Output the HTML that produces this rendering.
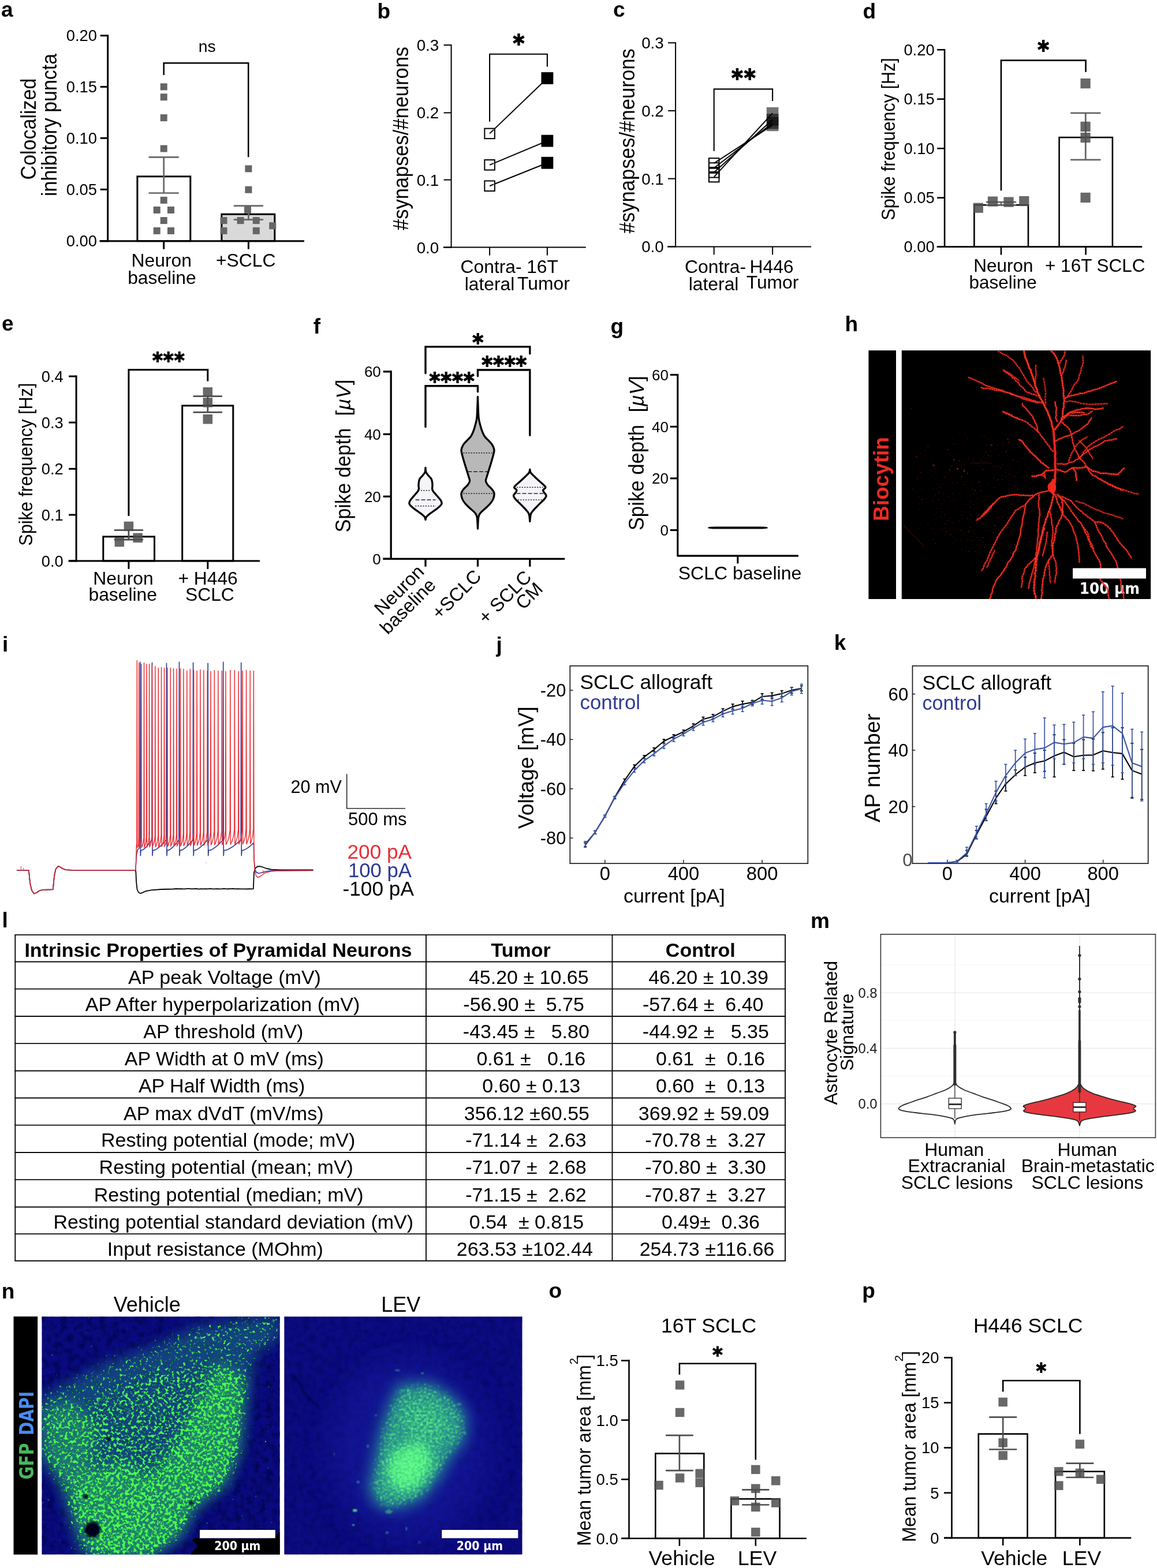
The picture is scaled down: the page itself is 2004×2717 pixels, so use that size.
<!DOCTYPE html>
<html lang="en">
<head>
<meta charset="utf-8">
<title>Extended Data Figure</title>
<style>
html,body{margin:0;padding:0;background:#fff;}
body{width:2004px;height:2717px;overflow:hidden;}
svg{display:block;}
text{font-family:"Liberation Sans",sans-serif;}
text.dj{font-family:"DejaVu Sans",sans-serif;}
</style>
</head>
<body>
<svg width="2004" height="2717" viewBox="0 0 2004 2717">
<defs>
<clipPath id="c1"><rect x="0" y="0" width="412.5" height="412.5"/></clipPath>
<clipPath id="ch"><rect x="0" y="0" width="431.4" height="430.8"/></clipPath>
<filter id="fg1" x="0" y="0" width="412.5" height="412.5" filterUnits="userSpaceOnUse" color-interpolation-filters="sRGB">
 <feGaussianBlur in="SourceGraphic" stdDeviation="7" result="m0"/>
 <feColorMatrix in="m0" type="matrix" values="0 0 0 1 0  0 0 0 1 0  0 0 0 1 0  0 0 0 0 1" result="m"/>
 <feTurbulence type="fractalNoise" baseFrequency="0.2" numOctaves="2" seed="7" result="t"/>
 <feColorMatrix in="t" type="matrix" values="1 0 0 0 0  1 0 0 0 0  1 0 0 0 0  0 0 0 0 1" result="n"/>
 <feComposite in="n" in2="m" operator="arithmetic" k1="0" k2="6" k3="2.1" k4="-4.62" result="a"/>
 <feColorMatrix in="a" type="matrix" values="0.22 0 0 0 0.08  0.25 0 0 0 0.75  0.2 0 0 0 0.12  1 0 0 0 0"/>
</filter>
<filter id="fg2" x="0" y="0" width="412.5" height="412.5" filterUnits="userSpaceOnUse" color-interpolation-filters="sRGB">
 <feGaussianBlur in="SourceGraphic" stdDeviation="9" result="m0"/>
 <feColorMatrix in="m0" type="matrix" values="0 0 0 1 0  0 0 0 1 0  0 0 0 1 0  0 0 0 0 1" result="m"/>
 <feTurbulence type="fractalNoise" baseFrequency="0.3" numOctaves="2" seed="11" result="t"/>
 <feColorMatrix in="t" type="matrix" values="1 0 0 0 0  1 0 0 0 0  1 0 0 0 0  0 0 0 0 1" result="n"/>
 <feComposite in="n" in2="m" operator="arithmetic" k1="0" k2="3.2" k3="3.0" k4="-2.9" result="a"/>
 <feColorMatrix in="a" type="matrix" values="0.3 0 0 0 0.1  0.2 0 0 0 0.8  0.3 0 0 0 0.25  1 0 0 0 0" result="g"/>
 <feGaussianBlur in="g" stdDeviation="0.9"/>
</filter>
<filter id="fbn" x="0" y="0" width="412.5" height="412.5" filterUnits="userSpaceOnUse" color-interpolation-filters="sRGB">
 <feTurbulence type="fractalNoise" baseFrequency="0.09" numOctaves="3" seed="4" result="t"/>
 <feColorMatrix in="t" type="matrix" values="0 0 0 0 0  0 0 0 0 0  0 0 0 0 0.25  1.6 0 0 0 -0.62"/>
</filter>
<filter id="fhn" x="0" y="0" width="431.4" height="430.8" filterUnits="userSpaceOnUse" color-interpolation-filters="sRGB">
 <feGaussianBlur in="SourceGraphic" stdDeviation="14" result="m0"/>
 <feColorMatrix in="m0" type="matrix" values="0 0 0 1 0  0 0 0 1 0  0 0 0 1 0  0 0 0 0 1" result="m"/>
 <feTurbulence type="fractalNoise" baseFrequency="0.38" numOctaves="1" seed="5" result="t"/>
 <feColorMatrix in="t" type="matrix" values="1 0 0 0 0  1 0 0 0 0  1 0 0 0 0  0 0 0 0 1" result="n"/>
 <feComposite in="n" in2="m" operator="arithmetic" k1="0" k2="9" k3="1.5" k4="-7.4" result="a"/>
 <feColorMatrix in="a" type="matrix" values="0 0 0 0 0.8  0 0 0 0 0.1  0 0 0 0 0.08  0.75 0 0 0 0"/>
</filter>
<filter id="blur2"><feGaussianBlur stdDeviation="2"/></filter>
<filter id="blur1" x="-5%" y="-5%" width="110%" height="110%"><feGaussianBlur stdDeviation="1.1"/></filter>
<filter id="blur5"><feGaussianBlur stdDeviation="5"/></filter>
<filter id="blur12" x="-50%" y="-50%" width="200%" height="200%"><feGaussianBlur stdDeviation="12"/></filter>
<filter id="blur25" x="-50%" y="-50%" width="200%" height="200%"><feGaussianBlur stdDeviation="25"/></filter>
<filter id="nblur" x="-5%" y="-5%" width="110%" height="110%"><feGaussianBlur stdDeviation="0.45"/></filter>
<clipPath id="chabs"><rect x="1561.8" y="607.2" width="431.4" height="430.8"/></clipPath></defs>
<rect width="2004" height="2717" fill="#fff"/>
<text x="2" y="29" font-size="37" font-weight="bold">a</text>
<rect x="237.9" y="305.8" width="91.9" height="111.9" fill="#fff" stroke="#000" stroke-width="3"/>
<rect x="383.9" y="371.2" width="91.9" height="46.5" fill="#d9d9d9" stroke="#000" stroke-width="3"/>
<line x1="186.7" y1="60.2" x2="186.7" y2="419.2" stroke="#000" stroke-width="3"/>
<line x1="172.5" y1="417.7" x2="527" y2="417.7" stroke="#000" stroke-width="3"/>
<line x1="173.7" y1="61.7" x2="186.7" y2="61.7" stroke="#000" stroke-width="3"/>
<line x1="173.7" y1="150.4" x2="186.7" y2="150.4" stroke="#000" stroke-width="3"/>
<line x1="173.7" y1="239.3" x2="186.7" y2="239.3" stroke="#000" stroke-width="3"/>
<line x1="173.7" y1="328.3" x2="186.7" y2="328.3" stroke="#000" stroke-width="3"/>
<line x1="173.7" y1="417.7" x2="186.7" y2="417.7" stroke="#000" stroke-width="3"/>
<line x1="283.7" y1="417.7" x2="283.7" y2="431.7" stroke="#000" stroke-width="3"/>
<line x1="430.4" y1="417.7" x2="430.4" y2="431.7" stroke="#000" stroke-width="3"/>
<text x="168" y="71.3" font-size="27.4" text-anchor="end">0.20</text>
<text x="168" y="160" font-size="27.4" text-anchor="end">0.15</text>
<text x="168" y="248.9" font-size="27.4" text-anchor="end">0.10</text>
<text x="168" y="337.9" font-size="27.4" text-anchor="end">0.05</text>
<text x="168" y="427.3" font-size="27.4" text-anchor="end">0.00</text>
<line x1="283.7" y1="272.3" x2="283.7" y2="334.5" stroke="#666666" stroke-width="2.7"/>
<line x1="258.7" y1="272.3" x2="308.7" y2="272.3" stroke="#666666" stroke-width="2.7" stroke-linecap="round"/>
<line x1="258.7" y1="334.5" x2="308.7" y2="334.5" stroke="#666666" stroke-width="2.7" stroke-linecap="round"/>
<line x1="430.4" y1="356.7" x2="430.4" y2="380.6" stroke="#666666" stroke-width="2.7"/>
<line x1="405.9" y1="356.7" x2="454.9" y2="356.7" stroke="#666666" stroke-width="2.7" stroke-linecap="round"/>
<line x1="405.9" y1="380.6" x2="454.9" y2="380.6" stroke="#666666" stroke-width="2.7" stroke-linecap="round"/>
<rect x="277.7" y="144.4" width="12" height="12" fill="#666666"/>
<rect x="277.7" y="162.2" width="12" height="12" fill="#666666"/>
<rect x="277.7" y="198.1" width="12" height="12" fill="#666666"/>
<rect x="277.7" y="251.5" width="12" height="12" fill="#666666"/>
<rect x="277.7" y="340.9" width="12" height="12" fill="#666666"/>
<rect x="265.7" y="357.9" width="12" height="12" fill="#666666"/>
<rect x="290" y="357.9" width="12" height="12" fill="#666666"/>
<rect x="277.7" y="376.1" width="12" height="12" fill="#666666"/>
<rect x="265.7" y="393.9" width="12" height="12" fill="#666666"/>
<rect x="290" y="393.9" width="12" height="12" fill="#666666"/>
<rect x="424.4" y="286.4" width="12" height="12" fill="#666666"/>
<rect x="424.4" y="322.7" width="12" height="12" fill="#666666"/>
<rect x="423" y="357.9" width="12" height="12" fill="#666666"/>
<rect x="381.5" y="376.1" width="12" height="12" fill="#666666"/>
<rect x="410.6" y="376.1" width="12" height="12" fill="#666666"/>
<rect x="437.8" y="376.1" width="12" height="12" fill="#666666"/>
<rect x="466.2" y="385.2" width="12" height="12" fill="#666666"/>
<rect x="381.5" y="393.9" width="12" height="12" fill="#666666"/>
<rect x="437.8" y="393.9" width="12" height="12" fill="#666666"/>
<path d="M283.7 130 L283.7 109.2 L430.2 109.2 L430.2 272.2" fill="none" stroke="#000" stroke-width="2.5" stroke-linejoin="miter"/>
<text x="358.8" y="90" font-size="28.3" text-anchor="middle">ns</text>
<text x="279.7" y="462.3" font-size="31.8" text-anchor="middle">Neuron</text>
<text x="280.4" y="492" font-size="31.8" text-anchor="middle">baseline</text>
<text x="425.7" y="462.3" font-size="31.8" text-anchor="middle">+SCLC</text>
<text x="62.1" y="311.4" font-size="37.5" transform="rotate(-90 62.1 311.4)" textLength="175.7" lengthAdjust="spacingAndGlyphs">Colocalized</text>
<text x="97.9" y="340" font-size="37.5" transform="rotate(-90 97.9 340)" textLength="247.09" lengthAdjust="spacingAndGlyphs">inhibitory puncta</text>
<text x="653.5" y="32" font-size="37" font-weight="bold">b</text>
<line x1="781.6" y1="77.1" x2="781.6" y2="429.6" stroke="#000" stroke-width="2"/>
<line x1="767.8" y1="428.6" x2="1014.8" y2="428.6" stroke="#000" stroke-width="2"/>
<line x1="768.6" y1="78.1" x2="781.6" y2="78.1" stroke="#000" stroke-width="2"/>
<line x1="768.6" y1="195.4" x2="781.6" y2="195.4" stroke="#000" stroke-width="2"/>
<line x1="768.6" y1="311.6" x2="781.6" y2="311.6" stroke="#000" stroke-width="2"/>
<line x1="768.6" y1="428.6" x2="781.6" y2="428.6" stroke="#000" stroke-width="2"/>
<line x1="848.1" y1="428.6" x2="848.1" y2="442.6" stroke="#000" stroke-width="2"/>
<line x1="947.9" y1="428.6" x2="947.9" y2="442.6" stroke="#000" stroke-width="2"/>
<text x="760.3" y="88" font-size="27.8" text-anchor="end">0.3</text>
<text x="760.3" y="205.3" font-size="27.8" text-anchor="end">0.2</text>
<text x="760.3" y="321.5" font-size="27.8" text-anchor="end">0.1</text>
<text x="760.3" y="438.5" font-size="27.8" text-anchor="end">0.0</text>
<text x="707.4" y="399" font-size="37" transform="rotate(-90 707.4 399)" textLength="318.1" lengthAdjust="spacingAndGlyphs">#synapses/#neurons</text>
<line x1="848.1" y1="231.4" x2="947.9" y2="135.5" stroke="#000" stroke-width="2"/>
<line x1="848.1" y1="285.8" x2="947.9" y2="244.1" stroke="#000" stroke-width="2"/>
<line x1="848.1" y1="322.2" x2="947.9" y2="282.2" stroke="#000" stroke-width="2"/>
<rect x="839.35" y="222.65" width="17.5" height="17.5" fill="#fff" stroke="#000" stroke-width="2"/>
<rect x="937.5" y="125.1" width="20.8" height="20.8" fill="#000"/>
<line x1="848.1" y1="231.4" x2="855.1" y2="224.67" stroke="#000" stroke-width="2"/>
<rect x="839.35" y="277.05" width="17.5" height="17.5" fill="#fff" stroke="#000" stroke-width="2"/>
<rect x="937.5" y="233.7" width="20.8" height="20.8" fill="#000"/>
<line x1="848.1" y1="285.8" x2="855.1" y2="282.88" stroke="#000" stroke-width="2"/>
<rect x="839.35" y="313.45" width="17.5" height="17.5" fill="#fff" stroke="#000" stroke-width="2"/>
<rect x="937.5" y="271.8" width="20.8" height="20.8" fill="#000"/>
<line x1="848.1" y1="322.2" x2="855.1" y2="319.39" stroke="#000" stroke-width="2"/>
<path d="M848.1 210.7 L848.1 93.8 L947.9 93.8 L947.9 115.5" fill="none" stroke="#000" stroke-width="2.1" stroke-linejoin="miter"/>
<text x="886.23" y="78.7" font-size="28.8" class="dj">✱</text>
<text x="850.6" y="473.2" font-size="31.8" text-anchor="middle">Contra-</text>
<text x="848" y="503" font-size="31.8" text-anchor="middle">lateral</text>
<text x="939.6" y="473.2" font-size="31.8" text-anchor="middle">16T</text>
<text x="941.4" y="501.5" font-size="31.8" text-anchor="middle">Tumor</text>
<text x="1062" y="28.8" font-size="37" font-weight="bold">c</text>
<line x1="1170.1" y1="73.2" x2="1170.1" y2="428.4" stroke="#000" stroke-width="2"/>
<line x1="1155.9" y1="427.4" x2="1405" y2="427.4" stroke="#000" stroke-width="2"/>
<line x1="1157.1" y1="74.2" x2="1170.1" y2="74.2" stroke="#000" stroke-width="2"/>
<line x1="1157.1" y1="191.9" x2="1170.1" y2="191.9" stroke="#000" stroke-width="2"/>
<line x1="1157.1" y1="309.6" x2="1170.1" y2="309.6" stroke="#000" stroke-width="2"/>
<line x1="1157.1" y1="427.4" x2="1170.1" y2="427.4" stroke="#000" stroke-width="2"/>
<line x1="1236.7" y1="427.4" x2="1236.7" y2="441.4" stroke="#000" stroke-width="2"/>
<line x1="1338.1" y1="427.4" x2="1338.1" y2="441.4" stroke="#000" stroke-width="2"/>
<text x="1149.8" y="84.1" font-size="27.8" text-anchor="end">0.3</text>
<text x="1149.8" y="201.8" font-size="27.8" text-anchor="end">0.2</text>
<text x="1149.8" y="319.5" font-size="27.8" text-anchor="end">0.1</text>
<text x="1149.8" y="437.3" font-size="27.8" text-anchor="end">0.0</text>
<text x="1098.6" y="404.6" font-size="37" transform="rotate(-90 1098.6 404.6)" textLength="320.5" lengthAdjust="spacingAndGlyphs">#synapses/#neurons</text>
<rect x="1327.8" y="206.6" width="20.6" height="20.6" fill="#000" fill-opacity="0.55"/>
<rect x="1327.8" y="202.9" width="20.6" height="20.6" fill="#000" fill-opacity="0.55"/>
<rect x="1327.8" y="197.2" width="20.6" height="20.6" fill="#000" fill-opacity="0.55"/>
<rect x="1327.8" y="185.8" width="20.6" height="20.6" fill="#000" fill-opacity="0.55"/>
<rect x="1227.95" y="274.15" width="17.5" height="17.5" fill="none" stroke="#000" stroke-width="2"/>
<rect x="1227.95" y="282.25" width="17.5" height="17.5" fill="none" stroke="#000" stroke-width="2"/>
<rect x="1227.95" y="290.05" width="17.5" height="17.5" fill="none" stroke="#000" stroke-width="2"/>
<rect x="1227.95" y="297.85" width="17.5" height="17.5" fill="none" stroke="#000" stroke-width="2"/>
<line x1="1236.7" y1="282.9" x2="1338.1" y2="216.9" stroke="#000" stroke-width="2"/>
<line x1="1236.7" y1="291" x2="1338.1" y2="213.2" stroke="#000" stroke-width="2"/>
<line x1="1236.7" y1="298.8" x2="1338.1" y2="207.5" stroke="#000" stroke-width="2"/>
<line x1="1236.7" y1="306.6" x2="1338.1" y2="196.1" stroke="#000" stroke-width="2"/>
<path d="M1236.7 261.8 L1236.7 154.4 L1338.1 154.4 L1338.1 174.9" fill="none" stroke="#000" stroke-width="2.1" stroke-linejoin="miter"/>
<text x="1264.73" y="139.4" font-size="28.8" class="dj" letter-spacing="-2.33">✱✱</text>
<text x="1239.1" y="473.2" font-size="31.8" text-anchor="middle">Contra-</text>
<text x="1236.1" y="503.4" font-size="31.8" text-anchor="middle">lateral</text>
<text x="1336.5" y="473.2" font-size="31.8" text-anchor="middle">H446</text>
<text x="1338" y="500.4" font-size="31.8" text-anchor="middle">Tumor</text>
<text x="1494.6" y="31.9" font-size="37" font-weight="bold">d</text>
<rect x="1687.4" y="355.2" width="93.6" height="72.4" fill="#fff" stroke="#000" stroke-width="2.6"/>
<rect x="1834.6" y="238.1" width="92.3" height="189.5" fill="#fff" stroke="#000" stroke-width="2.6"/>
<line x1="1636.1" y1="84.9" x2="1636.1" y2="428.9" stroke="#000" stroke-width="2.6"/>
<line x1="1622.7" y1="427.6" x2="1978.2" y2="427.6" stroke="#000" stroke-width="2.6"/>
<line x1="1623.1" y1="86.2" x2="1636.1" y2="86.2" stroke="#000" stroke-width="2.6"/>
<line x1="1623.1" y1="171.7" x2="1636.1" y2="171.7" stroke="#000" stroke-width="2.6"/>
<line x1="1623.1" y1="257.2" x2="1636.1" y2="257.2" stroke="#000" stroke-width="2.6"/>
<line x1="1623.1" y1="342.7" x2="1636.1" y2="342.7" stroke="#000" stroke-width="2.6"/>
<line x1="1623.1" y1="427.6" x2="1636.1" y2="427.6" stroke="#000" stroke-width="2.6"/>
<line x1="1734" y1="427.6" x2="1734" y2="441.6" stroke="#000" stroke-width="2.6"/>
<line x1="1880.6" y1="427.6" x2="1880.6" y2="441.6" stroke="#000" stroke-width="2.6"/>
<text x="1618.7" y="95.8" font-size="27.4" text-anchor="end">0.20</text>
<text x="1618.7" y="181.3" font-size="27.4" text-anchor="end">0.15</text>
<text x="1618.7" y="266.8" font-size="27.4" text-anchor="end">0.10</text>
<text x="1618.7" y="352.3" font-size="27.4" text-anchor="end">0.05</text>
<text x="1618.7" y="437.2" font-size="27.4" text-anchor="end">0.00</text>
<line x1="1734" y1="350.2" x2="1734" y2="355.5" stroke="#666666" stroke-width="2.8"/>
<line x1="1709" y1="350.2" x2="1759" y2="350.2" stroke="#666666" stroke-width="2.8" stroke-linecap="round"/>
<line x1="1709" y1="355.5" x2="1759" y2="355.5" stroke="#666666" stroke-width="2.8" stroke-linecap="round"/>
<line x1="1880.3" y1="195.8" x2="1880.3" y2="276.9" stroke="#666666" stroke-width="2.8"/>
<line x1="1855.3" y1="195.8" x2="1905.3" y2="195.8" stroke="#666666" stroke-width="2.8" stroke-linecap="round"/>
<line x1="1855.3" y1="276.9" x2="1905.3" y2="276.9" stroke="#666666" stroke-width="2.8" stroke-linecap="round"/>
<rect x="1685.7" y="351.6" width="17.2" height="17.2" fill="#4d4d4d" fill-opacity="0.85"/>
<rect x="1710.9" y="340.5" width="17.2" height="17.2" fill="#4d4d4d" fill-opacity="0.85"/>
<rect x="1738.4" y="341.5" width="17.2" height="17.2" fill="#4d4d4d" fill-opacity="0.85"/>
<rect x="1765.2" y="339.9" width="17.2" height="17.2" fill="#4d4d4d" fill-opacity="0.85"/>
<rect x="1871.5" y="136" width="17.2" height="17.2" fill="#4d4d4d" fill-opacity="0.85"/>
<rect x="1871.5" y="210.8" width="17.2" height="17.2" fill="#4d4d4d" fill-opacity="0.85"/>
<rect x="1871.5" y="229.9" width="17.2" height="17.2" fill="#4d4d4d" fill-opacity="0.85"/>
<rect x="1871.5" y="333.8" width="17.2" height="17.2" fill="#4d4d4d" fill-opacity="0.85"/>
<path d="M1734 330.3 L1734 104.6 L1880.6 104.6 L1880.6 124.7" fill="none" stroke="#000" stroke-width="2.6" stroke-linejoin="miter"/>
<text x="1794.93" y="90.3" font-size="28.8" class="dj">✱</text>
<text x="1738" y="470.5" font-size="31.5" text-anchor="middle">Neuron</text>
<text x="1737.2" y="499.7" font-size="31.5" text-anchor="middle">baseline</text>
<text x="1896.8" y="470.5" font-size="31.5" text-anchor="middle">+ 16T SCLC</text>
<text x="1549.8" y="381.7" font-size="33" transform="rotate(-90 1549.8 381.7)" textLength="281.5" lengthAdjust="spacingAndGlyphs">Spike frequency [Hz]</text>
<text x="3.1" y="573" font-size="37" font-weight="bold">e</text>
<rect x="178.8" y="929.9" width="88.7" height="42" fill="#fff" stroke="#000" stroke-width="3"/>
<rect x="315.7" y="702.9" width="88.1" height="269" fill="#fff" stroke="#000" stroke-width="3"/>
<line x1="132.1" y1="650.6" x2="132.1" y2="973.4" stroke="#000" stroke-width="3"/>
<line x1="118.6" y1="971.9" x2="450.1" y2="971.9" stroke="#000" stroke-width="3"/>
<line x1="119.1" y1="652.1" x2="132.1" y2="652.1" stroke="#000" stroke-width="3"/>
<line x1="119.1" y1="732.1" x2="132.1" y2="732.1" stroke="#000" stroke-width="3"/>
<line x1="119.1" y1="812.4" x2="132.1" y2="812.4" stroke="#000" stroke-width="3"/>
<line x1="119.1" y1="892.1" x2="132.1" y2="892.1" stroke="#000" stroke-width="3"/>
<line x1="119.1" y1="971.9" x2="132.1" y2="971.9" stroke="#000" stroke-width="3"/>
<line x1="222.9" y1="971.9" x2="222.9" y2="985.9" stroke="#000" stroke-width="3"/>
<line x1="359.8" y1="971.9" x2="359.8" y2="985.9" stroke="#000" stroke-width="3"/>
<text x="109.8" y="661.8" font-size="27.3" text-anchor="end">0.4</text>
<text x="109.8" y="741.8" font-size="27.3" text-anchor="end">0.3</text>
<text x="109.8" y="822.1" font-size="27.3" text-anchor="end">0.2</text>
<text x="109.8" y="901.8" font-size="27.3" text-anchor="end">0.1</text>
<text x="109.8" y="981.6" font-size="27.3" text-anchor="end">0.0</text>
<line x1="222.9" y1="918.7" x2="222.9" y2="935" stroke="#4d4d4d" stroke-width="2.8"/>
<line x1="198.9" y1="918.7" x2="246.9" y2="918.7" stroke="#4d4d4d" stroke-width="2.8" stroke-linecap="round"/>
<line x1="198.9" y1="935" x2="246.9" y2="935" stroke="#4d4d4d" stroke-width="2.8" stroke-linecap="round"/>
<line x1="359.8" y1="686.7" x2="359.8" y2="714.4" stroke="#4d4d4d" stroke-width="2.8"/>
<line x1="335.8" y1="686.7" x2="383.8" y2="686.7" stroke="#4d4d4d" stroke-width="2.8" stroke-linecap="round"/>
<line x1="335.8" y1="714.4" x2="383.8" y2="714.4" stroke="#4d4d4d" stroke-width="2.8" stroke-linecap="round"/>
<rect x="214.65" y="903.75" width="16.5" height="16.5" fill="#4d4d4d" fill-opacity="0.85"/>
<rect x="198.55" y="930.85" width="16.5" height="16.5" fill="#4d4d4d" fill-opacity="0.85"/>
<rect x="230.35" y="923.65" width="16.5" height="16.5" fill="#4d4d4d" fill-opacity="0.85"/>
<rect x="351.55" y="671.15" width="16.5" height="16.5" fill="#4d4d4d" fill-opacity="0.85"/>
<rect x="351.55" y="689.15" width="16.5" height="16.5" fill="#4d4d4d" fill-opacity="0.85"/>
<rect x="351.55" y="718.05" width="16.5" height="16.5" fill="#4d4d4d" fill-opacity="0.85"/>
<path d="M222.9 894.1 L222.9 640.7 L359.8 640.7 L359.8 660.6" fill="none" stroke="#000" stroke-width="3" stroke-linejoin="miter"/>
<text x="261.92" y="628.15" font-size="26.2" class="dj" letter-spacing="-3.06">✱✱✱</text>
<text x="213.5" y="1013.1" font-size="31.8" text-anchor="middle">Neuron</text>
<text x="212.7" y="1040.5" font-size="31.8" text-anchor="middle">baseline</text>
<text x="360.1" y="1013.1" font-size="31.8" text-anchor="middle">+ H446</text>
<text x="363.4" y="1040.5" font-size="31.8" text-anchor="middle">SCLC</text>
<text x="55.7" y="945.7" font-size="33" transform="rotate(-90 55.7 945.7)" textLength="282.1" lengthAdjust="spacingAndGlyphs">Spike frequency [Hz]</text>
<text x="542.7" y="577.8" font-size="37" font-weight="bold">f</text>
<line x1="677.2" y1="642.25" x2="677.2" y2="969.95" stroke="#000" stroke-width="3.3"/>
<line x1="663.5" y1="968.3" x2="978.2" y2="968.3" stroke="#000" stroke-width="3.3"/>
<line x1="663.7" y1="643.9" x2="677.2" y2="643.9" stroke="#000" stroke-width="3.3"/>
<line x1="663.7" y1="752.4" x2="677.2" y2="752.4" stroke="#000" stroke-width="3.3"/>
<line x1="663.7" y1="860.3" x2="677.2" y2="860.3" stroke="#000" stroke-width="3.3"/>
<line x1="663.7" y1="968.3" x2="677.2" y2="968.3" stroke="#000" stroke-width="3.3"/>
<line x1="737" y1="968.3" x2="737" y2="981.8" stroke="#000" stroke-width="3.3"/>
<line x1="827.5" y1="968.3" x2="827.5" y2="981.8" stroke="#000" stroke-width="3.3"/>
<line x1="917.8" y1="968.3" x2="917.8" y2="981.8" stroke="#000" stroke-width="3.3"/>
<text x="659.8" y="653.4" font-size="26" text-anchor="end">60</text>
<text x="659.8" y="761.9" font-size="26" text-anchor="end">40</text>
<text x="659.8" y="869.8" font-size="26" text-anchor="end">20</text>
<text x="659.8" y="977.8" font-size="26" text-anchor="end">0</text>
<text x="607.1" y="922.6" font-size="36.7" transform="rotate(-90 607.1 922.6)" textLength="180.79" lengthAdjust="spacingAndGlyphs">Spike depth</text>
<text x="607.1" y="720.8" font-size="35.5" transform="rotate(-90 607.1 720.8)" textLength="63.3" lengthAdjust="spacingAndGlyphs">[<tspan font-style="italic">µV</tspan>]</text>
<path d="M737 810.51 C737.16 811.8 737.06 815.93 737.97 818.26 C738.87 820.58 740.91 822.52 742.42 824.46 C743.94 826.39 746.04 828.01 747.07 829.88 C748.11 831.75 748.3 833.75 748.62 835.69 C748.95 837.63 749.01 839.56 749.01 841.5 C749.01 843.44 748.43 845.7 748.62 847.31 C748.82 848.93 749.36 849.9 750.17 851.19 C750.98 852.48 752.24 853.61 753.46 855.06 C754.69 856.51 756.14 858.29 757.53 859.9 C758.92 861.52 760.66 863.29 761.79 864.75 C762.92 866.2 763.76 867.49 764.31 868.62 C764.86 869.75 765.09 870.56 765.09 871.53 C765.09 872.49 765.05 873.3 764.31 874.43 C763.57 875.56 762.02 877.01 760.63 878.31 C759.24 879.6 757.92 880.73 755.98 882.18 C754.05 883.63 751.27 885.41 749.01 887.02 C746.75 888.64 744.17 890.41 742.42 891.86 C740.68 893.32 739.45 894.29 738.55 895.74 C737.65 897.19 737.26 899.77 737 900.58 L737 900.58 C736.74 899.77 736.35 897.19 735.45 895.74 C734.55 894.29 733.32 893.32 731.58 891.86 C729.83 890.41 727.25 888.64 724.99 887.02 C722.73 885.41 719.95 883.63 718.02 882.18 C716.08 880.73 714.76 879.6 713.37 878.31 C711.98 877.01 710.43 875.56 709.69 874.43 C708.95 873.3 708.91 872.49 708.91 871.53 C708.91 870.56 709.14 869.75 709.69 868.62 C710.24 867.49 711.08 866.2 712.21 864.75 C713.34 863.29 715.08 861.52 716.47 859.9 C717.86 858.29 719.31 856.51 720.54 855.06 C721.76 853.61 723.02 852.48 723.83 851.19 C724.64 849.9 725.18 848.93 725.38 847.31 C725.57 845.7 724.99 843.44 724.99 841.5 C724.99 839.56 725.05 837.63 725.38 835.69 C725.7 833.75 725.89 831.75 726.93 829.88 C727.96 828.01 730.06 826.39 731.58 824.46 C733.09 822.52 735.13 820.58 736.03 818.26 C736.94 815.93 736.84 811.8 737 810.51 Z" fill="#f4f4f9" stroke="#000" stroke-width="3.3" stroke-linejoin="round"/>
<path d="M827.5 687.51 C827.6 690.25 827.82 698 828.08 703.97 C828.34 709.94 828.5 718.18 829.05 723.34 C829.6 728.51 830.41 731.09 831.37 734.96 C832.34 738.84 833.5 743.03 834.86 746.59 C836.22 750.14 837.51 753.37 839.51 756.27 C841.51 759.18 844.68 761.6 846.87 764.02 C849.07 766.44 851.16 768.22 852.68 770.8 C854.2 773.38 855.72 776.45 855.97 779.52 C856.23 782.58 855.17 785.33 854.23 789.2 C853.29 793.08 851.75 798.08 850.36 802.76 C848.97 807.44 847.19 813.09 845.9 817.29 C844.61 821.49 843.35 825.2 842.61 827.94 C841.87 830.69 841.06 831.65 841.45 833.75 C841.83 835.85 843.22 838.27 844.93 840.53 C846.64 842.79 849.87 844.89 851.71 847.31 C853.55 849.73 855.55 852.15 855.97 855.06 C856.39 857.97 855.36 861.84 854.23 864.75 C853.1 867.65 851.33 869.91 849.19 872.49 C847.06 875.08 844.16 877.66 841.45 880.24 C838.73 882.82 835.02 885.41 832.92 887.99 C830.83 890.57 829.76 891.06 828.86 895.74 C827.95 900.42 827.73 912.69 827.5 916.08 L827.5 916.08 C827.27 912.69 827.05 900.42 826.14 895.74 C825.24 891.06 824.17 890.57 822.08 887.99 C819.98 885.41 816.27 882.82 813.55 880.24 C810.84 877.66 807.94 875.08 805.81 872.49 C803.67 869.91 801.9 867.65 800.77 864.75 C799.64 861.84 798.61 857.97 799.03 855.06 C799.45 852.15 801.45 849.73 803.29 847.31 C805.13 844.89 808.36 842.79 810.07 840.53 C811.78 838.27 813.17 835.85 813.55 833.75 C813.94 831.65 813.13 830.69 812.39 827.94 C811.65 825.2 810.39 821.49 809.1 817.29 C807.81 813.09 806.03 807.44 804.64 802.76 C803.25 798.08 801.71 793.08 800.77 789.2 C799.83 785.33 798.77 782.58 799.03 779.52 C799.28 776.45 800.8 773.38 802.32 770.8 C803.84 768.22 805.93 766.44 808.13 764.02 C810.32 761.6 813.49 759.18 815.49 756.27 C817.49 753.37 818.78 750.14 820.14 746.59 C821.5 743.03 822.66 738.84 823.63 734.96 C824.59 731.09 825.4 728.51 825.95 723.34 C826.5 718.18 826.66 709.94 826.92 703.97 C827.18 698 827.4 690.25 827.5 687.51 Z" fill="#b8b8b8" stroke="#000" stroke-width="3.3" stroke-linejoin="round"/>
<path d="M917.8 813.41 C918.06 814.38 917.99 817.13 919.35 819.23 C920.71 821.32 923.45 823.58 925.94 826 C928.42 828.43 931.59 831.33 934.26 833.75 C936.94 836.17 940.24 838.66 942.01 840.53 C943.79 842.41 945.14 843.54 944.92 844.99 C944.69 846.44 941.04 847.83 940.66 849.25 C940.27 850.67 941.69 851.9 942.59 853.51 C943.5 855.13 946.02 857.06 946.08 858.93 C946.15 860.81 944.47 862.81 942.98 864.75 C941.5 866.68 939.27 868.46 937.17 870.56 C935.07 872.66 932.59 875.08 930.39 877.34 C928.2 879.6 925.84 881.86 924 884.12 C922.16 886.38 920.38 887.67 919.35 890.9 C918.32 894.12 918.06 901.39 917.8 903.49 L917.8 903.49 C917.54 901.39 917.28 894.12 916.25 890.9 C915.22 887.67 913.44 886.38 911.6 884.12 C909.76 881.86 907.4 879.6 905.21 877.34 C903.01 875.08 900.53 872.66 898.43 870.56 C896.33 868.46 894.1 866.68 892.62 864.75 C891.13 862.81 889.45 860.81 889.52 858.93 C889.58 857.06 892.1 855.13 893.01 853.51 C893.91 851.9 895.33 850.67 894.94 849.25 C894.56 847.83 890.91 846.44 890.68 844.99 C890.46 843.54 891.81 842.41 893.59 840.53 C895.36 838.66 898.66 836.17 901.34 833.75 C904.01 831.33 907.18 828.43 909.66 826 C912.15 823.58 914.89 821.32 916.25 819.23 C917.61 817.13 917.54 814.38 917.8 813.41 Z" fill="#f4f4f9" stroke="#000" stroke-width="3.3" stroke-linejoin="round"/>
<line x1="728.86" y1="849.83" x2="745.14" y2="849.83" stroke="#000" stroke-width="1.3" stroke-dasharray="2.2 2.2"/>
<line x1="719.57" y1="866.1" x2="754.43" y2="866.1" stroke="#000" stroke-width="1.3" stroke-dasharray="7 3"/>
<line x1="719.18" y1="876.95" x2="754.82" y2="876.95" stroke="#000" stroke-width="1.3" stroke-dasharray="2.2 2.2"/>
<line x1="802.32" y1="784.94" x2="852.68" y2="784.94" stroke="#000" stroke-width="1.3" stroke-dasharray="2.2 2.2"/>
<line x1="810.07" y1="817.29" x2="844.93" y2="817.29" stroke="#000" stroke-width="1.3" stroke-dasharray="7 3"/>
<line x1="802.32" y1="855.06" x2="852.68" y2="855.06" stroke="#000" stroke-width="1.3" stroke-dasharray="2.2 2.2"/>
<line x1="894.94" y1="844.41" x2="940.66" y2="844.41" stroke="#000" stroke-width="1.3" stroke-dasharray="2.2 2.2"/>
<line x1="894.56" y1="855.06" x2="941.04" y2="855.06" stroke="#000" stroke-width="1.3" stroke-dasharray="7 3"/>
<line x1="896.88" y1="866.1" x2="938.72" y2="866.1" stroke="#000" stroke-width="1.3" stroke-dasharray="2.2 2.2"/>
<path d="M737 646.8 L737 600.9 L917.8 600.9 L917.8 612.9" fill="none" stroke="#000" stroke-width="3.4" stroke-linecap="round" stroke-linejoin="miter"/>
<path d="M737 739.8 L737 668.7 L827.5 668.7 L827.5 678.8" fill="none" stroke="#000" stroke-width="3.4" stroke-linecap="round" stroke-linejoin="miter"/>
<path d="M827.5 651.7 L827.5 641 L917.8 641 L917.8 754.3" fill="none" stroke="#000" stroke-width="3.4" stroke-linecap="round" stroke-linejoin="miter"/>
<text x="815.98" y="596.82" font-size="27.5" class="dj">✱</text>
<text x="741.33" y="663.72" font-size="27.5" class="dj" letter-spacing="-3.34">✱✱✱✱</text>
<text x="832.03" y="635.62" font-size="27.5" class="dj" letter-spacing="-3.34">✱✱✱✱</text>
<text x="736.4" y="992.5" font-size="32.3" text-anchor="end" transform="rotate(-45 736.4 992.5)">Neuron</text>
<text x="756.7" y="1015.7" font-size="32.3" text-anchor="end" transform="rotate(-45 756.7 1015.7)">baseline</text>
<text x="835.6" y="1000.6" font-size="32.3" text-anchor="end" transform="rotate(-45 835.6 1000.6)">+SCLC</text>
<text x="922.4" y="1002.1" font-size="32.3" text-anchor="end" transform="rotate(-45 922.4 1002.1)">+ SCLC</text>
<text x="942" y="1022.6" font-size="32.3" text-anchor="end" transform="rotate(-45 942 1022.6)">CM</text>
<text x="1057.5" y="577.8" font-size="37" font-weight="bold">g</text>
<line x1="1173.8" y1="647.9" x2="1173.8" y2="964.6" stroke="#000" stroke-width="3.1"/>
<line x1="1173.8" y1="963.1" x2="1382.9" y2="963.1" stroke="#000" stroke-width="3.1"/>
<line x1="1160.7" y1="649.4" x2="1173.8" y2="649.4" stroke="#000" stroke-width="3.1"/>
<line x1="1160.7" y1="739.3" x2="1173.8" y2="739.3" stroke="#000" stroke-width="3.1"/>
<line x1="1160.7" y1="828.9" x2="1173.8" y2="828.9" stroke="#000" stroke-width="3.1"/>
<line x1="1160.7" y1="918.6" x2="1173.8" y2="918.6" stroke="#000" stroke-width="3.1"/>
<line x1="1277.8" y1="963.1" x2="1277.8" y2="976.5" stroke="#000" stroke-width="3.1"/>
<text x="1158" y="658.9" font-size="26" text-anchor="end">60</text>
<text x="1158" y="748.8" font-size="26" text-anchor="end">40</text>
<text x="1158" y="838.4" font-size="26" text-anchor="end">20</text>
<text x="1158" y="928.1" font-size="26" text-anchor="end">0</text>
<text x="1115" y="919.3" font-size="36.7" transform="rotate(-90 1115 919.3)" textLength="183.39" lengthAdjust="spacingAndGlyphs">Spike depth</text>
<text x="1115" y="714.4" font-size="35.5" transform="rotate(-90 1115 714.4)" textLength="63.3" lengthAdjust="spacingAndGlyphs">[<tspan font-style="italic">µV</tspan>]</text>
<path d="M1227 914.4 Q1228 913.2 1240 913.2 L1316 913.2 Q1328 913.2 1329 914.4 Q1328 915.6 1316 915.6 L1240 915.6 Q1228 915.6 1227 914.4 Z" fill="#000" stroke="#000" stroke-width="1.6"/>
<text x="1281.5" y="1004.1" font-size="32" text-anchor="middle">SCLC baseline</text>
<text x="1463.5" y="573.5" font-size="37" font-weight="bold">h</text>
<rect x="1504.4" y="607.2" width="47.6" height="430.8" fill="#000"/>
<rect x="1561.8" y="607.2" width="431.4" height="430.8" fill="#000"/>
<text x="1539" y="830" font-size="37" text-anchor="middle" font-weight="bold" fill="#ee2a24" transform="rotate(-90 1539 830)">Biocytin</text>
<text x="1869.8" y="1029.1" font-size="27.2" font-weight="bold" fill="#fff" class="dj" textLength="104.3" lengthAdjust="spacingAndGlyphs">100 µm</text>
<g clip-path="url(#chabs)">
<g transform="translate(1561.8 607.2)"><g filter="url(#fhn)"><ellipse cx="150" cy="250" rx="140" ry="130" fill="#fff" fill-opacity="0.75"/><ellipse cx="150" cy="300" rx="60" ry="25" fill="#fff" fill-opacity="0.5"/><rect width="431.4" height="430.8" fill="#fff" fill-opacity="0.12"/></g></g>
<circle cx="1658.23" cy="812.18" r="1.79" fill="#f0281e" fill-opacity="0.55"/>
<circle cx="1670.02" cy="816.11" r="1.53" fill="#f0281e" fill-opacity="0.6"/>
<circle cx="1652.34" cy="796.46" r="1.28" fill="#f0281e" fill-opacity="0.5"/>
<circle cx="1616.97" cy="806.29" r="2.3" fill="#f0281e" fill-opacity="0.3"/>
<circle cx="1717.17" cy="770.92" r="2.04" fill="#f0281e" fill-opacity="0.3"/>
<circle cx="1745.66" cy="761.1" r="1.02" fill="#f0281e" fill-opacity="0.6"/>
<circle cx="1742.71" cy="782.71" r="1.02" fill="#f0281e" fill-opacity="0.5"/>
<circle cx="1695.56" cy="834.77" r="1.02" fill="#f0281e" fill-opacity="0.6"/>
<circle cx="1587.5" cy="791.55" r="1.02" fill="#f0281e" fill-opacity="0.5"/>
<circle cx="1607.15" cy="772.89" r="0.77" fill="#f0281e" fill-opacity="0.4"/>
<circle cx="1578.66" cy="707.66" r="0.77" fill="#f0281e" fill-opacity="0.5"/>
<circle cx="1662.16" cy="798.43" r="1.02" fill="#f0281e" fill-opacity="0.5"/>
<circle cx="1644.48" cy="814.15" r="1.02" fill="#f0281e" fill-opacity="0.45"/>
<circle cx="1675.91" cy="820.04" r="1.02" fill="#f0281e" fill-opacity="0.5"/>
<line x1="1565.89" y1="910.41" x2="1601.26" y2="947.74" stroke="#f0281e" stroke-width="1.1" stroke-dasharray="1.2 2.6" stroke-opacity="0.7"/>
<line x1="1681.81" y1="802.36" x2="1717.17" y2="802.36" stroke="#f0281e" stroke-width="1.1" stroke-dasharray="1.2 2.2" stroke-opacity="0.5"/>
<g fill="none" stroke="#d81a12" stroke-linecap="round" stroke-linejoin="round" filter="url(#blur1)" opacity="0.55">
<path d="M1827.12 836.08 L1827.25 832.57 L1827.55 828.53 L1827.18 825.08 L1827.54 821.8 L1828.03 818 L1828.05 814.37 L1827.69 810.97 L1827.65 808.07 L1827.51 804.73 L1827.47 801.36 L1827.62 797.86 L1827.97 794.29 L1827.29 791.74 L1827.6 787.81 L1827.93 785.22 L1827.29 781.56 L1826.93 778.07 L1827.06 774.58 L1826.86 771.12 L1826.18 768.36 L1826.1 764.67 L1826 761.34 L1825.61 757.75 L1825.42 754.13 L1825.2 749.65 L1824.32 745.21" stroke-width="4.6"/>
<path d="M1824.39 745.28 L1823.77 741.91 L1822 737.62 L1821.46 734.4 L1821.23 730.75 L1819.62 727.28 L1818.39 723.51 L1816.71 719.74 L1815.6 716.63 L1814.21 712.62 L1812.47 709.98 L1810.81 706.44 L1809.81 704.08 L1807.92 700.91 L1807 697.95 L1805.29 695.48 L1803.48 692.21 L1801.2 688.89 L1799.67 684.52 L1798.19 681.92 L1796.23 678.1 L1796.29 674.94 L1794.41 671.18 L1793.01 668.82 L1792.86 665.62 L1791.53 661.03 L1790.17 658.54 L1789.84 654.69 L1787.85 650.89 L1787.16 647.28 L1785.6 644.86 L1785.34 640.66 L1783.22 638.7 L1781.99 635.77 L1781.14 632.38 L1780.01 628.91 L1778.45 625.51 L1777.91 622.99 L1775.95 620.1 L1775.32 616.21 L1774.36 612.52 L1773.58 607.33" stroke-width="3.6"/>
<path d="M1825.3 745.28 L1828.05 743.4 L1829.93 740.01 L1831.79 738.16 L1834.21 735.11 L1835.67 732.22 L1838.13 729.87 L1837.97 726.75 L1839.98 723.48 L1840.65 720.24 L1840.76 716.37 L1841.01 711.99 L1841.43 708.68 L1842.75 705.61 L1842.62 701.88 L1842.44 698.11 L1843.56 694.38 L1842.78 690.66 L1842.59 687.44 L1842.02 682.92 L1841.97 680.2 L1842.34 676.51 L1841.86 672.57 L1840.4 668.99 L1840.47 664.89 L1840.26 661.5 L1839.07 657.85 L1839.14 654.23 L1837.99 650.52 L1837.02 647.11 L1836.32 644.21 L1836.02 640.25 L1835.12 636.3 L1834.31 633.2 L1832.64 628.99 L1832.42 625.92 L1830.61 621.81 L1829.33 618.61 L1827.38 615.98 L1825.54 612.74 L1822.85 609.94 L1819.97 607.54" stroke-width="3.4"/>
<path d="M1835.29 629.06 L1837.33 625.67 L1839.09 622.15 L1841.01 619.59 L1843.34 616.12 L1844.37 611.66 L1844.59 607.68" stroke-width="2.8"/>
<path d="M1839.83 649.03 L1840.75 646.32 L1842.6 642.23 L1842.54 639.44 L1844.7 636.12 L1845.42 632.64 L1846.36 627.79 L1847.05 623.55" stroke-width="2.7"/>
<path d="M1843.46 690.8 L1846.92 688.83 L1850.88 687 L1853.46 685.89 L1857.79 685.38 L1859.59 684.95 L1863.62 683.7 L1866.86 683.16 L1870.41 681.54 L1874.88 681.85 L1877.53 681.2 L1881.36 679.81 L1884.5 678.32 L1888.36 678.05 L1892.19 676.17 L1895.65 675.26 L1899.94 674.51 L1902.19 673.52 L1905.86 671.96 L1908.88 671.05 L1912.31 669.62 L1915.09 668.35 L1917.98 667.14 L1920.88 665.94 L1924.41 664.32 L1927.82 663.36 L1930.8 662.39 L1933.58 660.93" stroke-width="3"/>
<path d="M1849.82 685.35 L1851.75 682.03 L1854.06 679.38 L1856.45 675.26 L1857.77 672.44 L1859.18 669.07 L1860.88 666.45 L1862.86 664.2 L1865.43 661.72 L1867.3 658.23 L1868.83 654.13 L1868.84 652.21 L1870.3 647.86 L1871.81 644.92 L1872.54 641.68 L1872.86 637.52 L1874.13 635.18 L1875.43 631.27 L1876.07 627.03 L1876.05 623.82 L1875.85 620.23 L1875 616.21" stroke-width="2.7"/>
<path d="M1843.46 696.25 L1847.07 695.99 L1851.21 695.42 L1854.28 694.37 L1858.53 696.07 L1861.6 695.79 L1865.44 697.21 L1868.68 697.66 L1872.46 699.03 L1875.59 699.39 L1880.46 700.06 L1883.04 699.94 L1886.45 700.78 L1890.74 700.62 L1894.15 700.77 L1897.6 700.29 L1900.61 700.09 L1905.04 699.9 L1907.71 699.93 L1910.62 699.68 L1914.07 699.41 L1917.85 699.44" stroke-width="2.6"/>
<path d="M1840.74 723.49 L1844.72 720.76 L1847.14 718.88 L1850.67 716.23 L1854.12 714.22 L1857.34 712.9 L1859.88 712.6 L1863.68 710.86 L1866.58 709.96 L1870.38 709.83 L1873.93 708.14 L1878.17 708.07 L1881.64 707.13 L1885.92 707.44 L1889.52 707.71 L1892.44 708.02 L1896.45 708.97 L1899.63 708.97 L1903.73 708.36 L1907.26 707.92 L1910.76 707.07" stroke-width="3"/>
<path d="M1850.73 716.22 L1853.61 715.06 L1857.67 715.75 L1860.09 715.56 L1863.64 714.23 L1867.57 714.51 L1870.42 714.5 L1874.2 714.41 L1877.74 715.12" stroke-width="2.9"/>
<path d="M1838.01 729.84 L1840.45 726.61 L1842.89 724.89 L1846.01 721.66 L1848.96 719.16 L1852.01 718.86 L1856.71 720.2 L1860.45 719.94 L1863.37 720.06 L1867.69 720.18 L1870.78 719.78 L1873.97 718.96 L1878.57 717.89 L1881.66 717.88 L1885.74 716.73 L1889.08 714.31 L1892.25 712.59" stroke-width="2.9"/>
<path d="M1838.92 730.75 L1841.07 732.78 L1843.01 735.74 L1846.04 737.38 L1848.88 740.06 L1850.75 741.67 L1852.61 744.63 L1854.05 747.29 L1855.26 751.22 L1856.23 754.6 L1856.21 757.4 L1857.53 761.08 L1857.57 764.31 L1858.08 767.25 L1859.58 770.5 L1860.39 773.71 L1861.51 777.28 L1863.68 781.42 L1865.41 784.68 L1867.77 788.91 L1868.72 792.66 L1871.7 795.48 L1873.01 796.89 L1875.94 798.98 L1878 801.67 L1880.16 805.69 L1881.72 808.73" stroke-width="2.9"/>
<path d="M1828.03 764.35 L1831.81 762.66 L1834.34 760.45 L1838.42 759.37 L1841.44 757.98 L1845.15 756.37 L1849.01 755.32 L1852.59 754.63 L1856.38 752.44 L1860 750.45 L1863.37 748.25 L1865.71 747.74 L1869.49 745.59 L1872.37 743.27 L1875.75 740.63 L1877.11 739 L1880.62 737.19 L1883.43 735.16 L1885.2 732.77 L1886.77 728.87 L1889.55 727.08 L1890.76 723.48" stroke-width="2.8"/>
<path d="M1807.14 698.97 L1803.07 697.64 L1799.23 696.55 L1796.24 696.44 L1793.63 695.18 L1789.97 694.02 L1786.85 693.29 L1783.9 692.41 L1779.99 690.84 L1776.08 689.85 L1773.17 688.46 L1769.47 687.94 L1766.1 687.35 L1763 686.99 L1760.02 685.36 L1756.46 684.15 L1752.73 683.97 L1750.43 682.46 L1746.66 680.67 L1743.13 679.66 L1739.43 679.26 L1736.15 677.95 L1733.03 677.34 L1729.64 676.12 L1724.81 676.57 L1721.95 675.47 L1718.19 674.28 L1715.24 673.9 L1711.51 672.83 L1706.93 672.89 L1703.25 672.82 L1699.88 671.52" stroke-width="2.8"/>
<path d="M1801.69 687.17 L1797.56 685.61 L1795.1 685.31 L1790.88 683.5 L1786.48 682.67 L1782.97 680.36 L1779.81 679.99 L1776.11 677.87 L1774.46 674.63 L1771.78 672.1 L1768.71 669.48 L1766.49 667.82 L1764.67 664.52 L1761.54 661.58 L1758.89 659.64 L1757.28 655.95 L1753.87 654.81 L1751.05 650.94 L1748.91 649.23 L1745.95 647.55 L1743.01 645.64 L1740.36 643.73 L1738.26 641.96" stroke-width="2.8"/>
<path d="M1823.49 781.6 L1821.21 779.42 L1818.99 776.46 L1817.57 773.63 L1814.18 769.63 L1812.69 767.26 L1810.05 764.57 L1808.2 760.51 L1805.43 757.61 L1803.47 756.1 L1801.78 752.72 L1799.59 749.66 L1796.54 747.33 L1793.81 743.76 L1790.99 741.47 L1787.81 739.75 L1785.35 737.78 L1781.8 734.81 L1779.52 732.25 L1776.46 730.66 L1773.08 729.26 L1770.54 727.84 L1766.64 726.47 L1763.61 726.09 L1761.87 723.96 L1758.09 723.41 L1754.19 721.44 L1750.26 719.74 L1747.1 717.82 L1743.04 716.86 L1740.28 715.13 L1736.48 712.71" stroke-width="2.8"/>
<path d="M1798.06 748.91 L1796.74 744.69 L1796.97 741.92 L1795.67 737.48 L1794.58 734.4 L1792.36 731.04 L1792.23 728.75 L1789.46 725.04 L1788.99 722.54 L1787.16 719.67 L1784.41 717.13 L1782.52 713.94 L1779.83 711.6 L1777.89 708.74 L1774.87 705.56 L1771.85 703.64 L1770.93 699.2" stroke-width="2.8"/>
<path d="M1794.43 679.9 L1791.89 677.29 L1790.22 674.27 L1788.84 671.72 L1786.98 670.18 L1784.94 666.76 L1782.76 665.62 L1780.55 662.54 L1778.16 659.92 L1777.06 657.19 L1775.04 654.08 L1773.61 651.5 L1772.52 648.92 L1770.05 645.99 L1768.35 642.78 L1767.2 640.06 L1764.43 636.7 L1762.48 634.68 L1760.34 631.87 L1759.29 628.95 L1756.18 626.48 L1754.43 623.58 L1750.82 621.61 L1747.89 619.8 L1744.94 617.07 L1741.98 614.77 L1737.87 613.81 L1734.82 612.48 L1732.67 610.08 L1729.16 609.11" stroke-width="2.6"/>
<path d="M1792.61 665.37 L1792.85 662.24 L1793.15 658.95 L1793.82 654.65 L1794.03 652.37 L1794.68 648.78 L1794.45 645.22 L1793.97 641.76 L1793.77 637.53 L1794.24 632.63" stroke-width="2.6"/>
<path d="M1810.77 701.69 L1811.01 697.62 L1810.8 695.4 L1810.76 691.09 L1810.32 688.88 L1810.44 685.09 L1811.29 681.13 L1811.17 678.18 L1810.13 674.33 L1810.63 670.9 L1809.41 667.9 L1809.27 665.13 L1808.68 661.41 L1807.77 657.24 L1807.18 654.45" stroke-width="2.5"/>
<path d="M1827.12 696.25 L1828.18 699.24 L1827.91 702.43 L1829.66 705.78 L1829.93 708.74 L1829.11 712.24 L1829.18 715.65 L1829.56 719.6 L1828.32 723.36 L1829.84 727.47 L1831.27 730.91" stroke-width="2.9"/>
<path d="M1816.22 810.65 L1813.3 808.46 L1808.97 805.28 L1805.94 802.41 L1802.78 801.36 L1801.37 798.31 L1798.11 796.11 L1795.62 792.8 L1793 790.19 L1790.03 788.14 L1787.34 785.29 L1784.5 783.16 L1782.62 780.24 L1781.08 778.32 L1777.86 774.99 L1776.18 772.69 L1773.7 770.11 L1771.87 766.34 L1769.14 763.53 L1764.28 761.52" stroke-width="3.1"/>
<path d="M1828.93 812.47 L1831.66 814.06 L1835.31 814.35 L1839.07 816.47 L1841.47 817.11 L1845.14 818.06 L1848.82 816.5 L1851.76 813.72 L1855.34 811.88 L1858.03 810.88 L1861.88 810.62 L1866.73 810.87 L1870.61 810.61 L1874.93 810.37 L1877.48 809.71 L1881.77 808.89 L1884.91 810.3 L1886.73 813.02 L1889.4 813.72 L1892.32 816.29 L1896.15 816.56 L1899.21 817.46 L1902.21 818.09 L1905.24 819.86 L1908.48 820.11 L1911.17 820.03 L1915.44 820.09 L1918.65 820.61 L1921.7 820.76 L1924.89 821.57 L1929.29 821.44 L1932.77 821.87 L1936.11 822.37 L1938.44 819.44 L1941.51 817.18 L1943.4 814.3 L1946.95 811.4" stroke-width="3.1"/>
<path d="M1881.6 808.84 L1884.09 811.93 L1885.9 815.21 L1887.85 818.59 L1890.82 821.48 L1893.35 824.07 L1897.21 824.91 L1899.6 827.11 L1903.25 829.01 L1906.62 830.29 L1909.06 831.82 L1911.69 834.35 L1915.58 835.97 L1918.15 837.77 L1920.23 839.85 L1923.54 840.47 L1926.55 842.42 L1929.12 843.11 L1932.49 845.23 L1935.71 845.87 L1939.34 847.5 L1942.04 849.41 L1944.97 850.06" stroke-width="2.8"/>
<path d="M1857.99 810.65 L1860.6 814.49 L1863.3 817.79 L1863.25 821.64 L1863.59 825.82 L1864.67 829.15 L1864.3 832.61" stroke-width="2.8"/>
<path d="M1830.75 803.39 L1834.49 804.04 L1838.7 803.27 L1842.04 804.68 L1845.23 804.22 L1848.21 803.76 L1852.1 801.29 L1855.56 800.91 L1859.9 799.96 L1862.96 796.98 L1866.26 795.96 L1868.98 793.82 L1871.93 791.32 L1874.47 788.62 L1877.97 785.94 L1880.03 784.61 L1883.07 782.08 L1885.97 779.87 L1888.94 777.73 L1892.26 776.38 L1896.06 773.61 L1899.74 772.73 L1902.7 771.05 L1905.39 769.61 L1908.51 767.54 L1911.57 765.72 L1914.23 763.65 L1918.35 763.58 L1921.55 762.33 L1924.03 762.66 L1928.09 761.76 L1931.02 760.44 L1934.29 760.49" stroke-width="2.8"/>
<path d="M1850.73 799.76 L1852.13 795.71 L1853.61 791.98 L1854.55 789.27 L1856.21 785.05 L1858.72 781.33 L1859.67 779.19 L1861.74 775.92 L1863.64 772.32 L1865.72 769.87 L1868.13 767.92 L1870.44 766.16 L1872.52 763.4 L1875.33 761.12 L1878.58 759.64 L1880.69 758.5 L1883.58 756.42" stroke-width="2.6"/>
<path d="M1870.7 792.49 L1873.13 789.51 L1874.83 786.86 L1877.24 782.68 L1879.27 780.64 L1881.08 777.85 L1883.53 774.53 L1885.83 772.76 L1888.95 770.46 L1891.28 768.27 L1894.81 766.73 L1896.8 764.88 L1899.78 763.43 L1903.21 761.35 L1905.33 761.03 L1908.91 758.42 L1911.3 758.37 L1914.52 756.08 L1917.56 754.1 L1919.44 753.14 L1922.44 751.46 L1925.83 749.44 L1928.8 747.29 L1932.81 745.39 L1935.36 744.18 L1939.76 743.27 L1941.79 741.01 L1944.93 738.83" stroke-width="2.7"/>
<path d="M1868.89 763.44 L1871.8 765.75 L1874.77 768.53 L1876.85 771.47 L1879.96 774.11 L1882.06 776.63 L1884.12 780.23 L1885.6 783.07 L1887.3 786.24 L1888.68 788.71 L1891.29 791.16 L1892.36 794.08" stroke-width="2.6"/>
<path d="M1825.3 814.28 L1821.38 815.02 L1816.13 815.43 L1812.4 815.19 L1810.19 816.94 L1807.48 819.42 L1805.47 821.43 L1801.29 823.47 L1797.71 823.37 L1794.65 825.39 L1790.37 825.22 L1787.35 825.09" stroke-width="3.2"/>
<path d="M1808.96 817.92 L1809.32 820.8 L1809.61 825.34 L1810.77 828.99" stroke-width="2.8"/>
<path d="M1803.51 823.36 L1807.06 824.38 L1810.72 825.91" stroke-width="2.8"/>
<path d="M1798.7 698.23 L1795.45 697.68 L1791.77 696.67 L1789.77 696 L1785.52 695.08 L1781.98 693.44 L1779.8 693.49 L1776.17 692.37 L1772.52 691.44 L1769.4 690.02 L1766.36 687.88 L1763.11 686.5 L1759.44 685.84 L1756.58 684.1 L1752.38 682.35 L1749.66 681.1 L1745.27 680.39 L1742.31 679.51 L1738.58 678.04 L1736.38 676.41 L1732.16 675.62 L1728.77 674.48 L1725.41 673.75 L1721.87 672.89 L1718.95 671.41 L1716.39 671.09 L1712.5 669.38 L1709.32 668.84 L1706.56 667.43 L1702.28 665.11 L1700.63 664.12 L1696.76 661.9 L1693.74 661.07 L1690.17 659.19 L1686.67 657.86 L1684.18 656.7 L1680.28 654.8 L1677.75 654.19" stroke-width="2.7"/>
<path d="M1764.32 658.94 L1762.4 657.52 L1759.07 654.8 L1757.06 653.43 L1754.06 651.38 L1751.88 649.16 L1748.48 647.27 L1746.3 645.27 L1742.54 644.6 L1740.22 642.06 L1736.97 641.13" stroke-width="2.6"/>
<path d="M1766.29 727.7 L1762.78 725.39 L1760.34 724.36 L1756.98 723.11 L1754.03 721.8 L1752.3 719.26 L1748.37 717.66 L1744.73 716.02 L1741.16 714.47 L1736.7 712.8" stroke-width="2.7"/>
<path d="M1822.03 849.06 L1824.41 853.08 L1825.39 856.18 L1824.31 860.34 L1823.71 863.25 L1822.35 867.68 L1821.45 870.92 L1821.07 874.05 L1819.93 877.84 L1818.68 880.76 L1818.15 883.68 L1816.03 887.48 L1815.13 890.27 L1814.56 894.1 L1812.57 897.99 L1810.92 901.04 L1810.58 904.83 L1809.69 907.37 L1807.89 911.66 L1807.15 914.55 L1806.36 917.94 L1804.99 922.21 L1805.57 925.65 L1803.81 929.15 L1803.6 932.48 L1802.6 936.81 L1801.7 940.02 L1800.65 942.77 L1799.92 946.83 L1800.09 950.79 L1798.95 953.85 L1798.15 957.46 L1796.5 961.4 L1796.13 965.42 L1795.89 969.12 L1795.01 972.38 L1794.31 975.85 L1794.68 979.89 L1793.88 983.63 L1794.44 987.54 L1793.56 990.19 L1792.55 993.69 L1793.4 998.39 L1792.71 1001.71 L1791.71 1005.35 L1791.15 1008.16 L1791.7 1011.75 L1791.03 1015.9 L1790.98 1019.68 L1791.08 1023.59 L1791.73 1027.59 L1793.61 1031.17 L1793.88 1033.52 L1794.28 1037.66" stroke-width="3.5"/>
<path d="M1816.22 849.96 L1812.5 851.18 L1808.52 851.88 L1805.86 852.37 L1801.86 853.42 L1798.31 854.72 L1794.05 856.59 L1790.65 859.06 L1788.24 861.93 L1785.37 863.51 L1781.94 866.27 L1780.15 869.36 L1777.74 871.43 L1776.24 874.4 L1775.89 878.66 L1775.06 881.07 L1774.54 885.78 L1774.09 888.54 L1772.86 892.59 L1772.18 895.82 L1771.18 899.79 L1771.1 903.17 L1770.54 907.06 L1769.77 910.87 L1768.89 913.73 L1768.01 917.94 L1767.82 921.05 L1767.47 924.69 L1766.8 928.25 L1765.28 932.51 L1764.55 935.61 L1762.76 940.34 L1762.73 942.82 L1760.41 946.88 L1759.86 950.84 L1759.14 953.86 L1756.77 956.14 L1754.91 958.82 L1754.66 962.92 L1752.6 965.14 L1751.39 967.78 L1748.89 971.67 L1746.5 973.77 L1744.95 976.82 L1743.8 980.03 L1742.15 983.23 L1739.77 985.97 L1738.48 989.13 L1736.12 991.95 L1734.35 994.38 L1732.91 997.42 L1730.35 999.3 L1727.5 1002.6 L1725.58 1005.1 L1724.12 1009.23 L1722.98 1012.13 L1720.74 1015.91 L1719.82 1019.79 L1718.93 1022.64 L1718.45 1027.5 L1716.25 1030.09 L1716.3 1033.29 L1714.36 1037.49" stroke-width="2.9"/>
<path d="M1790.8 859.04 L1787.68 858.2 L1783.58 859.07 L1780.09 858.41 L1776.5 858.63 L1772.63 858.02 L1769.51 858.44 L1765.38 858.05 L1762.53 857.17 L1759.06 856.88 L1756.48 857.47 L1752.63 857.41 L1749.83 857.83 L1745.3 858.87 L1742.27 859.66 L1738.75 860.7 L1736.54 860.53 L1732.85 861.56 L1729.61 864.04 L1727.21 865.97 L1724.87 868.7 L1722.93 871.06 L1719.84 872.54 L1718.29 875.06 L1715.04 877.75 L1713.05 880.49 L1711.12 882.32 L1709.21 885.57 L1706.29 887.21 L1704.54 889.41 L1702.96 892.09 L1699.79 894.3" stroke-width="2.9"/>
<path d="M1721.1 873.08 L1718.22 875.66 L1716.35 879.55 L1713.58 882 L1711.51 884.87 L1708.64 887.89 L1706.63 889.66 L1704.38 891.86 L1701.25 894.56 L1697.93 897.52 L1694.54 898.64 L1691.44 901.72" stroke-width="2.9"/>
<path d="M1776.27 874.48 L1773 876.97 L1769.48 877.58 L1765.99 880.31 L1763.2 882.26 L1760.15 883.55 L1757.04 887.26 L1755.96 890.03 L1753.16 893.52 L1750.78 896.03 L1749.72 899.13 L1746.97 902.66 L1746.01 904.9 L1743.95 908.64 L1741.78 910.8 L1740.25 913.15 L1737.71 916.17 L1734.97 919.94 L1732.42 923.05 L1730.98 925.54 L1729.88 928.5 L1727.7 930.77 L1726.95 934.82 L1724.55 937.12 L1724 940.2 L1721.63 943.35 L1720.65 946.86 L1718.54 949.57 L1717.58 952.45 L1715.47 955.53 L1714.33 957.82 L1713.23 961.89 L1711.91 965.08 L1710.7 968.07 L1709.35 971.8 L1707.43 974.18 L1705.49 977.19 L1704.43 980.12 L1703.49 983.29 L1702.09 986.71 L1699.77 988.78" stroke-width="2.8"/>
<path d="M1723.06 953.63 L1722.22 956.18 L1719.74 959.43 L1718.6 963 L1717.33 966.91 L1715.4 969.26 L1713.94 973.53 L1712.14 976.13 L1711.52 979.77 L1709.07 983.13" stroke-width="2.6"/>
<path d="M1799.88 856.32 L1799.14 859.26 L1800.08 863.97 L1799.19 867.87 L1798.73 870.17 L1798.75 874.47 L1798.97 878.36 L1800.4 881.71 L1800.56 884.8 L1800.76 888.57 L1800.96 892.66 L1800.21 896.11 L1799.65 900.24 L1799.68 903 L1799 906.99 L1798.86 910.63 L1798.86 914.75 L1797.86 918.34 L1797.97 921.69 L1798.71 925.02 L1798.23 928.75 L1797.41 931.84 L1796.82 936.51 L1797.61 940.26 L1796.19 943.64 L1796.31 947.01 L1795.23 951.29 L1796.17 954.14 L1794.56 958.46 L1794.33 960.97 L1794.68 965.13 L1793.31 969.14 L1793.31 972.76 L1791.75 976.77 L1791.33 979.36 L1790.94 983.3 L1789.59 986.71 L1788.58 991.09 L1786.97 995.08 L1786.44 998.49 L1785.33 1001.53 L1784.72 1004.59 L1783.45 1008.29 L1782.69 1012.14 L1781.95 1016.75 L1781.49 1019.64" stroke-width="2.8"/>
<path d="M1818.04 883.56 L1818.11 887.33 L1820.07 890.9 L1820.05 894.88 L1821.09 898.41 L1821.78 901.6 L1821.39 905.05 L1821.96 909.35 L1823.28 911.96 L1823.24 916.3 L1823.46 919.75 L1823.86 923.96 L1823.16 927.63 L1823.03 931.36 L1822.46 934.66 L1821.43 937.95 L1821.72 942.09 L1821.57 945.64 L1822.46 948.34 L1822.69 952.22 L1823.44 955.84 L1823.36 959.99 L1824.69 963.87 L1825.66 966.91 L1827.08 970.35 L1828.94 974.54 L1829.12 978.55 L1829.05 980.97 L1829.98 984.94 L1829.35 989.16 L1830.09 992.53 L1829.32 995.75 L1828.1 999.57 L1827.78 1003.48 L1827.11 1006.68 L1827.01 1010.44" stroke-width="2.8"/>
<path d="M1827.12 856.32 L1828.77 859.74 L1829.85 863.93 L1830.86 867.23 L1831.66 870.56 L1833.23 873.22 L1835.33 877.32 L1836.37 880.13 L1837.87 884.06 L1839.41 887.79 L1840.59 890.66 L1838.61 893.69 L1838.44 896.98 L1836.09 899.97 L1834.11 903.69 L1832.91 907.49 L1830.79 910.75 L1829.54 913.81 L1828.7 917.85 L1829.09 922.25 L1827.39 925.67 L1827.05 928.9 L1826.99 932.72 L1825.75 936.85 L1824.62 939.55 L1823.63 943.17 L1823.59 946.9 L1823.49 950.23 L1823.5 953.71 L1823.72 957.97 L1823.67 961.51 L1820.54 964.79 L1818.36 968.37 L1816.3 970.9 L1815.02 974.2 L1813.12 977.11 L1811.7 980.51 L1810.75 983.65 L1810.19 987.41 L1808.73 991.43 L1809 993.96 L1808.15 998.25 L1807.06 1001.49 L1806.15 1004.67 L1806.18 1008.52 L1805.61 1013.06 L1805.25 1015.96 L1805.13 1019.71 L1804.31 1022.86 L1805.14 1027.01 L1804.43 1030.48 L1804.02 1033.48 L1803.28 1037.58" stroke-width="3.1"/>
<path d="M1830.75 856.32 L1832.61 858.32 L1835.82 861.94 L1837.95 864.18 L1839.68 867.35 L1839.49 870.27 L1840.76 874.21 L1840.65 877.82 L1839.76 880.12 L1840.11 884.69 L1841.2 886.86 L1840.75 890.6" stroke-width="3"/>
<path d="M1840.74 890.82 L1843.19 894.03 L1845.65 895.91 L1847.76 899.41 L1850.73 901.48 L1852.11 904.28 L1854.29 907.54 L1856.02 910.72 L1858.24 914.55 L1858.66 918.38 L1860.12 922.12 L1862.18 925.71 L1863.41 929.07 L1863.98 932.83 L1864.55 935.68 L1865.9 940.51 L1866.51 943.08 L1866.92 946.97 L1867.54 950.58 L1867.88 954.53 L1868.62 957.57 L1868.63 961.84 L1869.62 965.34 L1869.21 969.66 L1869.7 974.54" stroke-width="2.8"/>
<path d="M1834.38 858.14 L1836.04 861.26 L1838.47 862.79 L1840.91 866.34 L1843.21 867.82 L1845.5 870.7 L1848 874.4 L1850.49 877.89 L1852.31 880.64 L1854.52 883.75 L1856.36 887.21 L1859 890.09 L1860.97 893.25 L1863.4 896.14 L1865.78 898.78 L1867.72 902.61 L1870.29 904.38 L1872.84 907.28 L1874.2 910.57 L1876.32 913.41 L1876.6 916.37 L1878.9 919.25 L1879.43 922.21 L1881.67 925.46 L1883.45 929.01 L1884.07 931 L1884.98 934.99 L1886.64 937.53 L1888.09 940.29 L1888.81 943.52 L1889.86 946.97 L1892.28 949.23 L1893.65 952.34 L1894.41 954.88 L1896.16 958.38 L1898.11 961.68 L1900.41 965.17 L1901.25 967.9 L1903.95 970.79 L1905.04 974.21 L1905.95 978.25 L1906.68 981.26 L1906.22 984.54 L1906.95 986.99 L1906.4 990.96 L1906.04 994.06 L1905.55 997.24 L1906.21 1000.1 L1905.3 1003.58 L1906.92 1006.34 L1909.14 1008.21 L1910.93 1011.66 L1913.1 1014.2 L1916.02 1016.85 L1918.05 1019.61 L1919.05 1023.61 L1918.93 1026.8 L1919.36 1030.66 L1920.37 1034.68 L1921.32 1037.61" stroke-width="2.9"/>
<path d="M1838.01 859.95 L1841.15 861.27 L1845.02 862.75 L1848.11 864.85 L1851.63 866.14 L1854.6 867.42 L1856.55 869.38 L1858.33 872.14 L1861.42 875.43 L1863.43 877.94 L1866.01 880.04 L1868.22 882.63 L1871.16 884.67 L1874.3 887.14 L1876.63 889.83 L1880.46 891.9 L1883.14 894.59 L1884.99 896.38 L1888.68 897.97 L1891.02 900.46 L1894.11 902.41 L1896.31 904.42 L1899.7 904.78 L1904.43 904.4 L1908.74 905.2 L1912.47 907.75 L1914.95 909.59 L1917.87 910.88 L1920.46 914.23 L1922.75 915.92 L1924.77 919.42 L1927.14 921.57 L1929.49 924.65 L1931.1 928.18 L1932.94 929.91 L1934.19 932.72 L1935.93 936.02 L1937.96 938.34 L1940.95 942.36 L1943.22 944.92 L1945.22 947.11 L1947.34 949.14 L1950.07 952.02 L1952.55 954.93 L1954.22 958.08 L1955.98 960.95 L1958.61 964.53 L1959.51 967.17" stroke-width="2.9"/>
<path d="M1863.44 868.12 L1867.43 868.95 L1870.12 870.46 L1874.16 871.43 L1878.04 872.46 L1881 874.63 L1884.22 875.89 L1886.19 876.74 L1889.33 879.2 L1892.67 879.96 L1895.36 881.68 L1899.67 883.53 L1902.91 883.91 L1906.29 886.04 L1908.99 887.02 L1913.12 888.88 L1916.37 889.64 L1919.83 890.22 L1923.83 891.89 L1927.1 892.68 L1930.49 893.61 L1933.46 895.07 L1936.7 895.69 L1939.78 896.45 L1942.16 897.94 L1945.38 899.08" stroke-width="2.5"/>
<path d="M1896.12 904.44 L1897.31 907.39 L1899.01 911.16 L1900.23 914.62 L1902.12 918.52 L1903.19 921.5 L1905.56 924.89 L1907.5 927.74 L1909.39 931.84 L1910.84 935.42 L1912.3 938.08 L1915.02 940.77 L1915.73 944.93 L1917.55 948.21 L1918.98 950.53 L1921.61 954.28 L1923.74 957.53 L1925.27 959.51 L1926.86 962.51 L1928.72 965.71 L1930.48 968.8 L1932.66 972.17 L1933.85 975.59 L1934.93 979.68 L1936.03 983.27 L1937.09 986.75 L1937.38 990.45 L1938.28 993.9 L1938.5 998.43 L1939.77 1001.74 L1940.78 1004.91 L1941.84 1008.94 L1941.14 1012.67 L1943 1015.44 L1943.43 1019.7 L1943.59 1023.31 L1945.15 1027.35 L1946.17 1030.37 L1945.67 1034.31 L1946.92 1037.62" stroke-width="2.8"/>
<path d="M1794.43 965.28 L1792.25 967.51 L1790.09 970.13 L1788.28 972.19 L1785.29 974.4 L1783.8 976.39 L1780.08 978.25 L1779.02 981.86 L1776.25 983.25 L1774.57 987.05 L1773.93 990.86 L1772.69 995.06 L1770.73 997.89 L1769.87 1002 L1770.86 1004.46 L1770.58 1008.4 L1770.01 1011.65 L1769.6 1014.69 L1768.88 1017.9" stroke-width="2.8"/>
<path d="M1816.22 970.73 L1816.26 974.54 L1816.45 978.53 L1816.94 981.04 L1817.39 985.98 L1817.94 988.64 L1817.82 992.3 L1817.82 996.7 L1818.91 999.96 L1818.42 1003.28 L1819.12 1007.47 L1819.8 1010.55" stroke-width="2.6"/>
<path d="M1808.96 914.43 L1808.65 916.85 L1806.28 920.93 L1806.43 923.51 L1804.52 926.39 L1803.71 930.22 L1802.64 932.37 L1801.6 936.29 L1800.79 940.14 L1801.18 943.39 L1800.61 946.4 L1798.93 950.1 L1799.13 954.17 L1797.96 957.87 L1797.06 960.91 L1795.64 964.65 L1794.62 969.09 L1792.6 972.31" stroke-width="2.9"/>
<path d="M1814.41 921.69 L1813.07 925.19 L1813.54 929.22 L1812.66 932.23 L1812.38 936.41 L1811.8 940.4 L1810.97 943.33 L1810.15 947.26 L1809.17 950.11 L1808.11 952.84 L1807.42 957.26 L1806.79 959.91 L1805.53 963.42" stroke-width="2.7"/>
<path d="M1874.33 910.8 L1877.09 914 L1878.76 916.47 L1881.24 919.52 L1883.17 921.52 L1885.07 925.84 L1885.98 929.2 L1886.88 932.96 L1886.88 936.33 L1889.14 939.8 L1890.13 942.65 L1891.93 944.24 L1892.42 948.51 L1894.55 950.67" stroke-width="2.6"/>
<path d="M1888.86 820 L1891.05 822.23 L1894.49 824.36 L1897.93 824.86 L1900.33 827.27 L1902.39 829.7 L1905.87 830.75 L1908.78 832.84 L1912.47 833.62 L1915.25 835.53 L1917.73 836.11 L1920.25 838.73 L1924.09 839.53 L1926.88 840.47 L1929.94 842.65 L1932.65 843.6 L1935.04 845.1 L1939.2 846.29 L1942.09 847.55 L1945.08 847.7 L1947.27 849.35 L1951.63 850.31 L1954.26 851.71 L1958.01 852.48 L1961.21 853.65 L1964.79 855.16 L1969.42 855.22 L1972.26 856.45" stroke-width="2.6"/>
<path d="M1863.44 820 L1863.77 823.65 L1863.63 826.78 L1864.98 830.09 L1865.03 832.51" stroke-width="2.7"/>
</g>
<g fill="none" stroke="#f0281e" stroke-linecap="round" stroke-linejoin="round" filter="url(#nblur)">
<path d="M1827.12 836.08 L1827.25 832.57 L1827.55 828.53 L1827.18 825.08 L1827.54 821.8 L1828.03 818 L1828.05 814.37 L1827.69 810.97 L1827.65 808.07 L1827.51 804.73 L1827.47 801.36 L1827.62 797.86 L1827.97 794.29 L1827.29 791.74 L1827.6 787.81 L1827.93 785.22 L1827.29 781.56 L1826.93 778.07 L1827.06 774.58 L1826.86 771.12 L1826.18 768.36 L1826.1 764.67 L1826 761.34 L1825.61 757.75 L1825.42 754.13 L1825.2 749.65 L1824.32 745.21" stroke-width="3.36"/>
<path d="M1824.39 745.28 L1823.77 741.91 L1822 737.62 L1821.46 734.4 L1821.23 730.75 L1819.62 727.28 L1818.39 723.51 L1816.71 719.74 L1815.6 716.63 L1814.21 712.62 L1812.47 709.98 L1810.81 706.44 L1809.81 704.08 L1807.92 700.91 L1807 697.95 L1805.29 695.48 L1803.48 692.21 L1801.2 688.89 L1799.67 684.52 L1798.19 681.92 L1796.23 678.1 L1796.29 674.94 L1794.41 671.18 L1793.01 668.82 L1792.86 665.62 L1791.53 661.03 L1790.17 658.54 L1789.84 654.69 L1787.85 650.89 L1787.16 647.28 L1785.6 644.86 L1785.34 640.66 L1783.22 638.7 L1781.99 635.77 L1781.14 632.38 L1780.01 628.91 L1778.45 625.51 L1777.91 622.99 L1775.95 620.1 L1775.32 616.21 L1774.36 612.52 L1773.58 607.33" stroke-width="2.24"/>
<path d="M1825.3 745.28 L1828.05 743.4 L1829.93 740.01 L1831.79 738.16 L1834.21 735.11 L1835.67 732.22 L1838.13 729.87 L1837.97 726.75 L1839.98 723.48 L1840.65 720.24 L1840.76 716.37 L1841.01 711.99 L1841.43 708.68 L1842.75 705.61 L1842.62 701.88 L1842.44 698.11 L1843.56 694.38 L1842.78 690.66 L1842.59 687.44 L1842.02 682.92 L1841.97 680.2 L1842.34 676.51 L1841.86 672.57 L1840.4 668.99 L1840.47 664.89 L1840.26 661.5 L1839.07 657.85 L1839.14 654.23 L1837.99 650.52 L1837.02 647.11 L1836.32 644.21 L1836.02 640.25 L1835.12 636.3 L1834.31 633.2 L1832.64 628.99 L1832.42 625.92 L1830.61 621.81 L1829.33 618.61 L1827.38 615.98 L1825.54 612.74 L1822.85 609.94 L1819.97 607.54" stroke-width="2.02"/>
<path d="M1835.29 629.06 L1837.33 625.67 L1839.09 622.15 L1841.01 619.59 L1843.34 616.12 L1844.37 611.66 L1844.59 607.68" stroke-width="1.34" stroke-opacity="0.95"/>
<path d="M1839.83 649.03 L1840.75 646.32 L1842.6 642.23 L1842.54 639.44 L1844.7 636.12 L1845.42 632.64 L1846.36 627.79 L1847.05 623.55" stroke-width="1.23" stroke-opacity="0.95"/>
<path d="M1843.46 690.8 L1846.92 688.83 L1850.88 687 L1853.46 685.89 L1857.79 685.38 L1859.59 684.95 L1863.62 683.7 L1866.86 683.16 L1870.41 681.54 L1874.88 681.85 L1877.53 681.2 L1881.36 679.81 L1884.5 678.32 L1888.36 678.05 L1892.19 676.17 L1895.65 675.26 L1899.94 674.51 L1902.19 673.52 L1905.86 671.96 L1908.88 671.05 L1912.31 669.62 L1915.09 668.35 L1917.98 667.14 L1920.88 665.94 L1924.41 664.32 L1927.82 663.36 L1930.8 662.39 L1933.58 660.93" stroke-width="1.57" stroke-opacity="0.95"/>
<path d="M1849.82 685.35 L1851.75 682.03 L1854.06 679.38 L1856.45 675.26 L1857.77 672.44 L1859.18 669.07 L1860.88 666.45 L1862.86 664.2 L1865.43 661.72 L1867.3 658.23 L1868.83 654.13 L1868.84 652.21 L1870.3 647.86 L1871.81 644.92 L1872.54 641.68 L1872.86 637.52 L1874.13 635.18 L1875.43 631.27 L1876.07 627.03 L1876.05 623.82 L1875.85 620.23 L1875 616.21" stroke-width="1.23" stroke-opacity="0.8"/>
<path d="M1843.46 696.25 L1847.07 695.99 L1851.21 695.42 L1854.28 694.37 L1858.53 696.07 L1861.6 695.79 L1865.44 697.21 L1868.68 697.66 L1872.46 699.03 L1875.59 699.39 L1880.46 700.06 L1883.04 699.94 L1886.45 700.78 L1890.74 700.62 L1894.15 700.77 L1897.6 700.29 L1900.61 700.09 L1905.04 699.9 L1907.71 699.93 L1910.62 699.68 L1914.07 699.41 L1917.85 699.44" stroke-width="1.12" stroke-opacity="0.7"/>
<path d="M1840.74 723.49 L1844.72 720.76 L1847.14 718.88 L1850.67 716.23 L1854.12 714.22 L1857.34 712.9 L1859.88 712.6 L1863.68 710.86 L1866.58 709.96 L1870.38 709.83 L1873.93 708.14 L1878.17 708.07 L1881.64 707.13 L1885.92 707.44 L1889.52 707.71 L1892.44 708.02 L1896.45 708.97 L1899.63 708.97 L1903.73 708.36 L1907.26 707.92 L1910.76 707.07" stroke-width="1.57" stroke-opacity="0.95"/>
<path d="M1850.73 716.22 L1853.61 715.06 L1857.67 715.75 L1860.09 715.56 L1863.64 714.23 L1867.57 714.51 L1870.42 714.5 L1874.2 714.41 L1877.74 715.12" stroke-width="1.46" stroke-opacity="0.95"/>
<path d="M1838.01 729.84 L1840.45 726.61 L1842.89 724.89 L1846.01 721.66 L1848.96 719.16 L1852.01 718.86 L1856.71 720.2 L1860.45 719.94 L1863.37 720.06 L1867.69 720.18 L1870.78 719.78 L1873.97 718.96 L1878.57 717.89 L1881.66 717.88 L1885.74 716.73 L1889.08 714.31 L1892.25 712.59" stroke-width="1.46" stroke-opacity="0.95"/>
<path d="M1838.92 730.75 L1841.07 732.78 L1843.01 735.74 L1846.04 737.38 L1848.88 740.06 L1850.75 741.67 L1852.61 744.63 L1854.05 747.29 L1855.26 751.22 L1856.23 754.6 L1856.21 757.4 L1857.53 761.08 L1857.57 764.31 L1858.08 767.25 L1859.58 770.5 L1860.39 773.71 L1861.51 777.28 L1863.68 781.42 L1865.41 784.68 L1867.77 788.91 L1868.72 792.66 L1871.7 795.48 L1873.01 796.89 L1875.94 798.98 L1878 801.67 L1880.16 805.69 L1881.72 808.73" stroke-width="1.46" stroke-opacity="0.95"/>
<path d="M1828.03 764.35 L1831.81 762.66 L1834.34 760.45 L1838.42 759.37 L1841.44 757.98 L1845.15 756.37 L1849.01 755.32 L1852.59 754.63 L1856.38 752.44 L1860 750.45 L1863.37 748.25 L1865.71 747.74 L1869.49 745.59 L1872.37 743.27 L1875.75 740.63 L1877.11 739 L1880.62 737.19 L1883.43 735.16 L1885.2 732.77 L1886.77 728.87 L1889.55 727.08 L1890.76 723.48" stroke-width="1.34" stroke-opacity="0.95"/>
<path d="M1807.14 698.97 L1803.07 697.64 L1799.23 696.55 L1796.24 696.44 L1793.63 695.18 L1789.97 694.02 L1786.85 693.29 L1783.9 692.41 L1779.99 690.84 L1776.08 689.85 L1773.17 688.46 L1769.47 687.94 L1766.1 687.35 L1763 686.99 L1760.02 685.36 L1756.46 684.15 L1752.73 683.97 L1750.43 682.46 L1746.66 680.67 L1743.13 679.66 L1739.43 679.26 L1736.15 677.95 L1733.03 677.34 L1729.64 676.12 L1724.81 676.57 L1721.95 675.47 L1718.19 674.28 L1715.24 673.9 L1711.51 672.83 L1706.93 672.89 L1703.25 672.82 L1699.88 671.52" stroke-width="1.34" stroke-opacity="0.85"/>
<path d="M1801.69 687.17 L1797.56 685.61 L1795.1 685.31 L1790.88 683.5 L1786.48 682.67 L1782.97 680.36 L1779.81 679.99 L1776.11 677.87 L1774.46 674.63 L1771.78 672.1 L1768.71 669.48 L1766.49 667.82 L1764.67 664.52 L1761.54 661.58 L1758.89 659.64 L1757.28 655.95 L1753.87 654.81 L1751.05 650.94 L1748.91 649.23 L1745.95 647.55 L1743.01 645.64 L1740.36 643.73 L1738.26 641.96" stroke-width="1.34" stroke-opacity="0.85"/>
<path d="M1823.49 781.6 L1821.21 779.42 L1818.99 776.46 L1817.57 773.63 L1814.18 769.63 L1812.69 767.26 L1810.05 764.57 L1808.2 760.51 L1805.43 757.61 L1803.47 756.1 L1801.78 752.72 L1799.59 749.66 L1796.54 747.33 L1793.81 743.76 L1790.99 741.47 L1787.81 739.75 L1785.35 737.78 L1781.8 734.81 L1779.52 732.25 L1776.46 730.66 L1773.08 729.26 L1770.54 727.84 L1766.64 726.47 L1763.61 726.09 L1761.87 723.96 L1758.09 723.41 L1754.19 721.44 L1750.26 719.74 L1747.1 717.82 L1743.04 716.86 L1740.28 715.13 L1736.48 712.71" stroke-width="1.34" stroke-opacity="0.95"/>
<path d="M1798.06 748.91 L1796.74 744.69 L1796.97 741.92 L1795.67 737.48 L1794.58 734.4 L1792.36 731.04 L1792.23 728.75 L1789.46 725.04 L1788.99 722.54 L1787.16 719.67 L1784.41 717.13 L1782.52 713.94 L1779.83 711.6 L1777.89 708.74 L1774.87 705.56 L1771.85 703.64 L1770.93 699.2" stroke-width="1.34" stroke-opacity="0.95"/>
<path d="M1794.43 679.9 L1791.89 677.29 L1790.22 674.27 L1788.84 671.72 L1786.98 670.18 L1784.94 666.76 L1782.76 665.62 L1780.55 662.54 L1778.16 659.92 L1777.06 657.19 L1775.04 654.08 L1773.61 651.5 L1772.52 648.92 L1770.05 645.99 L1768.35 642.78 L1767.2 640.06 L1764.43 636.7 L1762.48 634.68 L1760.34 631.87 L1759.29 628.95 L1756.18 626.48 L1754.43 623.58 L1750.82 621.61 L1747.89 619.8 L1744.94 617.07 L1741.98 614.77 L1737.87 613.81 L1734.82 612.48 L1732.67 610.08 L1729.16 609.11" stroke-width="1.12" stroke-opacity="0.75"/>
<path d="M1792.61 665.37 L1792.85 662.24 L1793.15 658.95 L1793.82 654.65 L1794.03 652.37 L1794.68 648.78 L1794.45 645.22 L1793.97 641.76 L1793.77 637.53 L1794.24 632.63" stroke-width="1.12" stroke-opacity="0.8"/>
<path d="M1810.77 701.69 L1811.01 697.62 L1810.8 695.4 L1810.76 691.09 L1810.32 688.88 L1810.44 685.09 L1811.29 681.13 L1811.17 678.18 L1810.13 674.33 L1810.63 670.9 L1809.41 667.9 L1809.27 665.13 L1808.68 661.41 L1807.77 657.24 L1807.18 654.45" stroke-width="1.01" stroke-opacity="0.6"/>
<path d="M1827.12 696.25 L1828.18 699.24 L1827.91 702.43 L1829.66 705.78 L1829.93 708.74 L1829.11 712.24 L1829.18 715.65 L1829.56 719.6 L1828.32 723.36 L1829.84 727.47 L1831.27 730.91" stroke-width="1.46" stroke-opacity="0.95"/>
<path d="M1816.22 810.65 L1813.3 808.46 L1808.97 805.28 L1805.94 802.41 L1802.78 801.36 L1801.37 798.31 L1798.11 796.11 L1795.62 792.8 L1793 790.19 L1790.03 788.14 L1787.34 785.29 L1784.5 783.16 L1782.62 780.24 L1781.08 778.32 L1777.86 774.99 L1776.18 772.69 L1773.7 770.11 L1771.87 766.34 L1769.14 763.53 L1764.28 761.52" stroke-width="1.68" stroke-opacity="0.95"/>
<path d="M1828.93 812.47 L1831.66 814.06 L1835.31 814.35 L1839.07 816.47 L1841.47 817.11 L1845.14 818.06 L1848.82 816.5 L1851.76 813.72 L1855.34 811.88 L1858.03 810.88 L1861.88 810.62 L1866.73 810.87 L1870.61 810.61 L1874.93 810.37 L1877.48 809.71 L1881.77 808.89 L1884.91 810.3 L1886.73 813.02 L1889.4 813.72 L1892.32 816.29 L1896.15 816.56 L1899.21 817.46 L1902.21 818.09 L1905.24 819.86 L1908.48 820.11 L1911.17 820.03 L1915.44 820.09 L1918.65 820.61 L1921.7 820.76 L1924.89 821.57 L1929.29 821.44 L1932.77 821.87 L1936.11 822.37 L1938.44 819.44 L1941.51 817.18 L1943.4 814.3 L1946.95 811.4" stroke-width="1.68" stroke-opacity="0.95"/>
<path d="M1881.6 808.84 L1884.09 811.93 L1885.9 815.21 L1887.85 818.59 L1890.82 821.48 L1893.35 824.07 L1897.21 824.91 L1899.6 827.11 L1903.25 829.01 L1906.62 830.29 L1909.06 831.82 L1911.69 834.35 L1915.58 835.97 L1918.15 837.77 L1920.23 839.85 L1923.54 840.47 L1926.55 842.42 L1929.12 843.11 L1932.49 845.23 L1935.71 845.87 L1939.34 847.5 L1942.04 849.41 L1944.97 850.06" stroke-width="1.34" stroke-opacity="0.95"/>
<path d="M1857.99 810.65 L1860.6 814.49 L1863.3 817.79 L1863.25 821.64 L1863.59 825.82 L1864.67 829.15 L1864.3 832.61" stroke-width="1.34" stroke-opacity="0.95"/>
<path d="M1830.75 803.39 L1834.49 804.04 L1838.7 803.27 L1842.04 804.68 L1845.23 804.22 L1848.21 803.76 L1852.1 801.29 L1855.56 800.91 L1859.9 799.96 L1862.96 796.98 L1866.26 795.96 L1868.98 793.82 L1871.93 791.32 L1874.47 788.62 L1877.97 785.94 L1880.03 784.61 L1883.07 782.08 L1885.97 779.87 L1888.94 777.73 L1892.26 776.38 L1896.06 773.61 L1899.74 772.73 L1902.7 771.05 L1905.39 769.61 L1908.51 767.54 L1911.57 765.72 L1914.23 763.65 L1918.35 763.58 L1921.55 762.33 L1924.03 762.66 L1928.09 761.76 L1931.02 760.44 L1934.29 760.49" stroke-width="1.34" stroke-opacity="0.95"/>
<path d="M1850.73 799.76 L1852.13 795.71 L1853.61 791.98 L1854.55 789.27 L1856.21 785.05 L1858.72 781.33 L1859.67 779.19 L1861.74 775.92 L1863.64 772.32 L1865.72 769.87 L1868.13 767.92 L1870.44 766.16 L1872.52 763.4 L1875.33 761.12 L1878.58 759.64 L1880.69 758.5 L1883.58 756.42" stroke-width="1.12" stroke-opacity="0.8"/>
<path d="M1870.7 792.49 L1873.13 789.51 L1874.83 786.86 L1877.24 782.68 L1879.27 780.64 L1881.08 777.85 L1883.53 774.53 L1885.83 772.76 L1888.95 770.46 L1891.28 768.27 L1894.81 766.73 L1896.8 764.88 L1899.78 763.43 L1903.21 761.35 L1905.33 761.03 L1908.91 758.42 L1911.3 758.37 L1914.52 756.08 L1917.56 754.1 L1919.44 753.14 L1922.44 751.46 L1925.83 749.44 L1928.8 747.29 L1932.81 745.39 L1935.36 744.18 L1939.76 743.27 L1941.79 741.01 L1944.93 738.83" stroke-width="1.23" stroke-opacity="0.85"/>
<path d="M1868.89 763.44 L1871.8 765.75 L1874.77 768.53 L1876.85 771.47 L1879.96 774.11 L1882.06 776.63 L1884.12 780.23 L1885.6 783.07 L1887.3 786.24 L1888.68 788.71 L1891.29 791.16 L1892.36 794.08" stroke-width="1.12" stroke-opacity="0.8"/>
<path d="M1825.3 814.28 L1821.38 815.02 L1816.13 815.43 L1812.4 815.19 L1810.19 816.94 L1807.48 819.42 L1805.47 821.43 L1801.29 823.47 L1797.71 823.37 L1794.65 825.39 L1790.37 825.22 L1787.35 825.09" stroke-width="1.79" stroke-opacity="0.95"/>
<path d="M1808.96 817.92 L1809.32 820.8 L1809.61 825.34 L1810.77 828.99" stroke-width="1.34" stroke-opacity="0.95"/>
<path d="M1803.51 823.36 L1807.06 824.38 L1810.72 825.91" stroke-width="1.34" stroke-opacity="0.95"/>
<path d="M1798.7 698.23 L1795.45 697.68 L1791.77 696.67 L1789.77 696 L1785.52 695.08 L1781.98 693.44 L1779.8 693.49 L1776.17 692.37 L1772.52 691.44 L1769.4 690.02 L1766.36 687.88 L1763.11 686.5 L1759.44 685.84 L1756.58 684.1 L1752.38 682.35 L1749.66 681.1 L1745.27 680.39 L1742.31 679.51 L1738.58 678.04 L1736.38 676.41 L1732.16 675.62 L1728.77 674.48 L1725.41 673.75 L1721.87 672.89 L1718.95 671.41 L1716.39 671.09 L1712.5 669.38 L1709.32 668.84 L1706.56 667.43 L1702.28 665.11 L1700.63 664.12 L1696.76 661.9 L1693.74 661.07 L1690.17 659.19 L1686.67 657.86 L1684.18 656.7 L1680.28 654.8 L1677.75 654.19" stroke-width="1.23" stroke-opacity="0.8"/>
<path d="M1764.32 658.94 L1762.4 657.52 L1759.07 654.8 L1757.06 653.43 L1754.06 651.38 L1751.88 649.16 L1748.48 647.27 L1746.3 645.27 L1742.54 644.6 L1740.22 642.06 L1736.97 641.13" stroke-width="1.12" stroke-opacity="0.8"/>
<path d="M1766.29 727.7 L1762.78 725.39 L1760.34 724.36 L1756.98 723.11 L1754.03 721.8 L1752.3 719.26 L1748.37 717.66 L1744.73 716.02 L1741.16 714.47 L1736.7 712.8" stroke-width="1.23" stroke-opacity="0.85"/>
<path d="M1822.03 849.06 L1824.41 853.08 L1825.39 856.18 L1824.31 860.34 L1823.71 863.25 L1822.35 867.68 L1821.45 870.92 L1821.07 874.05 L1819.93 877.84 L1818.68 880.76 L1818.15 883.68 L1816.03 887.48 L1815.13 890.27 L1814.56 894.1 L1812.57 897.99 L1810.92 901.04 L1810.58 904.83 L1809.69 907.37 L1807.89 911.66 L1807.15 914.55 L1806.36 917.94 L1804.99 922.21 L1805.57 925.65 L1803.81 929.15 L1803.6 932.48 L1802.6 936.81 L1801.7 940.02 L1800.65 942.77 L1799.92 946.83 L1800.09 950.79 L1798.95 953.85 L1798.15 957.46 L1796.5 961.4 L1796.13 965.42 L1795.89 969.12 L1795.01 972.38 L1794.31 975.85 L1794.68 979.89 L1793.88 983.63 L1794.44 987.54 L1793.56 990.19 L1792.55 993.69 L1793.4 998.39 L1792.71 1001.71 L1791.71 1005.35 L1791.15 1008.16 L1791.7 1011.75 L1791.03 1015.9 L1790.98 1019.68 L1791.08 1023.59 L1791.73 1027.59 L1793.61 1031.17 L1793.88 1033.52 L1794.28 1037.66" stroke-width="2.13"/>
<path d="M1816.22 849.96 L1812.5 851.18 L1808.52 851.88 L1805.86 852.37 L1801.86 853.42 L1798.31 854.72 L1794.05 856.59 L1790.65 859.06 L1788.24 861.93 L1785.37 863.51 L1781.94 866.27 L1780.15 869.36 L1777.74 871.43 L1776.24 874.4 L1775.89 878.66 L1775.06 881.07 L1774.54 885.78 L1774.09 888.54 L1772.86 892.59 L1772.18 895.82 L1771.18 899.79 L1771.1 903.17 L1770.54 907.06 L1769.77 910.87 L1768.89 913.73 L1768.01 917.94 L1767.82 921.05 L1767.47 924.69 L1766.8 928.25 L1765.28 932.51 L1764.55 935.61 L1762.76 940.34 L1762.73 942.82 L1760.41 946.88 L1759.86 950.84 L1759.14 953.86 L1756.77 956.14 L1754.91 958.82 L1754.66 962.92 L1752.6 965.14 L1751.39 967.78 L1748.89 971.67 L1746.5 973.77 L1744.95 976.82 L1743.8 980.03 L1742.15 983.23 L1739.77 985.97 L1738.48 989.13 L1736.12 991.95 L1734.35 994.38 L1732.91 997.42 L1730.35 999.3 L1727.5 1002.6 L1725.58 1005.1 L1724.12 1009.23 L1722.98 1012.13 L1720.74 1015.91 L1719.82 1019.79 L1718.93 1022.64 L1718.45 1027.5 L1716.25 1030.09 L1716.3 1033.29 L1714.36 1037.49" stroke-width="1.46" stroke-opacity="0.95"/>
<path d="M1790.8 859.04 L1787.68 858.2 L1783.58 859.07 L1780.09 858.41 L1776.5 858.63 L1772.63 858.02 L1769.51 858.44 L1765.38 858.05 L1762.53 857.17 L1759.06 856.88 L1756.48 857.47 L1752.63 857.41 L1749.83 857.83 L1745.3 858.87 L1742.27 859.66 L1738.75 860.7 L1736.54 860.53 L1732.85 861.56 L1729.61 864.04 L1727.21 865.97 L1724.87 868.7 L1722.93 871.06 L1719.84 872.54 L1718.29 875.06 L1715.04 877.75 L1713.05 880.49 L1711.12 882.32 L1709.21 885.57 L1706.29 887.21 L1704.54 889.41 L1702.96 892.09 L1699.79 894.3" stroke-width="1.46" stroke-opacity="0.95"/>
<path d="M1721.1 873.08 L1718.22 875.66 L1716.35 879.55 L1713.58 882 L1711.51 884.87 L1708.64 887.89 L1706.63 889.66 L1704.38 891.86 L1701.25 894.56 L1697.93 897.52 L1694.54 898.64 L1691.44 901.72" stroke-width="1.46" stroke-opacity="0.9"/>
<path d="M1776.27 874.48 L1773 876.97 L1769.48 877.58 L1765.99 880.31 L1763.2 882.26 L1760.15 883.55 L1757.04 887.26 L1755.96 890.03 L1753.16 893.52 L1750.78 896.03 L1749.72 899.13 L1746.97 902.66 L1746.01 904.9 L1743.95 908.64 L1741.78 910.8 L1740.25 913.15 L1737.71 916.17 L1734.97 919.94 L1732.42 923.05 L1730.98 925.54 L1729.88 928.5 L1727.7 930.77 L1726.95 934.82 L1724.55 937.12 L1724 940.2 L1721.63 943.35 L1720.65 946.86 L1718.54 949.57 L1717.58 952.45 L1715.47 955.53 L1714.33 957.82 L1713.23 961.89 L1711.91 965.08 L1710.7 968.07 L1709.35 971.8 L1707.43 974.18 L1705.49 977.19 L1704.43 980.12 L1703.49 983.29 L1702.09 986.71 L1699.77 988.78" stroke-width="1.34" stroke-opacity="0.95"/>
<path d="M1723.06 953.63 L1722.22 956.18 L1719.74 959.43 L1718.6 963 L1717.33 966.91 L1715.4 969.26 L1713.94 973.53 L1712.14 976.13 L1711.52 979.77 L1709.07 983.13" stroke-width="1.12" stroke-opacity="0.7"/>
<path d="M1799.88 856.32 L1799.14 859.26 L1800.08 863.97 L1799.19 867.87 L1798.73 870.17 L1798.75 874.47 L1798.97 878.36 L1800.4 881.71 L1800.56 884.8 L1800.76 888.57 L1800.96 892.66 L1800.21 896.11 L1799.65 900.24 L1799.68 903 L1799 906.99 L1798.86 910.63 L1798.86 914.75 L1797.86 918.34 L1797.97 921.69 L1798.71 925.02 L1798.23 928.75 L1797.41 931.84 L1796.82 936.51 L1797.61 940.26 L1796.19 943.64 L1796.31 947.01 L1795.23 951.29 L1796.17 954.14 L1794.56 958.46 L1794.33 960.97 L1794.68 965.13 L1793.31 969.14 L1793.31 972.76 L1791.75 976.77 L1791.33 979.36 L1790.94 983.3 L1789.59 986.71 L1788.58 991.09 L1786.97 995.08 L1786.44 998.49 L1785.33 1001.53 L1784.72 1004.59 L1783.45 1008.29 L1782.69 1012.14 L1781.95 1016.75 L1781.49 1019.64" stroke-width="1.34" stroke-opacity="0.95"/>
<path d="M1818.04 883.56 L1818.11 887.33 L1820.07 890.9 L1820.05 894.88 L1821.09 898.41 L1821.78 901.6 L1821.39 905.05 L1821.96 909.35 L1823.28 911.96 L1823.24 916.3 L1823.46 919.75 L1823.86 923.96 L1823.16 927.63 L1823.03 931.36 L1822.46 934.66 L1821.43 937.95 L1821.72 942.09 L1821.57 945.64 L1822.46 948.34 L1822.69 952.22 L1823.44 955.84 L1823.36 959.99 L1824.69 963.87 L1825.66 966.91 L1827.08 970.35 L1828.94 974.54 L1829.12 978.55 L1829.05 980.97 L1829.98 984.94 L1829.35 989.16 L1830.09 992.53 L1829.32 995.75 L1828.1 999.57 L1827.78 1003.48 L1827.11 1006.68 L1827.01 1010.44" stroke-width="1.34" stroke-opacity="0.95"/>
<path d="M1827.12 856.32 L1828.77 859.74 L1829.85 863.93 L1830.86 867.23 L1831.66 870.56 L1833.23 873.22 L1835.33 877.32 L1836.37 880.13 L1837.87 884.06 L1839.41 887.79 L1840.59 890.66 L1838.61 893.69 L1838.44 896.98 L1836.09 899.97 L1834.11 903.69 L1832.91 907.49 L1830.79 910.75 L1829.54 913.81 L1828.7 917.85 L1829.09 922.25 L1827.39 925.67 L1827.05 928.9 L1826.99 932.72 L1825.75 936.85 L1824.62 939.55 L1823.63 943.17 L1823.59 946.9 L1823.49 950.23 L1823.5 953.71 L1823.72 957.97 L1823.67 961.51 L1820.54 964.79 L1818.36 968.37 L1816.3 970.9 L1815.02 974.2 L1813.12 977.11 L1811.7 980.51 L1810.75 983.65 L1810.19 987.41 L1808.73 991.43 L1809 993.96 L1808.15 998.25 L1807.06 1001.49 L1806.15 1004.67 L1806.18 1008.52 L1805.61 1013.06 L1805.25 1015.96 L1805.13 1019.71 L1804.31 1022.86 L1805.14 1027.01 L1804.43 1030.48 L1804.02 1033.48 L1803.28 1037.58" stroke-width="1.68" stroke-opacity="0.95"/>
<path d="M1830.75 856.32 L1832.61 858.32 L1835.82 861.94 L1837.95 864.18 L1839.68 867.35 L1839.49 870.27 L1840.76 874.21 L1840.65 877.82 L1839.76 880.12 L1840.11 884.69 L1841.2 886.86 L1840.75 890.6" stroke-width="1.57" stroke-opacity="0.95"/>
<path d="M1840.74 890.82 L1843.19 894.03 L1845.65 895.91 L1847.76 899.41 L1850.73 901.48 L1852.11 904.28 L1854.29 907.54 L1856.02 910.72 L1858.24 914.55 L1858.66 918.38 L1860.12 922.12 L1862.18 925.71 L1863.41 929.07 L1863.98 932.83 L1864.55 935.68 L1865.9 940.51 L1866.51 943.08 L1866.92 946.97 L1867.54 950.58 L1867.88 954.53 L1868.62 957.57 L1868.63 961.84 L1869.62 965.34 L1869.21 969.66 L1869.7 974.54" stroke-width="1.34" stroke-opacity="0.95"/>
<path d="M1834.38 858.14 L1836.04 861.26 L1838.47 862.79 L1840.91 866.34 L1843.21 867.82 L1845.5 870.7 L1848 874.4 L1850.49 877.89 L1852.31 880.64 L1854.52 883.75 L1856.36 887.21 L1859 890.09 L1860.97 893.25 L1863.4 896.14 L1865.78 898.78 L1867.72 902.61 L1870.29 904.38 L1872.84 907.28 L1874.2 910.57 L1876.32 913.41 L1876.6 916.37 L1878.9 919.25 L1879.43 922.21 L1881.67 925.46 L1883.45 929.01 L1884.07 931 L1884.98 934.99 L1886.64 937.53 L1888.09 940.29 L1888.81 943.52 L1889.86 946.97 L1892.28 949.23 L1893.65 952.34 L1894.41 954.88 L1896.16 958.38 L1898.11 961.68 L1900.41 965.17 L1901.25 967.9 L1903.95 970.79 L1905.04 974.21 L1905.95 978.25 L1906.68 981.26 L1906.22 984.54 L1906.95 986.99 L1906.4 990.96 L1906.04 994.06 L1905.55 997.24 L1906.21 1000.1 L1905.3 1003.58 L1906.92 1006.34 L1909.14 1008.21 L1910.93 1011.66 L1913.1 1014.2 L1916.02 1016.85 L1918.05 1019.61 L1919.05 1023.61 L1918.93 1026.8 L1919.36 1030.66 L1920.37 1034.68 L1921.32 1037.61" stroke-width="1.46" stroke-opacity="0.95"/>
<path d="M1838.01 859.95 L1841.15 861.27 L1845.02 862.75 L1848.11 864.85 L1851.63 866.14 L1854.6 867.42 L1856.55 869.38 L1858.33 872.14 L1861.42 875.43 L1863.43 877.94 L1866.01 880.04 L1868.22 882.63 L1871.16 884.67 L1874.3 887.14 L1876.63 889.83 L1880.46 891.9 L1883.14 894.59 L1884.99 896.38 L1888.68 897.97 L1891.02 900.46 L1894.11 902.41 L1896.31 904.42 L1899.7 904.78 L1904.43 904.4 L1908.74 905.2 L1912.47 907.75 L1914.95 909.59 L1917.87 910.88 L1920.46 914.23 L1922.75 915.92 L1924.77 919.42 L1927.14 921.57 L1929.49 924.65 L1931.1 928.18 L1932.94 929.91 L1934.19 932.72 L1935.93 936.02 L1937.96 938.34 L1940.95 942.36 L1943.22 944.92 L1945.22 947.11 L1947.34 949.14 L1950.07 952.02 L1952.55 954.93 L1954.22 958.08 L1955.98 960.95 L1958.61 964.53 L1959.51 967.17" stroke-width="1.46" stroke-opacity="0.95"/>
<path d="M1863.44 868.12 L1867.43 868.95 L1870.12 870.46 L1874.16 871.43 L1878.04 872.46 L1881 874.63 L1884.22 875.89 L1886.19 876.74 L1889.33 879.2 L1892.67 879.96 L1895.36 881.68 L1899.67 883.53 L1902.91 883.91 L1906.29 886.04 L1908.99 887.02 L1913.12 888.88 L1916.37 889.64 L1919.83 890.22 L1923.83 891.89 L1927.1 892.68 L1930.49 893.61 L1933.46 895.07 L1936.7 895.69 L1939.78 896.45 L1942.16 897.94 L1945.38 899.08" stroke-width="1.01" stroke-opacity="0.55"/>
<path d="M1896.12 904.44 L1897.31 907.39 L1899.01 911.16 L1900.23 914.62 L1902.12 918.52 L1903.19 921.5 L1905.56 924.89 L1907.5 927.74 L1909.39 931.84 L1910.84 935.42 L1912.3 938.08 L1915.02 940.77 L1915.73 944.93 L1917.55 948.21 L1918.98 950.53 L1921.61 954.28 L1923.74 957.53 L1925.27 959.51 L1926.86 962.51 L1928.72 965.71 L1930.48 968.8 L1932.66 972.17 L1933.85 975.59 L1934.93 979.68 L1936.03 983.27 L1937.09 986.75 L1937.38 990.45 L1938.28 993.9 L1938.5 998.43 L1939.77 1001.74 L1940.78 1004.91 L1941.84 1008.94 L1941.14 1012.67 L1943 1015.44 L1943.43 1019.7 L1943.59 1023.31 L1945.15 1027.35 L1946.17 1030.37 L1945.67 1034.31 L1946.92 1037.62" stroke-width="1.34" stroke-opacity="0.95"/>
<path d="M1794.43 965.28 L1792.25 967.51 L1790.09 970.13 L1788.28 972.19 L1785.29 974.4 L1783.8 976.39 L1780.08 978.25 L1779.02 981.86 L1776.25 983.25 L1774.57 987.05 L1773.93 990.86 L1772.69 995.06 L1770.73 997.89 L1769.87 1002 L1770.86 1004.46 L1770.58 1008.4 L1770.01 1011.65 L1769.6 1014.69 L1768.88 1017.9" stroke-width="1.34" stroke-opacity="0.95"/>
<path d="M1816.22 970.73 L1816.26 974.54 L1816.45 978.53 L1816.94 981.04 L1817.39 985.98 L1817.94 988.64 L1817.82 992.3 L1817.82 996.7 L1818.91 999.96 L1818.42 1003.28 L1819.12 1007.47 L1819.8 1010.55" stroke-width="1.12" stroke-opacity="0.85"/>
<path d="M1808.96 914.43 L1808.65 916.85 L1806.28 920.93 L1806.43 923.51 L1804.52 926.39 L1803.71 930.22 L1802.64 932.37 L1801.6 936.29 L1800.79 940.14 L1801.18 943.39 L1800.61 946.4 L1798.93 950.1 L1799.13 954.17 L1797.96 957.87 L1797.06 960.91 L1795.64 964.65 L1794.62 969.09 L1792.6 972.31" stroke-width="1.46" stroke-opacity="0.95"/>
<path d="M1814.41 921.69 L1813.07 925.19 L1813.54 929.22 L1812.66 932.23 L1812.38 936.41 L1811.8 940.4 L1810.97 943.33 L1810.15 947.26 L1809.17 950.11 L1808.11 952.84 L1807.42 957.26 L1806.79 959.91 L1805.53 963.42" stroke-width="1.23" stroke-opacity="0.95"/>
<path d="M1874.33 910.8 L1877.09 914 L1878.76 916.47 L1881.24 919.52 L1883.17 921.52 L1885.07 925.84 L1885.98 929.2 L1886.88 932.96 L1886.88 936.33 L1889.14 939.8 L1890.13 942.65 L1891.93 944.24 L1892.42 948.51 L1894.55 950.67" stroke-width="1.12" stroke-opacity="0.8"/>
<path d="M1888.86 820 L1891.05 822.23 L1894.49 824.36 L1897.93 824.86 L1900.33 827.27 L1902.39 829.7 L1905.87 830.75 L1908.78 832.84 L1912.47 833.62 L1915.25 835.53 L1917.73 836.11 L1920.25 838.73 L1924.09 839.53 L1926.88 840.47 L1929.94 842.65 L1932.65 843.6 L1935.04 845.1 L1939.2 846.29 L1942.09 847.55 L1945.08 847.7 L1947.27 849.35 L1951.63 850.31 L1954.26 851.71 L1958.01 852.48 L1961.21 853.65 L1964.79 855.16 L1969.42 855.22 L1972.26 856.45" stroke-width="1.12" stroke-opacity="0.8"/>
<path d="M1863.44 820 L1863.77 823.65 L1863.63 826.78 L1864.98 830.09 L1865.03 832.51" stroke-width="1.23" stroke-opacity="0.95"/>
</g>
<g fill="none" stroke="#ff3a2a" stroke-linecap="round" stroke-linejoin="round">
<path d="M1824.39 745.28 L1823.77 741.91 L1822 737.62 L1821.46 734.4 L1821.23 730.75 L1819.62 727.28 L1818.39 723.51 L1816.71 719.74 L1815.6 716.63 L1814.21 712.62 L1812.47 709.98 L1810.81 706.44 L1809.81 704.08 L1807.92 700.91 L1807 697.95 L1805.29 695.48 L1803.48 692.21 L1801.2 688.89 L1799.67 684.52 L1798.19 681.92 L1796.23 678.1 L1796.29 674.94 L1794.41 671.18 L1793.01 668.82 L1792.86 665.62 L1791.53 661.03 L1790.17 658.54 L1789.84 654.69 L1787.85 650.89 L1787.16 647.28 L1785.6 644.86 L1785.34 640.66 L1783.22 638.7 L1781.99 635.77 L1781.14 632.38 L1780.01 628.91 L1778.45 625.51 L1777.91 622.99 L1775.95 620.1 L1775.32 616.21 L1774.36 612.52 L1773.58 607.33" stroke-width="3.14" stroke-dasharray="0.1 3.8" stroke-dashoffset="1" stroke-opacity="0.9"/>
<path d="M1825.3 745.28 L1828.05 743.4 L1829.93 740.01 L1831.79 738.16 L1834.21 735.11 L1835.67 732.22 L1838.13 729.87 L1837.97 726.75 L1839.98 723.48 L1840.65 720.24 L1840.76 716.37 L1841.01 711.99 L1841.43 708.68 L1842.75 705.61 L1842.62 701.88 L1842.44 698.11 L1843.56 694.38 L1842.78 690.66 L1842.59 687.44 L1842.02 682.92 L1841.97 680.2 L1842.34 676.51 L1841.86 672.57 L1840.4 668.99 L1840.47 664.89 L1840.26 661.5 L1839.07 657.85 L1839.14 654.23 L1837.99 650.52 L1837.02 647.11 L1836.32 644.21 L1836.02 640.25 L1835.12 636.3 L1834.31 633.2 L1832.64 628.99 L1832.42 625.92 L1830.61 621.81 L1829.33 618.61 L1827.38 615.98 L1825.54 612.74 L1822.85 609.94 L1819.97 607.54" stroke-width="2.92" stroke-dasharray="0.1 4.4" stroke-dashoffset="2" stroke-opacity="0.9"/>
<path d="M1835.29 629.06 L1837.33 625.67 L1839.09 622.15 L1841.01 619.59 L1843.34 616.12 L1844.37 611.66 L1844.59 607.68" stroke-width="2.24" stroke-dasharray="0.1 5" stroke-dashoffset="0" stroke-opacity="0.9"/>
<path d="M1839.83 649.03 L1840.75 646.32 L1842.6 642.23 L1842.54 639.44 L1844.7 636.12 L1845.42 632.64 L1846.36 627.79 L1847.05 623.55" stroke-width="2.13" stroke-dasharray="0.1 3.2" stroke-dashoffset="1" stroke-opacity="0.9"/>
<path d="M1843.46 690.8 L1846.92 688.83 L1850.88 687 L1853.46 685.89 L1857.79 685.38 L1859.59 684.95 L1863.62 683.7 L1866.86 683.16 L1870.41 681.54 L1874.88 681.85 L1877.53 681.2 L1881.36 679.81 L1884.5 678.32 L1888.36 678.05 L1892.19 676.17 L1895.65 675.26 L1899.94 674.51 L1902.19 673.52 L1905.86 671.96 L1908.88 671.05 L1912.31 669.62 L1915.09 668.35 L1917.98 667.14 L1920.88 665.94 L1924.41 664.32 L1927.82 663.36 L1930.8 662.39 L1933.58 660.93" stroke-width="2.47" stroke-dasharray="0.1 3.8" stroke-dashoffset="2" stroke-opacity="0.9"/>
<path d="M1849.82 685.35 L1851.75 682.03 L1854.06 679.38 L1856.45 675.26 L1857.77 672.44 L1859.18 669.07 L1860.88 666.45 L1862.86 664.2 L1865.43 661.72 L1867.3 658.23 L1868.83 654.13 L1868.84 652.21 L1870.3 647.86 L1871.81 644.92 L1872.54 641.68 L1872.86 637.52 L1874.13 635.18 L1875.43 631.27 L1876.07 627.03 L1876.05 623.82 L1875.85 620.23 L1875 616.21" stroke-width="2.13" stroke-dasharray="0.1 4.4" stroke-dashoffset="0" stroke-opacity="0.9"/>
<path d="M1843.46 696.25 L1847.07 695.99 L1851.21 695.42 L1854.28 694.37 L1858.53 696.07 L1861.6 695.79 L1865.44 697.21 L1868.68 697.66 L1872.46 699.03 L1875.59 699.39 L1880.46 700.06 L1883.04 699.94 L1886.45 700.78 L1890.74 700.62 L1894.15 700.77 L1897.6 700.29 L1900.61 700.09 L1905.04 699.9 L1907.71 699.93 L1910.62 699.68 L1914.07 699.41 L1917.85 699.44" stroke-width="2.02" stroke-dasharray="0.1 5" stroke-dashoffset="1" stroke-opacity="0.9"/>
<path d="M1840.74 723.49 L1844.72 720.76 L1847.14 718.88 L1850.67 716.23 L1854.12 714.22 L1857.34 712.9 L1859.88 712.6 L1863.68 710.86 L1866.58 709.96 L1870.38 709.83 L1873.93 708.14 L1878.17 708.07 L1881.64 707.13 L1885.92 707.44 L1889.52 707.71 L1892.44 708.02 L1896.45 708.97 L1899.63 708.97 L1903.73 708.36 L1907.26 707.92 L1910.76 707.07" stroke-width="2.47" stroke-dasharray="0.1 3.2" stroke-dashoffset="2" stroke-opacity="0.9"/>
<path d="M1850.73 716.22 L1853.61 715.06 L1857.67 715.75 L1860.09 715.56 L1863.64 714.23 L1867.57 714.51 L1870.42 714.5 L1874.2 714.41 L1877.74 715.12" stroke-width="2.36" stroke-dasharray="0.1 3.8" stroke-dashoffset="0" stroke-opacity="0.9"/>
<path d="M1838.01 729.84 L1840.45 726.61 L1842.89 724.89 L1846.01 721.66 L1848.96 719.16 L1852.01 718.86 L1856.71 720.2 L1860.45 719.94 L1863.37 720.06 L1867.69 720.18 L1870.78 719.78 L1873.97 718.96 L1878.57 717.89 L1881.66 717.88 L1885.74 716.73 L1889.08 714.31 L1892.25 712.59" stroke-width="2.36" stroke-dasharray="0.1 4.4" stroke-dashoffset="1" stroke-opacity="0.9"/>
<path d="M1838.92 730.75 L1841.07 732.78 L1843.01 735.74 L1846.04 737.38 L1848.88 740.06 L1850.75 741.67 L1852.61 744.63 L1854.05 747.29 L1855.26 751.22 L1856.23 754.6 L1856.21 757.4 L1857.53 761.08 L1857.57 764.31 L1858.08 767.25 L1859.58 770.5 L1860.39 773.71 L1861.51 777.28 L1863.68 781.42 L1865.41 784.68 L1867.77 788.91 L1868.72 792.66 L1871.7 795.48 L1873.01 796.89 L1875.94 798.98 L1878 801.67 L1880.16 805.69 L1881.72 808.73" stroke-width="2.36" stroke-dasharray="0.1 5" stroke-dashoffset="2" stroke-opacity="0.9"/>
<path d="M1828.03 764.35 L1831.81 762.66 L1834.34 760.45 L1838.42 759.37 L1841.44 757.98 L1845.15 756.37 L1849.01 755.32 L1852.59 754.63 L1856.38 752.44 L1860 750.45 L1863.37 748.25 L1865.71 747.74 L1869.49 745.59 L1872.37 743.27 L1875.75 740.63 L1877.11 739 L1880.62 737.19 L1883.43 735.16 L1885.2 732.77 L1886.77 728.87 L1889.55 727.08 L1890.76 723.48" stroke-width="2.24" stroke-dasharray="0.1 3.2" stroke-dashoffset="0" stroke-opacity="0.9"/>
<path d="M1807.14 698.97 L1803.07 697.64 L1799.23 696.55 L1796.24 696.44 L1793.63 695.18 L1789.97 694.02 L1786.85 693.29 L1783.9 692.41 L1779.99 690.84 L1776.08 689.85 L1773.17 688.46 L1769.47 687.94 L1766.1 687.35 L1763 686.99 L1760.02 685.36 L1756.46 684.15 L1752.73 683.97 L1750.43 682.46 L1746.66 680.67 L1743.13 679.66 L1739.43 679.26 L1736.15 677.95 L1733.03 677.34 L1729.64 676.12 L1724.81 676.57 L1721.95 675.47 L1718.19 674.28 L1715.24 673.9 L1711.51 672.83 L1706.93 672.89 L1703.25 672.82 L1699.88 671.52" stroke-width="2.24" stroke-dasharray="0.1 3.8" stroke-dashoffset="1" stroke-opacity="0.9"/>
<path d="M1801.69 687.17 L1797.56 685.61 L1795.1 685.31 L1790.88 683.5 L1786.48 682.67 L1782.97 680.36 L1779.81 679.99 L1776.11 677.87 L1774.46 674.63 L1771.78 672.1 L1768.71 669.48 L1766.49 667.82 L1764.67 664.52 L1761.54 661.58 L1758.89 659.64 L1757.28 655.95 L1753.87 654.81 L1751.05 650.94 L1748.91 649.23 L1745.95 647.55 L1743.01 645.64 L1740.36 643.73 L1738.26 641.96" stroke-width="2.24" stroke-dasharray="0.1 4.4" stroke-dashoffset="2" stroke-opacity="0.9"/>
<path d="M1823.49 781.6 L1821.21 779.42 L1818.99 776.46 L1817.57 773.63 L1814.18 769.63 L1812.69 767.26 L1810.05 764.57 L1808.2 760.51 L1805.43 757.61 L1803.47 756.1 L1801.78 752.72 L1799.59 749.66 L1796.54 747.33 L1793.81 743.76 L1790.99 741.47 L1787.81 739.75 L1785.35 737.78 L1781.8 734.81 L1779.52 732.25 L1776.46 730.66 L1773.08 729.26 L1770.54 727.84 L1766.64 726.47 L1763.61 726.09 L1761.87 723.96 L1758.09 723.41 L1754.19 721.44 L1750.26 719.74 L1747.1 717.82 L1743.04 716.86 L1740.28 715.13 L1736.48 712.71" stroke-width="2.24" stroke-dasharray="0.1 5" stroke-dashoffset="0" stroke-opacity="0.9"/>
<path d="M1798.06 748.91 L1796.74 744.69 L1796.97 741.92 L1795.67 737.48 L1794.58 734.4 L1792.36 731.04 L1792.23 728.75 L1789.46 725.04 L1788.99 722.54 L1787.16 719.67 L1784.41 717.13 L1782.52 713.94 L1779.83 711.6 L1777.89 708.74 L1774.87 705.56 L1771.85 703.64 L1770.93 699.2" stroke-width="2.24" stroke-dasharray="0.1 3.2" stroke-dashoffset="1" stroke-opacity="0.9"/>
<path d="M1794.43 679.9 L1791.89 677.29 L1790.22 674.27 L1788.84 671.72 L1786.98 670.18 L1784.94 666.76 L1782.76 665.62 L1780.55 662.54 L1778.16 659.92 L1777.06 657.19 L1775.04 654.08 L1773.61 651.5 L1772.52 648.92 L1770.05 645.99 L1768.35 642.78 L1767.2 640.06 L1764.43 636.7 L1762.48 634.68 L1760.34 631.87 L1759.29 628.95 L1756.18 626.48 L1754.43 623.58 L1750.82 621.61 L1747.89 619.8 L1744.94 617.07 L1741.98 614.77 L1737.87 613.81 L1734.82 612.48 L1732.67 610.08 L1729.16 609.11" stroke-width="2.02" stroke-dasharray="0.1 3.8" stroke-dashoffset="2" stroke-opacity="0.9"/>
<path d="M1792.61 665.37 L1792.85 662.24 L1793.15 658.95 L1793.82 654.65 L1794.03 652.37 L1794.68 648.78 L1794.45 645.22 L1793.97 641.76 L1793.77 637.53 L1794.24 632.63" stroke-width="2.02" stroke-dasharray="0.1 4.4" stroke-dashoffset="0" stroke-opacity="0.9"/>
<path d="M1810.77 701.69 L1811.01 697.62 L1810.8 695.4 L1810.76 691.09 L1810.32 688.88 L1810.44 685.09 L1811.29 681.13 L1811.17 678.18 L1810.13 674.33 L1810.63 670.9 L1809.41 667.9 L1809.27 665.13 L1808.68 661.41 L1807.77 657.24 L1807.18 654.45" stroke-width="1.91" stroke-dasharray="0.1 5" stroke-dashoffset="1" stroke-opacity="0.9"/>
<path d="M1827.12 696.25 L1828.18 699.24 L1827.91 702.43 L1829.66 705.78 L1829.93 708.74 L1829.11 712.24 L1829.18 715.65 L1829.56 719.6 L1828.32 723.36 L1829.84 727.47 L1831.27 730.91" stroke-width="2.36" stroke-dasharray="0.1 3.2" stroke-dashoffset="2" stroke-opacity="0.9"/>
<path d="M1816.22 810.65 L1813.3 808.46 L1808.97 805.28 L1805.94 802.41 L1802.78 801.36 L1801.37 798.31 L1798.11 796.11 L1795.62 792.8 L1793 790.19 L1790.03 788.14 L1787.34 785.29 L1784.5 783.16 L1782.62 780.24 L1781.08 778.32 L1777.86 774.99 L1776.18 772.69 L1773.7 770.11 L1771.87 766.34 L1769.14 763.53 L1764.28 761.52" stroke-width="2.58" stroke-dasharray="0.1 3.8" stroke-dashoffset="0" stroke-opacity="0.9"/>
<path d="M1828.93 812.47 L1831.66 814.06 L1835.31 814.35 L1839.07 816.47 L1841.47 817.11 L1845.14 818.06 L1848.82 816.5 L1851.76 813.72 L1855.34 811.88 L1858.03 810.88 L1861.88 810.62 L1866.73 810.87 L1870.61 810.61 L1874.93 810.37 L1877.48 809.71 L1881.77 808.89 L1884.91 810.3 L1886.73 813.02 L1889.4 813.72 L1892.32 816.29 L1896.15 816.56 L1899.21 817.46 L1902.21 818.09 L1905.24 819.86 L1908.48 820.11 L1911.17 820.03 L1915.44 820.09 L1918.65 820.61 L1921.7 820.76 L1924.89 821.57 L1929.29 821.44 L1932.77 821.87 L1936.11 822.37 L1938.44 819.44 L1941.51 817.18 L1943.4 814.3 L1946.95 811.4" stroke-width="2.58" stroke-dasharray="0.1 4.4" stroke-dashoffset="1" stroke-opacity="0.9"/>
<path d="M1881.6 808.84 L1884.09 811.93 L1885.9 815.21 L1887.85 818.59 L1890.82 821.48 L1893.35 824.07 L1897.21 824.91 L1899.6 827.11 L1903.25 829.01 L1906.62 830.29 L1909.06 831.82 L1911.69 834.35 L1915.58 835.97 L1918.15 837.77 L1920.23 839.85 L1923.54 840.47 L1926.55 842.42 L1929.12 843.11 L1932.49 845.23 L1935.71 845.87 L1939.34 847.5 L1942.04 849.41 L1944.97 850.06" stroke-width="2.24" stroke-dasharray="0.1 5" stroke-dashoffset="2" stroke-opacity="0.9"/>
<path d="M1857.99 810.65 L1860.6 814.49 L1863.3 817.79 L1863.25 821.64 L1863.59 825.82 L1864.67 829.15 L1864.3 832.61" stroke-width="2.24" stroke-dasharray="0.1 3.2" stroke-dashoffset="0" stroke-opacity="0.9"/>
<path d="M1830.75 803.39 L1834.49 804.04 L1838.7 803.27 L1842.04 804.68 L1845.23 804.22 L1848.21 803.76 L1852.1 801.29 L1855.56 800.91 L1859.9 799.96 L1862.96 796.98 L1866.26 795.96 L1868.98 793.82 L1871.93 791.32 L1874.47 788.62 L1877.97 785.94 L1880.03 784.61 L1883.07 782.08 L1885.97 779.87 L1888.94 777.73 L1892.26 776.38 L1896.06 773.61 L1899.74 772.73 L1902.7 771.05 L1905.39 769.61 L1908.51 767.54 L1911.57 765.72 L1914.23 763.65 L1918.35 763.58 L1921.55 762.33 L1924.03 762.66 L1928.09 761.76 L1931.02 760.44 L1934.29 760.49" stroke-width="2.24" stroke-dasharray="0.1 3.8" stroke-dashoffset="1" stroke-opacity="0.9"/>
<path d="M1850.73 799.76 L1852.13 795.71 L1853.61 791.98 L1854.55 789.27 L1856.21 785.05 L1858.72 781.33 L1859.67 779.19 L1861.74 775.92 L1863.64 772.32 L1865.72 769.87 L1868.13 767.92 L1870.44 766.16 L1872.52 763.4 L1875.33 761.12 L1878.58 759.64 L1880.69 758.5 L1883.58 756.42" stroke-width="2.02" stroke-dasharray="0.1 4.4" stroke-dashoffset="2" stroke-opacity="0.9"/>
<path d="M1870.7 792.49 L1873.13 789.51 L1874.83 786.86 L1877.24 782.68 L1879.27 780.64 L1881.08 777.85 L1883.53 774.53 L1885.83 772.76 L1888.95 770.46 L1891.28 768.27 L1894.81 766.73 L1896.8 764.88 L1899.78 763.43 L1903.21 761.35 L1905.33 761.03 L1908.91 758.42 L1911.3 758.37 L1914.52 756.08 L1917.56 754.1 L1919.44 753.14 L1922.44 751.46 L1925.83 749.44 L1928.8 747.29 L1932.81 745.39 L1935.36 744.18 L1939.76 743.27 L1941.79 741.01 L1944.93 738.83" stroke-width="2.13" stroke-dasharray="0.1 5" stroke-dashoffset="0" stroke-opacity="0.9"/>
<path d="M1868.89 763.44 L1871.8 765.75 L1874.77 768.53 L1876.85 771.47 L1879.96 774.11 L1882.06 776.63 L1884.12 780.23 L1885.6 783.07 L1887.3 786.24 L1888.68 788.71 L1891.29 791.16 L1892.36 794.08" stroke-width="2.02" stroke-dasharray="0.1 3.2" stroke-dashoffset="1" stroke-opacity="0.9"/>
<path d="M1825.3 814.28 L1821.38 815.02 L1816.13 815.43 L1812.4 815.19 L1810.19 816.94 L1807.48 819.42 L1805.47 821.43 L1801.29 823.47 L1797.71 823.37 L1794.65 825.39 L1790.37 825.22 L1787.35 825.09" stroke-width="2.69" stroke-dasharray="0.1 3.8" stroke-dashoffset="2" stroke-opacity="0.9"/>
<path d="M1808.96 817.92 L1809.32 820.8 L1809.61 825.34 L1810.77 828.99" stroke-width="2.24" stroke-dasharray="0.1 4.4" stroke-dashoffset="0" stroke-opacity="0.9"/>
<path d="M1803.51 823.36 L1807.06 824.38 L1810.72 825.91" stroke-width="2.24" stroke-dasharray="0.1 5" stroke-dashoffset="1" stroke-opacity="0.9"/>
<path d="M1798.7 698.23 L1795.45 697.68 L1791.77 696.67 L1789.77 696 L1785.52 695.08 L1781.98 693.44 L1779.8 693.49 L1776.17 692.37 L1772.52 691.44 L1769.4 690.02 L1766.36 687.88 L1763.11 686.5 L1759.44 685.84 L1756.58 684.1 L1752.38 682.35 L1749.66 681.1 L1745.27 680.39 L1742.31 679.51 L1738.58 678.04 L1736.38 676.41 L1732.16 675.62 L1728.77 674.48 L1725.41 673.75 L1721.87 672.89 L1718.95 671.41 L1716.39 671.09 L1712.5 669.38 L1709.32 668.84 L1706.56 667.43 L1702.28 665.11 L1700.63 664.12 L1696.76 661.9 L1693.74 661.07 L1690.17 659.19 L1686.67 657.86 L1684.18 656.7 L1680.28 654.8 L1677.75 654.19" stroke-width="2.13" stroke-dasharray="0.1 3.2" stroke-dashoffset="2" stroke-opacity="0.9"/>
<path d="M1764.32 658.94 L1762.4 657.52 L1759.07 654.8 L1757.06 653.43 L1754.06 651.38 L1751.88 649.16 L1748.48 647.27 L1746.3 645.27 L1742.54 644.6 L1740.22 642.06 L1736.97 641.13" stroke-width="2.02" stroke-dasharray="0.1 3.8" stroke-dashoffset="0" stroke-opacity="0.9"/>
<path d="M1766.29 727.7 L1762.78 725.39 L1760.34 724.36 L1756.98 723.11 L1754.03 721.8 L1752.3 719.26 L1748.37 717.66 L1744.73 716.02 L1741.16 714.47 L1736.7 712.8" stroke-width="2.13" stroke-dasharray="0.1 4.4" stroke-dashoffset="1" stroke-opacity="0.9"/>
<path d="M1822.03 849.06 L1824.41 853.08 L1825.39 856.18 L1824.31 860.34 L1823.71 863.25 L1822.35 867.68 L1821.45 870.92 L1821.07 874.05 L1819.93 877.84 L1818.68 880.76 L1818.15 883.68 L1816.03 887.48 L1815.13 890.27 L1814.56 894.1 L1812.57 897.99 L1810.92 901.04 L1810.58 904.83 L1809.69 907.37 L1807.89 911.66 L1807.15 914.55 L1806.36 917.94 L1804.99 922.21 L1805.57 925.65 L1803.81 929.15 L1803.6 932.48 L1802.6 936.81 L1801.7 940.02 L1800.65 942.77 L1799.92 946.83 L1800.09 950.79 L1798.95 953.85 L1798.15 957.46 L1796.5 961.4 L1796.13 965.42 L1795.89 969.12 L1795.01 972.38 L1794.31 975.85 L1794.68 979.89 L1793.88 983.63 L1794.44 987.54 L1793.56 990.19 L1792.55 993.69 L1793.4 998.39 L1792.71 1001.71 L1791.71 1005.35 L1791.15 1008.16 L1791.7 1011.75 L1791.03 1015.9 L1790.98 1019.68 L1791.08 1023.59 L1791.73 1027.59 L1793.61 1031.17 L1793.88 1033.52 L1794.28 1037.66" stroke-width="3.03" stroke-dasharray="0.1 5" stroke-dashoffset="2" stroke-opacity="0.9"/>
<path d="M1816.22 849.96 L1812.5 851.18 L1808.52 851.88 L1805.86 852.37 L1801.86 853.42 L1798.31 854.72 L1794.05 856.59 L1790.65 859.06 L1788.24 861.93 L1785.37 863.51 L1781.94 866.27 L1780.15 869.36 L1777.74 871.43 L1776.24 874.4 L1775.89 878.66 L1775.06 881.07 L1774.54 885.78 L1774.09 888.54 L1772.86 892.59 L1772.18 895.82 L1771.18 899.79 L1771.1 903.17 L1770.54 907.06 L1769.77 910.87 L1768.89 913.73 L1768.01 917.94 L1767.82 921.05 L1767.47 924.69 L1766.8 928.25 L1765.28 932.51 L1764.55 935.61 L1762.76 940.34 L1762.73 942.82 L1760.41 946.88 L1759.86 950.84 L1759.14 953.86 L1756.77 956.14 L1754.91 958.82 L1754.66 962.92 L1752.6 965.14 L1751.39 967.78 L1748.89 971.67 L1746.5 973.77 L1744.95 976.82 L1743.8 980.03 L1742.15 983.23 L1739.77 985.97 L1738.48 989.13 L1736.12 991.95 L1734.35 994.38 L1732.91 997.42 L1730.35 999.3 L1727.5 1002.6 L1725.58 1005.1 L1724.12 1009.23 L1722.98 1012.13 L1720.74 1015.91 L1719.82 1019.79 L1718.93 1022.64 L1718.45 1027.5 L1716.25 1030.09 L1716.3 1033.29 L1714.36 1037.49" stroke-width="2.36" stroke-dasharray="0.1 3.2" stroke-dashoffset="0" stroke-opacity="0.9"/>
<path d="M1790.8 859.04 L1787.68 858.2 L1783.58 859.07 L1780.09 858.41 L1776.5 858.63 L1772.63 858.02 L1769.51 858.44 L1765.38 858.05 L1762.53 857.17 L1759.06 856.88 L1756.48 857.47 L1752.63 857.41 L1749.83 857.83 L1745.3 858.87 L1742.27 859.66 L1738.75 860.7 L1736.54 860.53 L1732.85 861.56 L1729.61 864.04 L1727.21 865.97 L1724.87 868.7 L1722.93 871.06 L1719.84 872.54 L1718.29 875.06 L1715.04 877.75 L1713.05 880.49 L1711.12 882.32 L1709.21 885.57 L1706.29 887.21 L1704.54 889.41 L1702.96 892.09 L1699.79 894.3" stroke-width="2.36" stroke-dasharray="0.1 3.8" stroke-dashoffset="1" stroke-opacity="0.9"/>
<path d="M1721.1 873.08 L1718.22 875.66 L1716.35 879.55 L1713.58 882 L1711.51 884.87 L1708.64 887.89 L1706.63 889.66 L1704.38 891.86 L1701.25 894.56 L1697.93 897.52 L1694.54 898.64 L1691.44 901.72" stroke-width="2.36" stroke-dasharray="0.1 4.4" stroke-dashoffset="2" stroke-opacity="0.9"/>
<path d="M1776.27 874.48 L1773 876.97 L1769.48 877.58 L1765.99 880.31 L1763.2 882.26 L1760.15 883.55 L1757.04 887.26 L1755.96 890.03 L1753.16 893.52 L1750.78 896.03 L1749.72 899.13 L1746.97 902.66 L1746.01 904.9 L1743.95 908.64 L1741.78 910.8 L1740.25 913.15 L1737.71 916.17 L1734.97 919.94 L1732.42 923.05 L1730.98 925.54 L1729.88 928.5 L1727.7 930.77 L1726.95 934.82 L1724.55 937.12 L1724 940.2 L1721.63 943.35 L1720.65 946.86 L1718.54 949.57 L1717.58 952.45 L1715.47 955.53 L1714.33 957.82 L1713.23 961.89 L1711.91 965.08 L1710.7 968.07 L1709.35 971.8 L1707.43 974.18 L1705.49 977.19 L1704.43 980.12 L1703.49 983.29 L1702.09 986.71 L1699.77 988.78" stroke-width="2.24" stroke-dasharray="0.1 5" stroke-dashoffset="0" stroke-opacity="0.9"/>
<path d="M1723.06 953.63 L1722.22 956.18 L1719.74 959.43 L1718.6 963 L1717.33 966.91 L1715.4 969.26 L1713.94 973.53 L1712.14 976.13 L1711.52 979.77 L1709.07 983.13" stroke-width="2.02" stroke-dasharray="0.1 3.2" stroke-dashoffset="1" stroke-opacity="0.9"/>
<path d="M1799.88 856.32 L1799.14 859.26 L1800.08 863.97 L1799.19 867.87 L1798.73 870.17 L1798.75 874.47 L1798.97 878.36 L1800.4 881.71 L1800.56 884.8 L1800.76 888.57 L1800.96 892.66 L1800.21 896.11 L1799.65 900.24 L1799.68 903 L1799 906.99 L1798.86 910.63 L1798.86 914.75 L1797.86 918.34 L1797.97 921.69 L1798.71 925.02 L1798.23 928.75 L1797.41 931.84 L1796.82 936.51 L1797.61 940.26 L1796.19 943.64 L1796.31 947.01 L1795.23 951.29 L1796.17 954.14 L1794.56 958.46 L1794.33 960.97 L1794.68 965.13 L1793.31 969.14 L1793.31 972.76 L1791.75 976.77 L1791.33 979.36 L1790.94 983.3 L1789.59 986.71 L1788.58 991.09 L1786.97 995.08 L1786.44 998.49 L1785.33 1001.53 L1784.72 1004.59 L1783.45 1008.29 L1782.69 1012.14 L1781.95 1016.75 L1781.49 1019.64" stroke-width="2.24" stroke-dasharray="0.1 3.8" stroke-dashoffset="2" stroke-opacity="0.9"/>
<path d="M1818.04 883.56 L1818.11 887.33 L1820.07 890.9 L1820.05 894.88 L1821.09 898.41 L1821.78 901.6 L1821.39 905.05 L1821.96 909.35 L1823.28 911.96 L1823.24 916.3 L1823.46 919.75 L1823.86 923.96 L1823.16 927.63 L1823.03 931.36 L1822.46 934.66 L1821.43 937.95 L1821.72 942.09 L1821.57 945.64 L1822.46 948.34 L1822.69 952.22 L1823.44 955.84 L1823.36 959.99 L1824.69 963.87 L1825.66 966.91 L1827.08 970.35 L1828.94 974.54 L1829.12 978.55 L1829.05 980.97 L1829.98 984.94 L1829.35 989.16 L1830.09 992.53 L1829.32 995.75 L1828.1 999.57 L1827.78 1003.48 L1827.11 1006.68 L1827.01 1010.44" stroke-width="2.24" stroke-dasharray="0.1 4.4" stroke-dashoffset="0" stroke-opacity="0.9"/>
<path d="M1827.12 856.32 L1828.77 859.74 L1829.85 863.93 L1830.86 867.23 L1831.66 870.56 L1833.23 873.22 L1835.33 877.32 L1836.37 880.13 L1837.87 884.06 L1839.41 887.79 L1840.59 890.66 L1838.61 893.69 L1838.44 896.98 L1836.09 899.97 L1834.11 903.69 L1832.91 907.49 L1830.79 910.75 L1829.54 913.81 L1828.7 917.85 L1829.09 922.25 L1827.39 925.67 L1827.05 928.9 L1826.99 932.72 L1825.75 936.85 L1824.62 939.55 L1823.63 943.17 L1823.59 946.9 L1823.49 950.23 L1823.5 953.71 L1823.72 957.97 L1823.67 961.51 L1820.54 964.79 L1818.36 968.37 L1816.3 970.9 L1815.02 974.2 L1813.12 977.11 L1811.7 980.51 L1810.75 983.65 L1810.19 987.41 L1808.73 991.43 L1809 993.96 L1808.15 998.25 L1807.06 1001.49 L1806.15 1004.67 L1806.18 1008.52 L1805.61 1013.06 L1805.25 1015.96 L1805.13 1019.71 L1804.31 1022.86 L1805.14 1027.01 L1804.43 1030.48 L1804.02 1033.48 L1803.28 1037.58" stroke-width="2.58" stroke-dasharray="0.1 5" stroke-dashoffset="1" stroke-opacity="0.9"/>
<path d="M1830.75 856.32 L1832.61 858.32 L1835.82 861.94 L1837.95 864.18 L1839.68 867.35 L1839.49 870.27 L1840.76 874.21 L1840.65 877.82 L1839.76 880.12 L1840.11 884.69 L1841.2 886.86 L1840.75 890.6" stroke-width="2.47" stroke-dasharray="0.1 3.2" stroke-dashoffset="2" stroke-opacity="0.9"/>
<path d="M1840.74 890.82 L1843.19 894.03 L1845.65 895.91 L1847.76 899.41 L1850.73 901.48 L1852.11 904.28 L1854.29 907.54 L1856.02 910.72 L1858.24 914.55 L1858.66 918.38 L1860.12 922.12 L1862.18 925.71 L1863.41 929.07 L1863.98 932.83 L1864.55 935.68 L1865.9 940.51 L1866.51 943.08 L1866.92 946.97 L1867.54 950.58 L1867.88 954.53 L1868.62 957.57 L1868.63 961.84 L1869.62 965.34 L1869.21 969.66 L1869.7 974.54" stroke-width="2.24" stroke-dasharray="0.1 3.8" stroke-dashoffset="0" stroke-opacity="0.9"/>
<path d="M1834.38 858.14 L1836.04 861.26 L1838.47 862.79 L1840.91 866.34 L1843.21 867.82 L1845.5 870.7 L1848 874.4 L1850.49 877.89 L1852.31 880.64 L1854.52 883.75 L1856.36 887.21 L1859 890.09 L1860.97 893.25 L1863.4 896.14 L1865.78 898.78 L1867.72 902.61 L1870.29 904.38 L1872.84 907.28 L1874.2 910.57 L1876.32 913.41 L1876.6 916.37 L1878.9 919.25 L1879.43 922.21 L1881.67 925.46 L1883.45 929.01 L1884.07 931 L1884.98 934.99 L1886.64 937.53 L1888.09 940.29 L1888.81 943.52 L1889.86 946.97 L1892.28 949.23 L1893.65 952.34 L1894.41 954.88 L1896.16 958.38 L1898.11 961.68 L1900.41 965.17 L1901.25 967.9 L1903.95 970.79 L1905.04 974.21 L1905.95 978.25 L1906.68 981.26 L1906.22 984.54 L1906.95 986.99 L1906.4 990.96 L1906.04 994.06 L1905.55 997.24 L1906.21 1000.1 L1905.3 1003.58 L1906.92 1006.34 L1909.14 1008.21 L1910.93 1011.66 L1913.1 1014.2 L1916.02 1016.85 L1918.05 1019.61 L1919.05 1023.61 L1918.93 1026.8 L1919.36 1030.66 L1920.37 1034.68 L1921.32 1037.61" stroke-width="2.36" stroke-dasharray="0.1 4.4" stroke-dashoffset="1" stroke-opacity="0.9"/>
<path d="M1838.01 859.95 L1841.15 861.27 L1845.02 862.75 L1848.11 864.85 L1851.63 866.14 L1854.6 867.42 L1856.55 869.38 L1858.33 872.14 L1861.42 875.43 L1863.43 877.94 L1866.01 880.04 L1868.22 882.63 L1871.16 884.67 L1874.3 887.14 L1876.63 889.83 L1880.46 891.9 L1883.14 894.59 L1884.99 896.38 L1888.68 897.97 L1891.02 900.46 L1894.11 902.41 L1896.31 904.42 L1899.7 904.78 L1904.43 904.4 L1908.74 905.2 L1912.47 907.75 L1914.95 909.59 L1917.87 910.88 L1920.46 914.23 L1922.75 915.92 L1924.77 919.42 L1927.14 921.57 L1929.49 924.65 L1931.1 928.18 L1932.94 929.91 L1934.19 932.72 L1935.93 936.02 L1937.96 938.34 L1940.95 942.36 L1943.22 944.92 L1945.22 947.11 L1947.34 949.14 L1950.07 952.02 L1952.55 954.93 L1954.22 958.08 L1955.98 960.95 L1958.61 964.53 L1959.51 967.17" stroke-width="2.36" stroke-dasharray="0.1 5" stroke-dashoffset="2" stroke-opacity="0.9"/>
<path d="M1863.44 868.12 L1867.43 868.95 L1870.12 870.46 L1874.16 871.43 L1878.04 872.46 L1881 874.63 L1884.22 875.89 L1886.19 876.74 L1889.33 879.2 L1892.67 879.96 L1895.36 881.68 L1899.67 883.53 L1902.91 883.91 L1906.29 886.04 L1908.99 887.02 L1913.12 888.88 L1916.37 889.64 L1919.83 890.22 L1923.83 891.89 L1927.1 892.68 L1930.49 893.61 L1933.46 895.07 L1936.7 895.69 L1939.78 896.45 L1942.16 897.94 L1945.38 899.08" stroke-width="1.91" stroke-dasharray="0.1 3.2" stroke-dashoffset="0" stroke-opacity="0.9"/>
<path d="M1896.12 904.44 L1897.31 907.39 L1899.01 911.16 L1900.23 914.62 L1902.12 918.52 L1903.19 921.5 L1905.56 924.89 L1907.5 927.74 L1909.39 931.84 L1910.84 935.42 L1912.3 938.08 L1915.02 940.77 L1915.73 944.93 L1917.55 948.21 L1918.98 950.53 L1921.61 954.28 L1923.74 957.53 L1925.27 959.51 L1926.86 962.51 L1928.72 965.71 L1930.48 968.8 L1932.66 972.17 L1933.85 975.59 L1934.93 979.68 L1936.03 983.27 L1937.09 986.75 L1937.38 990.45 L1938.28 993.9 L1938.5 998.43 L1939.77 1001.74 L1940.78 1004.91 L1941.84 1008.94 L1941.14 1012.67 L1943 1015.44 L1943.43 1019.7 L1943.59 1023.31 L1945.15 1027.35 L1946.17 1030.37 L1945.67 1034.31 L1946.92 1037.62" stroke-width="2.24" stroke-dasharray="0.1 3.8" stroke-dashoffset="1" stroke-opacity="0.9"/>
<path d="M1794.43 965.28 L1792.25 967.51 L1790.09 970.13 L1788.28 972.19 L1785.29 974.4 L1783.8 976.39 L1780.08 978.25 L1779.02 981.86 L1776.25 983.25 L1774.57 987.05 L1773.93 990.86 L1772.69 995.06 L1770.73 997.89 L1769.87 1002 L1770.86 1004.46 L1770.58 1008.4 L1770.01 1011.65 L1769.6 1014.69 L1768.88 1017.9" stroke-width="2.24" stroke-dasharray="0.1 4.4" stroke-dashoffset="2" stroke-opacity="0.9"/>
<path d="M1816.22 970.73 L1816.26 974.54 L1816.45 978.53 L1816.94 981.04 L1817.39 985.98 L1817.94 988.64 L1817.82 992.3 L1817.82 996.7 L1818.91 999.96 L1818.42 1003.28 L1819.12 1007.47 L1819.8 1010.55" stroke-width="2.02" stroke-dasharray="0.1 5" stroke-dashoffset="0" stroke-opacity="0.9"/>
<path d="M1808.96 914.43 L1808.65 916.85 L1806.28 920.93 L1806.43 923.51 L1804.52 926.39 L1803.71 930.22 L1802.64 932.37 L1801.6 936.29 L1800.79 940.14 L1801.18 943.39 L1800.61 946.4 L1798.93 950.1 L1799.13 954.17 L1797.96 957.87 L1797.06 960.91 L1795.64 964.65 L1794.62 969.09 L1792.6 972.31" stroke-width="2.36" stroke-dasharray="0.1 3.2" stroke-dashoffset="1" stroke-opacity="0.9"/>
<path d="M1814.41 921.69 L1813.07 925.19 L1813.54 929.22 L1812.66 932.23 L1812.38 936.41 L1811.8 940.4 L1810.97 943.33 L1810.15 947.26 L1809.17 950.11 L1808.11 952.84 L1807.42 957.26 L1806.79 959.91 L1805.53 963.42" stroke-width="2.13" stroke-dasharray="0.1 3.8" stroke-dashoffset="2" stroke-opacity="0.9"/>
<path d="M1874.33 910.8 L1877.09 914 L1878.76 916.47 L1881.24 919.52 L1883.17 921.52 L1885.07 925.84 L1885.98 929.2 L1886.88 932.96 L1886.88 936.33 L1889.14 939.8 L1890.13 942.65 L1891.93 944.24 L1892.42 948.51 L1894.55 950.67" stroke-width="2.02" stroke-dasharray="0.1 4.4" stroke-dashoffset="0" stroke-opacity="0.9"/>
<path d="M1888.86 820 L1891.05 822.23 L1894.49 824.36 L1897.93 824.86 L1900.33 827.27 L1902.39 829.7 L1905.87 830.75 L1908.78 832.84 L1912.47 833.62 L1915.25 835.53 L1917.73 836.11 L1920.25 838.73 L1924.09 839.53 L1926.88 840.47 L1929.94 842.65 L1932.65 843.6 L1935.04 845.1 L1939.2 846.29 L1942.09 847.55 L1945.08 847.7 L1947.27 849.35 L1951.63 850.31 L1954.26 851.71 L1958.01 852.48 L1961.21 853.65 L1964.79 855.16 L1969.42 855.22 L1972.26 856.45" stroke-width="2.02" stroke-dasharray="0.1 5" stroke-dashoffset="1" stroke-opacity="0.9"/>
<path d="M1863.44 820 L1863.77 823.65 L1863.63 826.78 L1864.98 830.09 L1865.03 832.51" stroke-width="2.13" stroke-dasharray="0.1 3.2" stroke-dashoffset="2" stroke-opacity="0.9"/>
</g>
<path d="M1826.5 829.8 C1827 836.8 1829.5 839.8 1829.2 845.8 C1829 851.8 1825.5 853.8 1824 857.8 C1821 853.8 1814.5 850.8 1814.5 843.8 C1814.5 836.8 1821.5 836.8 1822.5 829.8 Z" fill="#f0281e"/>
</g>
<rect x="1858.1" y="984.5" width="126.9" height="18" fill="#fff"/>
<text x="4" y="1128.7" font-size="37" font-weight="bold">i</text>
<path d="M29.6 1507.8 L49.6 1507.8 L50.3 1512 L52 1530 L55 1543 L59 1548.5 L63 1547 L68 1543.5 L74 1541.8 L91.8 1541.3 L92.3 1536 L94 1518 L96.5 1506 L100.7 1500.9 L104 1502.2 L108 1505 L113.5 1507.2 L125 1507.8 L234.8 1507.8 L235.4 1512 L236 1527 L237.5 1541 L240 1546.5 L243.5 1548 L247 1546.6 L252 1544.3 L262 1542.3 L280 1541 L300 1540.5 L304 1540.02 L308 1540.23 L312 1540.11 L316 1540.27 L320 1540.29 L324 1539.9 L328 1539.86 L332 1540.44 L336 1540.03 L340 1540.01 L344 1540.55 L348 1540.18 L352 1540.44 L356 1540.18 L360 1540.3 L364 1539.96 L368 1540.29 L372 1540.46 L376 1540.22 L380 1540.37 L384 1540.32 L388 1539.89 L392 1540.38 L396 1540.26 L400 1540.06 L404 1539.87 L408 1540.46 L412 1540.18 L416 1540.35 L420 1540.47 L424 1540.35 L428 1540.49 L432 1540.13 L436 1540.41 L438.8 1540.2 L439.2 1530 L440 1512 L442 1504.5 L446 1501.5 L450 1501.2 L455 1502.5 L462 1505 L470 1506.6 L485 1507.3 L541.8 1507.3" fill="none" stroke="#000" stroke-width="1.8" stroke-linejoin="round" stroke-linecap="round"/>
<path d="M29.6 1507.8 L49.6 1507.8 L50.3 1512 L52 1530 L55 1543 L59 1548.5 L63 1547 L68 1543.5 L74 1541.8 L91.8 1541.3 L92.3 1536 L94 1518 L96.5 1506 L100.7 1500.9 L104 1502.2 L108 1505 L113.5 1507.2 L125 1507.8 L234.8 1507.8 L235.6 1495 L236.6 1480 L238.5 1472 L241 1470 L242.34 1462.09 L242.84 1147.29 L243.34 1482.72 L244.04 1473.49 L247.19 1472.84 L250.35 1470.33 L253.5 1467.46 L256.66 1463.93 L259.81 1459.84 L262.97 1455.21 L263.47 1148.27 L263.97 1482.72 L264.67 1473.49 L268.55 1472.84 L272.42 1470.33 L276.3 1467.46 L280.17 1463.93 L284.05 1459.84 L287.93 1455.21 L288.43 1149.26 L288.93 1482.72 L289.63 1473.49 L293.01 1472.84 L296.4 1470.33 L299.78 1467.46 L303.16 1463.93 L306.55 1459.84 L309.93 1455.21 L310.43 1147.29 L310.93 1482.72 L311.63 1473.49 L315.38 1472.84 L319.12 1470.33 L322.87 1467.46 L326.61 1463.93 L330.36 1459.84 L334.1 1455.21 L334.6 1148.27 L335.1 1482.72 L335.8 1473.49 L339.78 1472.84 L343.75 1470.33 L347.73 1467.46 L351.7 1463.93 L355.68 1459.84 L359.65 1455.21 L360.15 1149.26 L360.65 1482.72 L361.35 1473.49 L365.49 1472.84 L369.63 1470.33 L373.76 1467.46 L377.9 1463.93 L382.04 1459.84 L386.18 1455.21 L386.68 1147.29 L387.18 1482.72 L387.88 1473.49 L392.77 1472.84 L397.66 1470.33 L402.55 1467.46 L407.44 1463.93 L412.33 1459.84 L417.22 1455.21 L417.72 1148.27 L418.22 1482.72 L418.92 1473.49 L422.24 1473.17 L425.55 1471.35 L428.86 1469.4 L432.17 1467.02 L435.49 1464.24 L439.3 1460.52 L440 1490 L441.5 1506 L444 1511.5 L448 1513.2 L453 1512.3 L460 1510 L470 1508.6 L541.8 1508.2" fill="none" stroke="#2d3a96" stroke-width="1.6" stroke-linejoin="round" stroke-linecap="round"/>
<path d="M29.6 1507.8 L49.6 1507.8 L50.3 1512 L52 1530 L55 1543 L59 1548.5 L63 1547 L68 1543.5 L74 1541.8 L91.8 1541.3 L92.3 1536 L94 1518 L96.5 1506 L100.7 1500.9 L104 1502.2 L108 1505 L113.5 1507.2 L125 1507.8 L234.8 1507.8 L235.5 1495 L236.3 1464.05 L236.89 1462.09 L237.34 1144.74 L237.79 1468.97 L238.5 1467.73 L239.67 1465.53 L240.23 1451.79 L240.68 1148.67 L241.13 1468.77 L242.12 1465.71 L243.56 1460.28 L244.35 1451.31 L244.8 1150.63 L245.25 1468.57 L246.45 1465.47 L248.1 1459.94 L249.07 1450.83 L249.52 1148.67 L249.97 1468.38 L251.1 1465.22 L252.68 1459.6 L253.59 1450.35 L254.04 1150.63 L254.49 1468.18 L255.62 1464.97 L257.2 1459.27 L258.11 1449.88 L258.56 1150.63 L259.01 1467.98 L260.21 1464.72 L261.86 1458.93 L262.82 1449.4 L263.27 1153.58 L263.72 1467.79 L265.2 1464.48 L267.13 1458.59 L268.33 1448.92 L268.78 1154.56 L269.23 1467.59 L270.7 1464.23 L272.63 1458.26 L273.83 1448.45 L274.28 1157.51 L274.73 1467.39 L276.13 1463.98 L277.99 1457.92 L279.13 1447.97 L279.58 1156.53 L280.03 1467.2 L281.3 1463.74 L283.02 1457.58 L284.05 1447.49 L284.5 1157.51 L284.95 1467 L286.42 1463.49 L288.35 1457.25 L289.55 1447.01 L290 1157.12 L290.45 1466.8 L291.85 1463.24 L293.71 1456.91 L294.85 1446.54 L295.3 1157.51 L295.75 1466.61 L297.16 1463 L299.02 1456.57 L300.16 1446.06 L300.61 1158.49 L301.06 1466.41 L302.53 1462.75 L304.46 1456.24 L305.66 1445.58 L306.11 1159.08 L306.56 1466.22 L308.31 1462.5 L310.51 1455.9 L311.95 1445.11 L312.4 1158.49 L312.85 1466.02 L314.33 1462.25 L316.25 1455.56 L317.45 1444.63 L317.9 1159.48 L318.35 1465.82 L319.96 1462.01 L322.03 1455.23 L323.35 1444.15 L323.8 1162.42 L324.25 1465.63 L325.72 1461.76 L327.65 1454.89 L328.85 1443.67 L329.3 1159.48 L329.75 1465.43 L331.5 1461.51 L333.7 1454.55 L335.14 1443.2 L335.59 1161.44 L336.04 1465.23 L337.51 1461.27 L339.44 1454.21 L340.64 1442.72 L341.09 1162.42 L341.54 1465.04 L343.15 1461.02 L345.22 1453.88 L346.53 1442.24 L346.98 1160.46 L347.43 1464.84 L349.05 1460.77 L351.11 1453.54 L352.43 1441.76 L352.88 1161.44 L353.33 1464.64 L355.08 1460.53 L357.28 1453.2 L358.72 1441.29 L359.17 1162.42 L359.62 1464.45 L361.23 1460.28 L363.29 1452.87 L364.61 1440.81 L365.06 1163.41 L365.51 1464.25 L367.26 1460.03 L369.46 1452.53 L370.9 1440.33 L371.35 1161.44 L371.8 1464.05 L373.62 1459.78 L375.89 1452.19 L377.38 1439.86 L377.83 1162.42 L378.28 1463.86 L380.1 1459.54 L382.37 1451.86 L383.87 1439.38 L384.32 1162.42 L384.77 1463.66 L386.66 1459.29 L389 1451.52 L390.55 1438.9 L391 1163.41 L391.45 1463.46 L393.75 1459.04 L396.5 1451.18 L398.41 1438.42 L398.86 1161.44 L399.31 1463.27 L401.47 1458.8 L404.09 1450.85 L405.88 1437.95 L406.33 1161.44 L406.78 1463.07 L408.73 1458.55 L411.14 1450.51 L412.75 1437.47 L413.2 1163.41 L413.65 1462.87 L415.61 1458.3 L418.02 1450.17 L419.63 1436.99 L420.08 1162.42 L420.53 1462.68 L422.35 1458.05 L424.62 1449.84 L426.12 1436.52 L426.57 1161.44 L427.02 1462.48 L428.91 1457.81 L431.24 1449.5 L432.8 1436.04 L433.25 1162.42 L433.7 1462.29 L435.38 1457.56 L437.51 1449.16 L438.89 1435.56 L439.34 1162.42 L439.9 1480 L441 1505 L443.5 1517.5 L446.5 1520.5 L451 1518.5 L458 1513 L468 1510 L480 1509 L541.8 1508.6" fill="none" stroke="#ea2f35" stroke-width="1.45" stroke-linejoin="round" stroke-linecap="round"/>
<line x1="36.3" y1="1501" x2="36.3" y2="1507" stroke="#ea2f35" stroke-width="1"/>
<line x1="40.8" y1="1504" x2="40.8" y2="1507.5" stroke="#ea2f35" stroke-width="1"/>
<line x1="455.8" y1="1508" x2="455.8" y2="1513" stroke="#ea2f35" stroke-width="1"/>
<rect x="356.6" y="1494.6" width="1" height="1" fill="#555"/>
<path d="M600.7 1341.2 L600.7 1400.8 L702 1400.8" fill="none" stroke="#000" stroke-width="1.3"/>
<text x="503.4" y="1373.7" font-size="30.5" textLength="88.5" lengthAdjust="spacingAndGlyphs">20 mV</text>
<text x="603" y="1430.1" font-size="30.5" textLength="101.5" lengthAdjust="spacingAndGlyphs">500 ms</text>
<text x="601.5" y="1487.7" font-size="35.5" fill="#ea2f35" textLength="111.5" lengthAdjust="spacingAndGlyphs">200 pA</text>
<text x="603" y="1519.8" font-size="35.5" fill="#2d3a96" textLength="110" lengthAdjust="spacingAndGlyphs">100 pA</text>
<text x="593.5" y="1551.5" font-size="35.5" textLength="123.5" lengthAdjust="spacingAndGlyphs">-100 pA</text>
<text x="859.5" y="1129.5" font-size="37" font-weight="bold">j</text>
<rect x="987.3" y="1153.8" width="412" height="342.4" fill="#fff" stroke="#1a1a1a" stroke-width="1.7"/>
<line x1="987.1" y1="1196.1" x2="992.5" y2="1196.1" stroke="#1a1a1a" stroke-width="1.5"/>
<line x1="987.1" y1="1281.4" x2="992.5" y2="1281.4" stroke="#1a1a1a" stroke-width="1.5"/>
<line x1="987.1" y1="1366.8" x2="992.5" y2="1366.8" stroke="#1a1a1a" stroke-width="1.5"/>
<line x1="987.1" y1="1452.1" x2="992.5" y2="1452.1" stroke="#1a1a1a" stroke-width="1.5"/>
<line x1="1047.8" y1="1495.3" x2="1047.8" y2="1490" stroke="#1a1a1a" stroke-width="1.5"/>
<line x1="1183.9" y1="1495.3" x2="1183.9" y2="1490" stroke="#1a1a1a" stroke-width="1.5"/>
<line x1="1320.1" y1="1495.3" x2="1320.1" y2="1490" stroke="#1a1a1a" stroke-width="1.5"/>
<text x="980.3" y="1207.1" font-size="30.8" text-anchor="end">-20</text>
<text x="980.3" y="1292.4" font-size="30.8" text-anchor="end">-40</text>
<text x="980.3" y="1377.8" font-size="30.8" text-anchor="end">-60</text>
<text x="980.3" y="1463.1" font-size="30.8" text-anchor="end">-80</text>
<text x="1047.8" y="1525.2" font-size="32.7" text-anchor="middle">0</text>
<text x="1183.9" y="1525.2" font-size="32.7" text-anchor="middle">400</text>
<text x="1320.1" y="1525.2" font-size="32.7" text-anchor="middle">800</text>
<text x="1167.8" y="1564.3" font-size="34" text-anchor="middle">current [pA]</text>
<text x="924.1" y="1436.2" font-size="37.5" transform="rotate(-90 924.1 1436.2)" textLength="212.2" lengthAdjust="spacingAndGlyphs">Voltage [mV]</text>
<text x="1004.5" y="1193.5" font-size="35" textLength="229.5" lengthAdjust="spacingAndGlyphs">SCLC allograft</text>
<text x="1004.5" y="1228.7" font-size="35" fill="#2d3a96" textLength="104.5" lengthAdjust="spacingAndGlyphs">control</text>
<line x1="1013.7" y1="1460.46" x2="1013.7" y2="1467.73" stroke="#000" stroke-width="1.7"/>
<line x1="1011.2" y1="1460.46" x2="1016.2" y2="1460.46" stroke="#000" stroke-width="1.7"/>
<line x1="1011.2" y1="1467.73" x2="1016.2" y2="1467.73" stroke="#000" stroke-width="1.7"/>
<line x1="1030.73" y1="1439.76" x2="1030.73" y2="1444.85" stroke="#000" stroke-width="1.7"/>
<line x1="1028.23" y1="1439.76" x2="1033.23" y2="1439.76" stroke="#000" stroke-width="1.7"/>
<line x1="1028.23" y1="1444.85" x2="1033.23" y2="1444.85" stroke="#000" stroke-width="1.7"/>
<line x1="1047.75" y1="1412.52" x2="1047.75" y2="1416.15" stroke="#000" stroke-width="1.7"/>
<line x1="1045.25" y1="1412.52" x2="1050.25" y2="1412.52" stroke="#000" stroke-width="1.7"/>
<line x1="1045.25" y1="1416.15" x2="1050.25" y2="1416.15" stroke="#000" stroke-width="1.7"/>
<line x1="1064.78" y1="1379.83" x2="1064.78" y2="1383.47" stroke="#000" stroke-width="1.7"/>
<line x1="1062.28" y1="1379.83" x2="1067.28" y2="1379.83" stroke="#000" stroke-width="1.7"/>
<line x1="1062.28" y1="1383.47" x2="1067.28" y2="1383.47" stroke="#000" stroke-width="1.7"/>
<line x1="1081.8" y1="1349.69" x2="1081.8" y2="1354.77" stroke="#000" stroke-width="1.7"/>
<line x1="1079.3" y1="1349.69" x2="1084.3" y2="1349.69" stroke="#000" stroke-width="1.7"/>
<line x1="1079.3" y1="1354.77" x2="1084.3" y2="1354.77" stroke="#000" stroke-width="1.7"/>
<line x1="1098.83" y1="1325.35" x2="1098.83" y2="1330.44" stroke="#000" stroke-width="1.7"/>
<line x1="1096.33" y1="1325.35" x2="1101.33" y2="1325.35" stroke="#000" stroke-width="1.7"/>
<line x1="1096.33" y1="1330.44" x2="1101.33" y2="1330.44" stroke="#000" stroke-width="1.7"/>
<line x1="1115.85" y1="1309.01" x2="1115.85" y2="1314.09" stroke="#000" stroke-width="1.7"/>
<line x1="1113.35" y1="1309.01" x2="1118.35" y2="1309.01" stroke="#000" stroke-width="1.7"/>
<line x1="1113.35" y1="1314.09" x2="1118.35" y2="1314.09" stroke="#000" stroke-width="1.7"/>
<line x1="1132.88" y1="1295.93" x2="1132.88" y2="1301.75" stroke="#000" stroke-width="1.7"/>
<line x1="1130.38" y1="1295.93" x2="1135.38" y2="1295.93" stroke="#000" stroke-width="1.7"/>
<line x1="1130.38" y1="1301.75" x2="1135.38" y2="1301.75" stroke="#000" stroke-width="1.7"/>
<line x1="1149.9" y1="1281.04" x2="1149.9" y2="1287.58" stroke="#000" stroke-width="1.7"/>
<line x1="1147.4" y1="1281.04" x2="1152.4" y2="1281.04" stroke="#000" stroke-width="1.7"/>
<line x1="1147.4" y1="1287.58" x2="1152.4" y2="1287.58" stroke="#000" stroke-width="1.7"/>
<line x1="1166.93" y1="1273.05" x2="1166.93" y2="1278.86" stroke="#000" stroke-width="1.7"/>
<line x1="1164.43" y1="1273.05" x2="1169.43" y2="1273.05" stroke="#000" stroke-width="1.7"/>
<line x1="1164.43" y1="1278.86" x2="1169.43" y2="1278.86" stroke="#000" stroke-width="1.7"/>
<line x1="1183.95" y1="1265.06" x2="1183.95" y2="1270.87" stroke="#000" stroke-width="1.7"/>
<line x1="1181.45" y1="1265.06" x2="1186.45" y2="1265.06" stroke="#000" stroke-width="1.7"/>
<line x1="1181.45" y1="1270.87" x2="1186.45" y2="1270.87" stroke="#000" stroke-width="1.7"/>
<line x1="1200.98" y1="1254.17" x2="1200.98" y2="1261.43" stroke="#000" stroke-width="1.7"/>
<line x1="1198.48" y1="1254.17" x2="1203.48" y2="1254.17" stroke="#000" stroke-width="1.7"/>
<line x1="1198.48" y1="1261.43" x2="1203.48" y2="1261.43" stroke="#000" stroke-width="1.7"/>
<line x1="1218" y1="1242.54" x2="1218" y2="1249.81" stroke="#000" stroke-width="1.7"/>
<line x1="1215.5" y1="1242.54" x2="1220.5" y2="1242.54" stroke="#000" stroke-width="1.7"/>
<line x1="1215.5" y1="1249.81" x2="1220.5" y2="1249.81" stroke="#000" stroke-width="1.7"/>
<line x1="1235.03" y1="1237.82" x2="1235.03" y2="1245.81" stroke="#000" stroke-width="1.7"/>
<line x1="1232.53" y1="1237.82" x2="1237.53" y2="1237.82" stroke="#000" stroke-width="1.7"/>
<line x1="1232.53" y1="1245.81" x2="1237.53" y2="1245.81" stroke="#000" stroke-width="1.7"/>
<line x1="1252.05" y1="1228.02" x2="1252.05" y2="1236.73" stroke="#000" stroke-width="1.7"/>
<line x1="1249.55" y1="1228.02" x2="1254.55" y2="1228.02" stroke="#000" stroke-width="1.7"/>
<line x1="1249.55" y1="1236.73" x2="1254.55" y2="1236.73" stroke="#000" stroke-width="1.7"/>
<line x1="1269.08" y1="1220.03" x2="1269.08" y2="1228.74" stroke="#000" stroke-width="1.7"/>
<line x1="1266.58" y1="1220.03" x2="1271.58" y2="1220.03" stroke="#000" stroke-width="1.7"/>
<line x1="1266.58" y1="1228.74" x2="1271.58" y2="1228.74" stroke="#000" stroke-width="1.7"/>
<line x1="1286.1" y1="1214.94" x2="1286.1" y2="1225.11" stroke="#000" stroke-width="1.7"/>
<line x1="1283.6" y1="1214.94" x2="1288.6" y2="1214.94" stroke="#000" stroke-width="1.7"/>
<line x1="1283.6" y1="1225.11" x2="1288.6" y2="1225.11" stroke="#000" stroke-width="1.7"/>
<line x1="1303.13" y1="1213.49" x2="1303.13" y2="1220.75" stroke="#000" stroke-width="1.7"/>
<line x1="1300.63" y1="1213.49" x2="1305.63" y2="1213.49" stroke="#000" stroke-width="1.7"/>
<line x1="1300.63" y1="1220.75" x2="1305.63" y2="1220.75" stroke="#000" stroke-width="1.7"/>
<line x1="1320.15" y1="1201.87" x2="1320.15" y2="1212.04" stroke="#000" stroke-width="1.7"/>
<line x1="1317.65" y1="1201.87" x2="1322.65" y2="1201.87" stroke="#000" stroke-width="1.7"/>
<line x1="1317.65" y1="1212.04" x2="1322.65" y2="1212.04" stroke="#000" stroke-width="1.7"/>
<line x1="1337.18" y1="1200.41" x2="1337.18" y2="1210.58" stroke="#000" stroke-width="1.7"/>
<line x1="1334.68" y1="1200.41" x2="1339.68" y2="1200.41" stroke="#000" stroke-width="1.7"/>
<line x1="1334.68" y1="1210.58" x2="1339.68" y2="1210.58" stroke="#000" stroke-width="1.7"/>
<line x1="1354.2" y1="1196.78" x2="1354.2" y2="1206.95" stroke="#000" stroke-width="1.7"/>
<line x1="1351.7" y1="1196.78" x2="1356.7" y2="1196.78" stroke="#000" stroke-width="1.7"/>
<line x1="1351.7" y1="1206.95" x2="1356.7" y2="1206.95" stroke="#000" stroke-width="1.7"/>
<line x1="1371.23" y1="1190.97" x2="1371.23" y2="1201.14" stroke="#000" stroke-width="1.7"/>
<line x1="1368.73" y1="1190.97" x2="1373.73" y2="1190.97" stroke="#000" stroke-width="1.7"/>
<line x1="1368.73" y1="1201.14" x2="1373.73" y2="1201.14" stroke="#000" stroke-width="1.7"/>
<line x1="1388.25" y1="1188.43" x2="1388.25" y2="1197.14" stroke="#000" stroke-width="1.7"/>
<line x1="1385.75" y1="1188.43" x2="1390.75" y2="1188.43" stroke="#000" stroke-width="1.7"/>
<line x1="1385.75" y1="1197.14" x2="1390.75" y2="1197.14" stroke="#000" stroke-width="1.7"/>
<path d="M1013.7 1464.1 L1030.73 1442.3 L1047.75 1414.34 L1064.78 1381.65 L1081.8 1352.23 L1098.83 1327.9 L1115.85 1311.55 L1132.88 1298.84 L1149.9 1284.31 L1166.93 1275.96 L1183.95 1267.97 L1200.98 1257.8 L1218 1246.18 L1235.03 1241.82 L1252.05 1232.37 L1269.08 1224.38 L1286.1 1220.03 L1303.13 1217.12 L1320.15 1206.95 L1337.18 1205.5 L1354.2 1201.87 L1371.23 1196.05 L1388.25 1192.79" fill="none" stroke="#000" stroke-width="2.1" stroke-linejoin="round"/>
<line x1="1013.7" y1="1457.92" x2="1013.7" y2="1466.64" stroke="#3b55a5" stroke-width="1.7"/>
<line x1="1011.2" y1="1457.92" x2="1016.2" y2="1457.92" stroke="#3b55a5" stroke-width="1.7"/>
<line x1="1011.2" y1="1466.64" x2="1016.2" y2="1466.64" stroke="#3b55a5" stroke-width="1.7"/>
<line x1="1030.73" y1="1439.4" x2="1030.73" y2="1445.21" stroke="#3b55a5" stroke-width="1.7"/>
<line x1="1028.23" y1="1439.4" x2="1033.23" y2="1439.4" stroke="#3b55a5" stroke-width="1.7"/>
<line x1="1028.23" y1="1445.21" x2="1033.23" y2="1445.21" stroke="#3b55a5" stroke-width="1.7"/>
<line x1="1047.75" y1="1412.52" x2="1047.75" y2="1416.15" stroke="#3b55a5" stroke-width="1.7"/>
<line x1="1045.25" y1="1412.52" x2="1050.25" y2="1412.52" stroke="#3b55a5" stroke-width="1.7"/>
<line x1="1045.25" y1="1416.15" x2="1050.25" y2="1416.15" stroke="#3b55a5" stroke-width="1.7"/>
<line x1="1064.78" y1="1380.2" x2="1064.78" y2="1384.56" stroke="#3b55a5" stroke-width="1.7"/>
<line x1="1062.28" y1="1380.2" x2="1067.28" y2="1380.2" stroke="#3b55a5" stroke-width="1.7"/>
<line x1="1062.28" y1="1384.56" x2="1067.28" y2="1384.56" stroke="#3b55a5" stroke-width="1.7"/>
<line x1="1081.8" y1="1354.05" x2="1081.8" y2="1359.86" stroke="#3b55a5" stroke-width="1.7"/>
<line x1="1079.3" y1="1354.05" x2="1084.3" y2="1354.05" stroke="#3b55a5" stroke-width="1.7"/>
<line x1="1079.3" y1="1359.86" x2="1084.3" y2="1359.86" stroke="#3b55a5" stroke-width="1.7"/>
<line x1="1098.83" y1="1332.25" x2="1098.83" y2="1338.07" stroke="#3b55a5" stroke-width="1.7"/>
<line x1="1096.33" y1="1332.25" x2="1101.33" y2="1332.25" stroke="#3b55a5" stroke-width="1.7"/>
<line x1="1096.33" y1="1338.07" x2="1101.33" y2="1338.07" stroke="#3b55a5" stroke-width="1.7"/>
<line x1="1115.85" y1="1314.46" x2="1115.85" y2="1321.72" stroke="#3b55a5" stroke-width="1.7"/>
<line x1="1113.35" y1="1314.46" x2="1118.35" y2="1314.46" stroke="#3b55a5" stroke-width="1.7"/>
<line x1="1113.35" y1="1321.72" x2="1118.35" y2="1321.72" stroke="#3b55a5" stroke-width="1.7"/>
<line x1="1132.88" y1="1302.47" x2="1132.88" y2="1309.74" stroke="#3b55a5" stroke-width="1.7"/>
<line x1="1130.38" y1="1302.47" x2="1135.38" y2="1302.47" stroke="#3b55a5" stroke-width="1.7"/>
<line x1="1130.38" y1="1309.74" x2="1135.38" y2="1309.74" stroke="#3b55a5" stroke-width="1.7"/>
<line x1="1149.9" y1="1288.31" x2="1149.9" y2="1297.02" stroke="#3b55a5" stroke-width="1.7"/>
<line x1="1147.4" y1="1288.31" x2="1152.4" y2="1288.31" stroke="#3b55a5" stroke-width="1.7"/>
<line x1="1147.4" y1="1297.02" x2="1152.4" y2="1297.02" stroke="#3b55a5" stroke-width="1.7"/>
<line x1="1166.93" y1="1276.32" x2="1166.93" y2="1285.04" stroke="#3b55a5" stroke-width="1.7"/>
<line x1="1164.43" y1="1276.32" x2="1169.43" y2="1276.32" stroke="#3b55a5" stroke-width="1.7"/>
<line x1="1164.43" y1="1285.04" x2="1169.43" y2="1285.04" stroke="#3b55a5" stroke-width="1.7"/>
<line x1="1183.95" y1="1267.97" x2="1183.95" y2="1275.23" stroke="#3b55a5" stroke-width="1.7"/>
<line x1="1181.45" y1="1267.97" x2="1186.45" y2="1267.97" stroke="#3b55a5" stroke-width="1.7"/>
<line x1="1181.45" y1="1275.23" x2="1186.45" y2="1275.23" stroke="#3b55a5" stroke-width="1.7"/>
<line x1="1200.98" y1="1257.07" x2="1200.98" y2="1265.79" stroke="#3b55a5" stroke-width="1.7"/>
<line x1="1198.48" y1="1257.07" x2="1203.48" y2="1257.07" stroke="#3b55a5" stroke-width="1.7"/>
<line x1="1198.48" y1="1265.79" x2="1203.48" y2="1265.79" stroke="#3b55a5" stroke-width="1.7"/>
<line x1="1218" y1="1246.54" x2="1218" y2="1256.71" stroke="#3b55a5" stroke-width="1.7"/>
<line x1="1215.5" y1="1246.54" x2="1220.5" y2="1246.54" stroke="#3b55a5" stroke-width="1.7"/>
<line x1="1215.5" y1="1256.71" x2="1220.5" y2="1256.71" stroke="#3b55a5" stroke-width="1.7"/>
<line x1="1235.03" y1="1241.82" x2="1235.03" y2="1250.53" stroke="#3b55a5" stroke-width="1.7"/>
<line x1="1232.53" y1="1241.82" x2="1237.53" y2="1241.82" stroke="#3b55a5" stroke-width="1.7"/>
<line x1="1232.53" y1="1250.53" x2="1237.53" y2="1250.53" stroke="#3b55a5" stroke-width="1.7"/>
<line x1="1252.05" y1="1232.01" x2="1252.05" y2="1242.18" stroke="#3b55a5" stroke-width="1.7"/>
<line x1="1249.55" y1="1232.01" x2="1254.55" y2="1232.01" stroke="#3b55a5" stroke-width="1.7"/>
<line x1="1249.55" y1="1242.18" x2="1254.55" y2="1242.18" stroke="#3b55a5" stroke-width="1.7"/>
<line x1="1269.08" y1="1225.84" x2="1269.08" y2="1237.46" stroke="#3b55a5" stroke-width="1.7"/>
<line x1="1266.58" y1="1225.84" x2="1271.58" y2="1225.84" stroke="#3b55a5" stroke-width="1.7"/>
<line x1="1266.58" y1="1237.46" x2="1271.58" y2="1237.46" stroke="#3b55a5" stroke-width="1.7"/>
<line x1="1286.1" y1="1221.48" x2="1286.1" y2="1233.1" stroke="#3b55a5" stroke-width="1.7"/>
<line x1="1283.6" y1="1221.48" x2="1288.6" y2="1221.48" stroke="#3b55a5" stroke-width="1.7"/>
<line x1="1283.6" y1="1233.1" x2="1288.6" y2="1233.1" stroke="#3b55a5" stroke-width="1.7"/>
<line x1="1303.13" y1="1214.58" x2="1303.13" y2="1223.29" stroke="#3b55a5" stroke-width="1.7"/>
<line x1="1300.63" y1="1214.58" x2="1305.63" y2="1214.58" stroke="#3b55a5" stroke-width="1.7"/>
<line x1="1300.63" y1="1223.29" x2="1305.63" y2="1223.29" stroke="#3b55a5" stroke-width="1.7"/>
<line x1="1320.15" y1="1206.95" x2="1320.15" y2="1220.03" stroke="#3b55a5" stroke-width="1.7"/>
<line x1="1317.65" y1="1206.95" x2="1322.65" y2="1206.95" stroke="#3b55a5" stroke-width="1.7"/>
<line x1="1317.65" y1="1220.03" x2="1322.65" y2="1220.03" stroke="#3b55a5" stroke-width="1.7"/>
<line x1="1337.18" y1="1208.04" x2="1337.18" y2="1222.57" stroke="#3b55a5" stroke-width="1.7"/>
<line x1="1334.68" y1="1208.04" x2="1339.68" y2="1208.04" stroke="#3b55a5" stroke-width="1.7"/>
<line x1="1334.68" y1="1222.57" x2="1339.68" y2="1222.57" stroke="#3b55a5" stroke-width="1.7"/>
<line x1="1354.2" y1="1201.87" x2="1354.2" y2="1216.39" stroke="#3b55a5" stroke-width="1.7"/>
<line x1="1351.7" y1="1201.87" x2="1356.7" y2="1201.87" stroke="#3b55a5" stroke-width="1.7"/>
<line x1="1351.7" y1="1216.39" x2="1356.7" y2="1216.39" stroke="#3b55a5" stroke-width="1.7"/>
<line x1="1371.23" y1="1191.33" x2="1371.23" y2="1204.41" stroke="#3b55a5" stroke-width="1.7"/>
<line x1="1368.73" y1="1191.33" x2="1373.73" y2="1191.33" stroke="#3b55a5" stroke-width="1.7"/>
<line x1="1368.73" y1="1204.41" x2="1373.73" y2="1204.41" stroke="#3b55a5" stroke-width="1.7"/>
<line x1="1388.25" y1="1185.52" x2="1388.25" y2="1201.5" stroke="#3b55a5" stroke-width="1.7"/>
<line x1="1385.75" y1="1185.52" x2="1390.75" y2="1185.52" stroke="#3b55a5" stroke-width="1.7"/>
<line x1="1385.75" y1="1201.5" x2="1390.75" y2="1201.5" stroke="#3b55a5" stroke-width="1.7"/>
<path d="M1013.7 1462.28 L1030.73 1442.3 L1047.75 1414.34 L1064.78 1382.38 L1081.8 1356.95 L1098.83 1335.16 L1115.85 1318.09 L1132.88 1306.1 L1149.9 1292.67 L1166.93 1280.68 L1183.95 1271.6 L1200.98 1261.43 L1218 1251.62 L1235.03 1246.18 L1252.05 1237.1 L1269.08 1231.65 L1286.1 1227.29 L1303.13 1218.94 L1320.15 1213.49 L1337.18 1215.3 L1354.2 1209.13 L1371.23 1197.87 L1388.25 1193.51" fill="none" stroke="#3b55a5" stroke-width="2.1" stroke-linejoin="round"/>
<text x="1444.7" y="1126.3" font-size="37" font-weight="bold">k</text>
<rect x="1580.5" y="1153.8" width="408.2" height="342.4" fill="#fff" stroke="#1a1a1a" stroke-width="1.7"/>
<line x1="1579.8" y1="1202.6" x2="1585.2" y2="1202.6" stroke="#1a1a1a" stroke-width="1.5"/>
<line x1="1579.8" y1="1299.9" x2="1585.2" y2="1299.9" stroke="#1a1a1a" stroke-width="1.5"/>
<line x1="1579.8" y1="1397.6" x2="1585.2" y2="1397.6" stroke="#1a1a1a" stroke-width="1.5"/>
<line x1="1640.8" y1="1495" x2="1640.8" y2="1489.7" stroke="#1a1a1a" stroke-width="1.5"/>
<line x1="1775.6" y1="1495" x2="1775.6" y2="1489.7" stroke="#1a1a1a" stroke-width="1.5"/>
<line x1="1910.7" y1="1495" x2="1910.7" y2="1489.7" stroke="#1a1a1a" stroke-width="1.5"/>
<text x="1573.3" y="1213.6" font-size="31.2" text-anchor="end">60</text>
<text x="1573.3" y="1310.9" font-size="31.2" text-anchor="end">40</text>
<text x="1573.3" y="1408.6" font-size="31.2" text-anchor="end">20</text>
<text x="1580.5" y="1500.5" font-size="31.2" text-anchor="end" fill="#4d4d4d">0</text>
<text x="1640.8" y="1525.2" font-size="32.7" text-anchor="middle">0</text>
<text x="1775.6" y="1525.2" font-size="32.7" text-anchor="middle">400</text>
<text x="1910.7" y="1525.2" font-size="32.7" text-anchor="middle">800</text>
<text x="1800.8" y="1564.3" font-size="34" text-anchor="middle">current [pA]</text>
<text x="1524.5" y="1425.1" font-size="37.5" transform="rotate(-90 1524.5 1425.1)" textLength="188.4" lengthAdjust="spacingAndGlyphs">AP number</text>
<text x="1597.5" y="1195.3" font-size="35" textLength="223.5" lengthAdjust="spacingAndGlyphs">SCLC allograft</text>
<text x="1597.5" y="1229.8" font-size="35" fill="#2d3a96" textLength="102.5" lengthAdjust="spacingAndGlyphs">control</text>
<line x1="1674.49" y1="1483.76" x2="1674.49" y2="1473.53" stroke="#000" stroke-width="1.7"/>
<line x1="1671.99" y1="1483.76" x2="1676.99" y2="1483.76" stroke="#000" stroke-width="1.7"/>
<line x1="1671.99" y1="1473.53" x2="1676.99" y2="1473.53" stroke="#000" stroke-width="1.7"/>
<line x1="1691.34" y1="1453.55" x2="1691.34" y2="1438.93" stroke="#000" stroke-width="1.7"/>
<line x1="1688.84" y1="1453.55" x2="1693.84" y2="1453.55" stroke="#000" stroke-width="1.7"/>
<line x1="1688.84" y1="1438.93" x2="1693.84" y2="1438.93" stroke="#000" stroke-width="1.7"/>
<line x1="1708.18" y1="1421.87" x2="1708.18" y2="1402.38" stroke="#000" stroke-width="1.7"/>
<line x1="1705.68" y1="1421.87" x2="1710.68" y2="1421.87" stroke="#000" stroke-width="1.7"/>
<line x1="1705.68" y1="1402.38" x2="1710.68" y2="1402.38" stroke="#000" stroke-width="1.7"/>
<line x1="1725.02" y1="1392.63" x2="1725.02" y2="1370.71" stroke="#000" stroke-width="1.7"/>
<line x1="1722.52" y1="1392.63" x2="1727.52" y2="1392.63" stroke="#000" stroke-width="1.7"/>
<line x1="1722.52" y1="1370.71" x2="1727.52" y2="1370.71" stroke="#000" stroke-width="1.7"/>
<line x1="1741.87" y1="1370.71" x2="1741.87" y2="1346.34" stroke="#000" stroke-width="1.7"/>
<line x1="1739.37" y1="1370.71" x2="1744.37" y2="1370.71" stroke="#000" stroke-width="1.7"/>
<line x1="1739.37" y1="1346.34" x2="1744.37" y2="1346.34" stroke="#000" stroke-width="1.7"/>
<line x1="1758.71" y1="1343.9" x2="1758.71" y2="1334.16" stroke="#000" stroke-width="1.7"/>
<line x1="1756.21" y1="1343.9" x2="1761.21" y2="1343.9" stroke="#000" stroke-width="1.7"/>
<line x1="1756.21" y1="1334.16" x2="1761.21" y2="1334.16" stroke="#000" stroke-width="1.7"/>
<line x1="1775.55" y1="1343.9" x2="1775.55" y2="1312.23" stroke="#000" stroke-width="1.7"/>
<line x1="1773.05" y1="1343.9" x2="1778.05" y2="1343.9" stroke="#000" stroke-width="1.7"/>
<line x1="1773.05" y1="1312.23" x2="1778.05" y2="1312.23" stroke="#000" stroke-width="1.7"/>
<line x1="1792.4" y1="1339.03" x2="1792.4" y2="1304.92" stroke="#000" stroke-width="1.7"/>
<line x1="1789.9" y1="1339.03" x2="1794.9" y2="1339.03" stroke="#000" stroke-width="1.7"/>
<line x1="1789.9" y1="1304.92" x2="1794.9" y2="1304.92" stroke="#000" stroke-width="1.7"/>
<line x1="1809.24" y1="1336.59" x2="1809.24" y2="1300.05" stroke="#000" stroke-width="1.7"/>
<line x1="1806.74" y1="1336.59" x2="1811.74" y2="1336.59" stroke="#000" stroke-width="1.7"/>
<line x1="1806.74" y1="1300.05" x2="1811.74" y2="1300.05" stroke="#000" stroke-width="1.7"/>
<line x1="1826.08" y1="1346.34" x2="1826.08" y2="1273.24" stroke="#000" stroke-width="1.7"/>
<line x1="1823.58" y1="1346.34" x2="1828.58" y2="1346.34" stroke="#000" stroke-width="1.7"/>
<line x1="1823.58" y1="1273.24" x2="1828.58" y2="1273.24" stroke="#000" stroke-width="1.7"/>
<line x1="1842.93" y1="1324.41" x2="1842.93" y2="1281.53" stroke="#000" stroke-width="1.7"/>
<line x1="1840.43" y1="1324.41" x2="1845.43" y2="1324.41" stroke="#000" stroke-width="1.7"/>
<line x1="1840.43" y1="1281.53" x2="1845.43" y2="1281.53" stroke="#000" stroke-width="1.7"/>
<line x1="1859.77" y1="1335.13" x2="1859.77" y2="1287.86" stroke="#000" stroke-width="1.7"/>
<line x1="1857.27" y1="1335.13" x2="1862.27" y2="1335.13" stroke="#000" stroke-width="1.7"/>
<line x1="1857.27" y1="1287.86" x2="1862.27" y2="1287.86" stroke="#000" stroke-width="1.7"/>
<line x1="1876.61" y1="1335.13" x2="1876.61" y2="1281.53" stroke="#000" stroke-width="1.7"/>
<line x1="1874.11" y1="1335.13" x2="1879.11" y2="1335.13" stroke="#000" stroke-width="1.7"/>
<line x1="1874.11" y1="1281.53" x2="1879.11" y2="1281.53" stroke="#000" stroke-width="1.7"/>
<line x1="1893.46" y1="1335.62" x2="1893.46" y2="1280.55" stroke="#000" stroke-width="1.7"/>
<line x1="1890.96" y1="1335.62" x2="1895.96" y2="1335.62" stroke="#000" stroke-width="1.7"/>
<line x1="1890.96" y1="1280.55" x2="1895.96" y2="1280.55" stroke="#000" stroke-width="1.7"/>
<line x1="1910.3" y1="1332.7" x2="1910.3" y2="1269.35" stroke="#000" stroke-width="1.7"/>
<line x1="1907.8" y1="1332.7" x2="1912.8" y2="1332.7" stroke="#000" stroke-width="1.7"/>
<line x1="1907.8" y1="1269.35" x2="1912.8" y2="1269.35" stroke="#000" stroke-width="1.7"/>
<line x1="1927.14" y1="1346.34" x2="1927.14" y2="1261.06" stroke="#000" stroke-width="1.7"/>
<line x1="1924.64" y1="1346.34" x2="1929.64" y2="1346.34" stroke="#000" stroke-width="1.7"/>
<line x1="1924.64" y1="1261.06" x2="1929.64" y2="1261.06" stroke="#000" stroke-width="1.7"/>
<line x1="1943.99" y1="1350.24" x2="1943.99" y2="1261.06" stroke="#000" stroke-width="1.7"/>
<line x1="1941.49" y1="1350.24" x2="1946.49" y2="1350.24" stroke="#000" stroke-width="1.7"/>
<line x1="1941.49" y1="1261.06" x2="1946.49" y2="1261.06" stroke="#000" stroke-width="1.7"/>
<line x1="1960.83" y1="1382.89" x2="1960.83" y2="1287.86" stroke="#000" stroke-width="1.7"/>
<line x1="1958.33" y1="1382.89" x2="1963.33" y2="1382.89" stroke="#000" stroke-width="1.7"/>
<line x1="1958.33" y1="1287.86" x2="1963.33" y2="1287.86" stroke="#000" stroke-width="1.7"/>
<line x1="1977.68" y1="1385.32" x2="1977.68" y2="1298.58" stroke="#000" stroke-width="1.7"/>
<line x1="1975.18" y1="1385.32" x2="1980.18" y2="1385.32" stroke="#000" stroke-width="1.7"/>
<line x1="1975.18" y1="1298.58" x2="1980.18" y2="1298.58" stroke="#000" stroke-width="1.7"/>
<path d="M1607.12 1494.97 L1623.96 1494.97 L1640.81 1494.97 L1657.65 1493.02 L1674.49 1480.35 L1691.34 1446.24 L1708.18 1414.56 L1725.02 1382.89 L1741.87 1358.52 L1758.71 1342.44 L1775.55 1329.28 L1792.4 1321.97 L1809.24 1318.56 L1826.08 1309.79 L1842.93 1303.46 L1859.77 1311.25 L1876.61 1308.82 L1893.46 1308.33 L1910.3 1301.02 L1927.14 1303.94 L1943.99 1305.89 L1960.83 1335.13 L1977.68 1341.47" fill="none" stroke="#000" stroke-width="2.1" stroke-linejoin="round"/>
<line x1="1657.65" y1="1493.99" x2="1657.65" y2="1490.58" stroke="#3b55a5" stroke-width="1.7"/>
<line x1="1655.15" y1="1493.99" x2="1660.15" y2="1493.99" stroke="#3b55a5" stroke-width="1.7"/>
<line x1="1655.15" y1="1490.58" x2="1660.15" y2="1490.58" stroke="#3b55a5" stroke-width="1.7"/>
<line x1="1674.49" y1="1482.79" x2="1674.49" y2="1468.17" stroke="#3b55a5" stroke-width="1.7"/>
<line x1="1671.99" y1="1482.79" x2="1676.99" y2="1482.79" stroke="#3b55a5" stroke-width="1.7"/>
<line x1="1671.99" y1="1468.17" x2="1676.99" y2="1468.17" stroke="#3b55a5" stroke-width="1.7"/>
<line x1="1691.34" y1="1453.55" x2="1691.34" y2="1431.62" stroke="#3b55a5" stroke-width="1.7"/>
<line x1="1688.84" y1="1453.55" x2="1693.84" y2="1453.55" stroke="#3b55a5" stroke-width="1.7"/>
<line x1="1688.84" y1="1431.62" x2="1693.84" y2="1431.62" stroke="#3b55a5" stroke-width="1.7"/>
<line x1="1708.18" y1="1421.87" x2="1708.18" y2="1392.63" stroke="#3b55a5" stroke-width="1.7"/>
<line x1="1705.68" y1="1421.87" x2="1710.68" y2="1421.87" stroke="#3b55a5" stroke-width="1.7"/>
<line x1="1705.68" y1="1392.63" x2="1710.68" y2="1392.63" stroke="#3b55a5" stroke-width="1.7"/>
<line x1="1725.02" y1="1387.76" x2="1725.02" y2="1353.65" stroke="#3b55a5" stroke-width="1.7"/>
<line x1="1722.52" y1="1387.76" x2="1727.52" y2="1387.76" stroke="#3b55a5" stroke-width="1.7"/>
<line x1="1722.52" y1="1353.65" x2="1727.52" y2="1353.65" stroke="#3b55a5" stroke-width="1.7"/>
<line x1="1741.87" y1="1358.52" x2="1741.87" y2="1324.41" stroke="#3b55a5" stroke-width="1.7"/>
<line x1="1739.37" y1="1358.52" x2="1744.37" y2="1358.52" stroke="#3b55a5" stroke-width="1.7"/>
<line x1="1739.37" y1="1324.41" x2="1744.37" y2="1324.41" stroke="#3b55a5" stroke-width="1.7"/>
<line x1="1758.71" y1="1343.9" x2="1758.71" y2="1300.05" stroke="#3b55a5" stroke-width="1.7"/>
<line x1="1756.21" y1="1343.9" x2="1761.21" y2="1343.9" stroke="#3b55a5" stroke-width="1.7"/>
<line x1="1756.21" y1="1300.05" x2="1761.21" y2="1300.05" stroke="#3b55a5" stroke-width="1.7"/>
<line x1="1775.55" y1="1329.28" x2="1775.55" y2="1280.55" stroke="#3b55a5" stroke-width="1.7"/>
<line x1="1773.05" y1="1329.28" x2="1778.05" y2="1329.28" stroke="#3b55a5" stroke-width="1.7"/>
<line x1="1773.05" y1="1280.55" x2="1778.05" y2="1280.55" stroke="#3b55a5" stroke-width="1.7"/>
<line x1="1792.4" y1="1324.41" x2="1792.4" y2="1270.81" stroke="#3b55a5" stroke-width="1.7"/>
<line x1="1789.9" y1="1324.41" x2="1794.9" y2="1324.41" stroke="#3b55a5" stroke-width="1.7"/>
<line x1="1789.9" y1="1270.81" x2="1794.9" y2="1270.81" stroke="#3b55a5" stroke-width="1.7"/>
<line x1="1809.24" y1="1347.8" x2="1809.24" y2="1244.01" stroke="#3b55a5" stroke-width="1.7"/>
<line x1="1806.74" y1="1347.8" x2="1811.74" y2="1347.8" stroke="#3b55a5" stroke-width="1.7"/>
<line x1="1806.74" y1="1244.01" x2="1811.74" y2="1244.01" stroke="#3b55a5" stroke-width="1.7"/>
<line x1="1826.08" y1="1314.67" x2="1826.08" y2="1256.19" stroke="#3b55a5" stroke-width="1.7"/>
<line x1="1823.58" y1="1314.67" x2="1828.58" y2="1314.67" stroke="#3b55a5" stroke-width="1.7"/>
<line x1="1823.58" y1="1256.19" x2="1828.58" y2="1256.19" stroke="#3b55a5" stroke-width="1.7"/>
<line x1="1842.93" y1="1324.41" x2="1842.93" y2="1255.21" stroke="#3b55a5" stroke-width="1.7"/>
<line x1="1840.43" y1="1324.41" x2="1845.43" y2="1324.41" stroke="#3b55a5" stroke-width="1.7"/>
<line x1="1840.43" y1="1255.21" x2="1845.43" y2="1255.21" stroke="#3b55a5" stroke-width="1.7"/>
<line x1="1859.77" y1="1321.97" x2="1859.77" y2="1251.32" stroke="#3b55a5" stroke-width="1.7"/>
<line x1="1857.27" y1="1321.97" x2="1862.27" y2="1321.97" stroke="#3b55a5" stroke-width="1.7"/>
<line x1="1857.27" y1="1251.32" x2="1862.27" y2="1251.32" stroke="#3b55a5" stroke-width="1.7"/>
<line x1="1876.61" y1="1314.67" x2="1876.61" y2="1239.13" stroke="#3b55a5" stroke-width="1.7"/>
<line x1="1874.11" y1="1314.67" x2="1879.11" y2="1314.67" stroke="#3b55a5" stroke-width="1.7"/>
<line x1="1874.11" y1="1239.13" x2="1879.11" y2="1239.13" stroke="#3b55a5" stroke-width="1.7"/>
<line x1="1893.46" y1="1324.41" x2="1893.46" y2="1233.29" stroke="#3b55a5" stroke-width="1.7"/>
<line x1="1890.96" y1="1324.41" x2="1895.96" y2="1324.41" stroke="#3b55a5" stroke-width="1.7"/>
<line x1="1890.96" y1="1233.29" x2="1895.96" y2="1233.29" stroke="#3b55a5" stroke-width="1.7"/>
<line x1="1910.3" y1="1321.97" x2="1910.3" y2="1198.69" stroke="#3b55a5" stroke-width="1.7"/>
<line x1="1907.8" y1="1321.97" x2="1912.8" y2="1321.97" stroke="#3b55a5" stroke-width="1.7"/>
<line x1="1907.8" y1="1198.69" x2="1912.8" y2="1198.69" stroke="#3b55a5" stroke-width="1.7"/>
<line x1="1927.14" y1="1325.87" x2="1927.14" y2="1188.94" stroke="#3b55a5" stroke-width="1.7"/>
<line x1="1924.64" y1="1325.87" x2="1929.64" y2="1325.87" stroke="#3b55a5" stroke-width="1.7"/>
<line x1="1924.64" y1="1188.94" x2="1929.64" y2="1188.94" stroke="#3b55a5" stroke-width="1.7"/>
<line x1="1943.99" y1="1339.03" x2="1943.99" y2="1201.12" stroke="#3b55a5" stroke-width="1.7"/>
<line x1="1941.49" y1="1339.03" x2="1946.49" y2="1339.03" stroke="#3b55a5" stroke-width="1.7"/>
<line x1="1941.49" y1="1201.12" x2="1946.49" y2="1201.12" stroke="#3b55a5" stroke-width="1.7"/>
<line x1="1960.83" y1="1381.43" x2="1960.83" y2="1263.5" stroke="#3b55a5" stroke-width="1.7"/>
<line x1="1958.33" y1="1381.43" x2="1963.33" y2="1381.43" stroke="#3b55a5" stroke-width="1.7"/>
<line x1="1958.33" y1="1263.5" x2="1963.33" y2="1263.5" stroke="#3b55a5" stroke-width="1.7"/>
<line x1="1977.68" y1="1387.76" x2="1977.68" y2="1268.37" stroke="#3b55a5" stroke-width="1.7"/>
<line x1="1975.18" y1="1387.76" x2="1980.18" y2="1387.76" stroke="#3b55a5" stroke-width="1.7"/>
<line x1="1975.18" y1="1268.37" x2="1980.18" y2="1268.37" stroke="#3b55a5" stroke-width="1.7"/>
<path d="M1607.12 1494.97 L1623.96 1494.97 L1640.81 1494.97 L1657.65 1492.53 L1674.49 1477.91 L1691.34 1443.8 L1708.18 1409.69 L1725.02 1373.14 L1741.87 1343.9 L1758.71 1321.97 L1775.55 1304.92 L1792.4 1298.58 L1809.24 1296.15 L1826.08 1286.4 L1842.93 1289.33 L1859.77 1286.89 L1876.61 1277.14 L1893.46 1279.09 L1910.3 1260.09 L1927.14 1257.65 L1943.99 1270.81 L1960.83 1321.97 L1977.68 1328.31" fill="none" stroke="#3b55a5" stroke-width="2.1" stroke-linejoin="round"/>
<text x="3.5" y="1607" font-size="37" font-weight="bold">l</text>
<line x1="25.4" y1="1619.9" x2="1360.9" y2="1619.9" stroke="#0a0a0a" stroke-width="1.9"/>
<line x1="25.4" y1="1666.5" x2="1360.9" y2="1666.5" stroke="#0a0a0a" stroke-width="1.9"/>
<line x1="25.4" y1="1713.6" x2="1360.9" y2="1713.6" stroke="#0a0a0a" stroke-width="1.9"/>
<line x1="25.4" y1="1761" x2="1360.9" y2="1761" stroke="#0a0a0a" stroke-width="1.9"/>
<line x1="25.4" y1="1808.1" x2="1360.9" y2="1808.1" stroke="#0a0a0a" stroke-width="1.9"/>
<line x1="25.4" y1="1855.5" x2="1360.9" y2="1855.5" stroke="#0a0a0a" stroke-width="1.9"/>
<line x1="25.4" y1="1902.5" x2="1360.9" y2="1902.5" stroke="#0a0a0a" stroke-width="1.9"/>
<line x1="25.4" y1="1949.6" x2="1360.9" y2="1949.6" stroke="#0a0a0a" stroke-width="1.9"/>
<line x1="25.4" y1="1997" x2="1360.9" y2="1997" stroke="#0a0a0a" stroke-width="1.9"/>
<line x1="25.4" y1="2044.1" x2="1360.9" y2="2044.1" stroke="#0a0a0a" stroke-width="1.9"/>
<line x1="25.4" y1="2091.5" x2="1360.9" y2="2091.5" stroke="#0a0a0a" stroke-width="1.9"/>
<line x1="25.4" y1="2138.1" x2="1360.9" y2="2138.1" stroke="#0a0a0a" stroke-width="1.9"/>
<line x1="25.4" y1="2184.7" x2="1360.9" y2="2184.7" stroke="#0a0a0a" stroke-width="1.9"/>
<line x1="26.3" y1="1619.9" x2="26.3" y2="2184.7" stroke="#0a0a0a" stroke-width="1.9"/>
<line x1="738" y1="1619.9" x2="738" y2="2184.7" stroke="#0a0a0a" stroke-width="1.9"/>
<line x1="1060.5" y1="1619.9" x2="1060.5" y2="2184.7" stroke="#0a0a0a" stroke-width="1.9"/>
<line x1="1360" y1="1619.9" x2="1360" y2="2184.7" stroke="#0a0a0a" stroke-width="1.9"/>
<text x="42.4" y="1657.6" font-size="34" font-weight="bold" textLength="671" lengthAdjust="spacingAndGlyphs">Intrinsic Properties of Pyramidal Neurons</text>
<text x="902.03" y="1657.6" font-size="34" text-anchor="middle" font-weight="bold" xml:space="preserve">Tumor</text>
<text x="1213.26" y="1657.6" font-size="34" text-anchor="middle" font-weight="bold" xml:space="preserve">Control</text>
<text x="388.98" y="1704.7" font-size="34" text-anchor="middle" xml:space="preserve">AP peak Voltage (mV)</text>
<text x="385.59" y="1752.2" font-size="34" text-anchor="middle" xml:space="preserve">AP After hyperpolarization (mV)</text>
<text x="386.86" y="1799.2" font-size="34" text-anchor="middle" xml:space="preserve">AP threshold (mV)</text>
<text x="388.35" y="1845.8" font-size="34" text-anchor="middle" xml:space="preserve">AP Width at 0 mV (ms)</text>
<text x="384.11" y="1893.3" font-size="34" text-anchor="middle" xml:space="preserve">AP Half Width (ms)</text>
<text x="387.29" y="1940.7" font-size="34" text-anchor="middle" xml:space="preserve">AP max dVdT (mV/ms)</text>
<text x="395.13" y="1987.3" font-size="34" text-anchor="middle" xml:space="preserve">Resting potential (mode; mV)</text>
<text x="391.74" y="2034.4" font-size="34" text-anchor="middle" xml:space="preserve">Resting potential (mean; mV)</text>
<text x="396.19" y="2081.8" font-size="34" text-anchor="middle" xml:space="preserve">Resting potential (median; mV)</text>
<text x="404.24" y="2129.3" font-size="34" text-anchor="middle" xml:space="preserve">Resting potential standard deviation (mV)</text>
<text x="372.88" y="2175.9" font-size="34" text-anchor="middle" xml:space="preserve">Input resistance (MOhm)</text>
<text x="915.81" y="1704.7" font-size="34" text-anchor="middle" xml:space="preserve">45.20 ± 10.65</text>
<text x="907.12" y="1752.2" font-size="34" text-anchor="middle" xml:space="preserve">-56.90 ±  5.75</text>
<text x="911.36" y="1799.2" font-size="34" text-anchor="middle" xml:space="preserve">-43.45 ±   5.80</text>
<text x="919.83" y="1845.8" font-size="34" text-anchor="middle" xml:space="preserve">0.61 ±   0.16</text>
<text x="920.25" y="1893.3" font-size="34" text-anchor="middle" xml:space="preserve">0.60 ± 0.13</text>
<text x="912.42" y="1940.7" font-size="34" text-anchor="middle" xml:space="preserve">356.12 ±60.55</text>
<text x="910.93" y="1987.3" font-size="34" text-anchor="middle" xml:space="preserve">-71.14 ±  2.63</text>
<text x="910.93" y="2034.4" font-size="34" text-anchor="middle" xml:space="preserve">-71.07 ±  2.68</text>
<text x="910.93" y="2081.8" font-size="34" text-anchor="middle" xml:space="preserve">-71.15 ±  2.62</text>
<text x="911.99" y="2129.3" font-size="34" text-anchor="middle" xml:space="preserve">0.54  ± 0.815</text>
<text x="908.81" y="2175.9" font-size="34" text-anchor="middle" xml:space="preserve">263.53 ±102.44</text>
<text x="1227.03" y="1704.7" font-size="34" text-anchor="middle" xml:space="preserve">46.20 ± 10.39</text>
<text x="1217.71" y="1752.2" font-size="34" text-anchor="middle" xml:space="preserve">-57.64 ±  6.40</text>
<text x="1222.37" y="1799.2" font-size="34" text-anchor="middle" xml:space="preserve">-44.92 ±   5.35</text>
<text x="1230.42" y="1845.8" font-size="34" text-anchor="middle" xml:space="preserve">0.61  ±  0.16</text>
<text x="1230.42" y="1893.3" font-size="34" text-anchor="middle" xml:space="preserve">0.60  ±  0.13</text>
<text x="1219.19" y="1940.7" font-size="34" text-anchor="middle" xml:space="preserve">369.92 ± 59.09</text>
<text x="1221.95" y="1987.3" font-size="34" text-anchor="middle" xml:space="preserve">-70.78 ±  3.27</text>
<text x="1221.95" y="2034.4" font-size="34" text-anchor="middle" xml:space="preserve">-70.80 ±  3.30</text>
<text x="1221.95" y="2081.8" font-size="34" text-anchor="middle" xml:space="preserve">-70.87 ±  3.27</text>
<text x="1230.85" y="2129.3" font-size="34" text-anchor="middle" xml:space="preserve">0.49±  0.36</text>
<text x="1224.49" y="2175.9" font-size="34" text-anchor="middle" xml:space="preserve">254.73 ±116.66</text>
<text x="1404" y="1607.6" font-size="37" font-weight="bold">m</text>
<rect x="1525.4" y="1618.9" width="476" height="352.4" fill="#fff"/>
<line x1="1525.4" y1="1671.77" x2="2001.4" y2="1671.77" stroke="#f2f2f2" stroke-width="0.8"/>
<line x1="1525.4" y1="1768.09" x2="2001.4" y2="1768.09" stroke="#f2f2f2" stroke-width="0.8"/>
<line x1="1525.4" y1="1864.41" x2="2001.4" y2="1864.41" stroke="#f2f2f2" stroke-width="0.8"/>
<line x1="1525.4" y1="1960.73" x2="2001.4" y2="1960.73" stroke="#f2f2f2" stroke-width="0.8"/>
<line x1="1525.4" y1="1720.12" x2="2001.4" y2="1720.12" stroke="#ebebeb" stroke-width="1.4"/>
<line x1="1525.4" y1="1816.44" x2="2001.4" y2="1816.44" stroke="#ebebeb" stroke-width="1.4"/>
<line x1="1525.4" y1="1912.76" x2="2001.4" y2="1912.76" stroke="#ebebeb" stroke-width="1.4"/>
<line x1="1653.85" y1="1618.9" x2="1653.85" y2="1971.3" stroke="#ebebeb" stroke-width="1.4"/>
<line x1="1869.91" y1="1618.9" x2="1869.91" y2="1971.3" stroke="#ebebeb" stroke-width="1.4"/>
<rect x="1525.4" y="1618.9" width="476" height="352.4" fill="none" stroke="#333" stroke-width="1.6"/>
<text x="1519.6" y="1728.52" font-size="23.8" text-anchor="end" fill="#1a1a1a">0.8</text>
<text x="1519.6" y="1824.84" font-size="23.8" text-anchor="end" fill="#1a1a1a">0.4</text>
<text x="1519.6" y="1921.16" font-size="23.8" text-anchor="end" fill="#1a1a1a">0.0</text>
<text x="1449.5" y="1914.5" font-size="31.8" transform="rotate(-90 1449.5 1914.5)" textLength="249.7" lengthAdjust="spacingAndGlyphs">Astrocyte Related</text>
<text x="1477.6" y="1855.6" font-size="31.8" transform="rotate(-90 1477.6 1855.6)" textLength="133.89" lengthAdjust="spacingAndGlyphs">Signature</text>
<path d="M1653.85 1788.86 C1653.92 1801.46 1653.92 1849.62 1654.23 1864.41 C1654.55 1879.2 1654.67 1874.48 1655.74 1877.63 C1656.81 1880.78 1658.13 1881.41 1660.65 1883.3 C1663.17 1885.19 1666.63 1887.07 1670.85 1888.96 C1675.07 1890.85 1680.92 1892.74 1685.96 1894.63 C1691 1896.52 1696.03 1898.53 1701.07 1900.29 C1706.11 1902.06 1711.14 1903.51 1716.18 1905.21 C1721.22 1906.9 1726.44 1908.73 1731.29 1910.49 C1736.14 1912.26 1741.99 1914.14 1745.26 1915.78 C1748.54 1917.42 1750.43 1919.06 1750.93 1920.31 C1751.43 1921.57 1750.93 1922.33 1748.29 1923.34 C1745.64 1924.34 1741.36 1925.35 1735.07 1926.36 C1728.77 1927.37 1719.64 1928.25 1710.51 1929.38 C1701.38 1930.51 1688.35 1931.9 1680.29 1933.16 C1672.24 1934.42 1666.26 1935.8 1662.16 1936.93 C1658.07 1938.07 1657.13 1938.19 1655.74 1939.96 C1654.36 1941.72 1654.17 1946.25 1653.85 1947.51 L1653.85 1947.51 C1653.54 1946.25 1653.35 1941.72 1651.96 1939.96 C1650.58 1938.19 1649.64 1938.07 1645.54 1936.93 C1641.45 1935.8 1635.47 1934.42 1627.41 1933.16 C1619.35 1931.9 1606.32 1930.51 1597.19 1929.38 C1588.07 1928.25 1578.94 1927.37 1572.64 1926.36 C1566.35 1925.35 1562.07 1924.34 1559.42 1923.34 C1556.78 1922.33 1556.27 1921.57 1556.78 1920.31 C1557.28 1919.06 1559.17 1917.42 1562.44 1915.78 C1565.72 1914.14 1571.57 1912.26 1576.42 1910.49 C1581.27 1908.73 1586.49 1906.9 1591.53 1905.21 C1596.56 1903.51 1601.6 1902.06 1606.64 1900.29 C1611.67 1898.53 1616.71 1896.52 1621.75 1894.63 C1626.78 1892.74 1632.64 1890.85 1636.86 1888.96 C1641.07 1887.07 1644.54 1885.19 1647.05 1883.3 C1649.57 1881.41 1650.89 1880.78 1651.96 1877.63 C1653.04 1874.48 1653.16 1879.2 1653.48 1864.41 C1653.79 1849.62 1653.79 1801.46 1653.85 1788.86 Z" fill="#fff" stroke="#2a2a2a" stroke-width="1.8" stroke-linejoin="round"/>
<path d="M1869.91 1639.66 C1869.98 1677.12 1869.91 1824.43 1870.29 1864.41 C1870.67 1904.39 1870.86 1875.74 1872.18 1879.52 C1873.5 1883.3 1874.83 1884.56 1878.22 1887.07 C1881.62 1889.59 1887.04 1892.36 1892.58 1894.63 C1898.12 1896.9 1905.8 1898.91 1911.46 1900.67 C1917.13 1902.44 1920.91 1903.69 1926.57 1905.21 C1932.24 1906.72 1939.79 1908.35 1945.46 1909.74 C1951.13 1911.12 1956.92 1912.38 1960.57 1913.52 C1964.22 1914.65 1966.74 1915.53 1967.37 1916.54 C1968 1917.54 1964.98 1918.68 1964.35 1919.56 C1963.72 1920.44 1963.15 1920.94 1963.59 1921.83 C1964.03 1922.71 1967.49 1923.84 1966.99 1924.85 C1966.49 1925.85 1964.79 1926.86 1960.57 1927.87 C1956.35 1928.88 1949.87 1929.76 1941.68 1930.89 C1933.5 1932.02 1920.59 1933.41 1911.46 1934.67 C1902.34 1935.93 1893.21 1937.19 1886.91 1938.45 C1880.62 1939.7 1876.52 1940.21 1873.69 1942.22 C1870.86 1944.24 1870.54 1949.15 1869.91 1950.53 L1869.91 1950.53 C1869.29 1949.15 1868.97 1944.24 1866.14 1942.22 C1863.3 1940.21 1859.21 1939.7 1852.92 1938.45 C1846.62 1937.19 1837.49 1935.93 1828.36 1934.67 C1819.24 1933.41 1806.33 1932.02 1798.15 1930.89 C1789.96 1929.76 1783.48 1928.88 1779.26 1927.87 C1775.04 1926.86 1773.34 1925.85 1772.84 1924.85 C1772.33 1923.84 1775.8 1922.71 1776.24 1921.83 C1776.68 1920.94 1776.11 1920.44 1775.48 1919.56 C1774.85 1918.68 1771.83 1917.54 1772.46 1916.54 C1773.09 1915.53 1775.61 1914.65 1779.26 1913.52 C1782.91 1912.38 1788.7 1911.12 1794.37 1909.74 C1800.03 1908.35 1807.59 1906.72 1813.26 1905.21 C1818.92 1903.69 1822.7 1902.44 1828.36 1900.67 C1834.03 1898.91 1841.71 1896.9 1847.25 1894.63 C1852.79 1892.36 1858.21 1889.59 1861.6 1887.07 C1865 1884.56 1866.33 1883.3 1867.65 1879.52 C1868.97 1875.74 1869.16 1904.39 1869.54 1864.41 C1869.91 1824.43 1869.85 1677.12 1869.91 1639.66 Z" fill="#e8383f" stroke="#2a2a2a" stroke-width="1.8" stroke-linejoin="round"/>
<line x1="1653.85" y1="1879.52" x2="1653.85" y2="1902.94" stroke="#2a2a2a" stroke-width="1.3"/>
<line x1="1653.85" y1="1921.07" x2="1653.85" y2="1938.07" stroke="#2a2a2a" stroke-width="1.3"/>
<line x1="1653.85" y1="1788.86" x2="1653.85" y2="1826.64" stroke="#2f2f2f" stroke-width="3.8" stroke-linecap="round"/>
<line x1="1653.85" y1="1811.53" x2="1653.85" y2="1878.76" stroke="#2f2f2f" stroke-width="5" stroke-linecap="round"/>
<line x1="1869.91" y1="1890.85" x2="1869.91" y2="1910.49" stroke="#2a2a2a" stroke-width="1.3"/>
<line x1="1869.91" y1="1926.74" x2="1869.91" y2="1941.84" stroke="#2a2a2a" stroke-width="1.3"/>
<line x1="1869.91" y1="1751.09" x2="1869.91" y2="1811.53" stroke="#2f2f2f" stroke-width="3.6" stroke-linecap="round"/>
<line x1="1869.91" y1="1803.97" x2="1869.91" y2="1891.61" stroke="#2f2f2f" stroke-width="4.8" stroke-linecap="round"/>
<line x1="1869.91" y1="1656.66" x2="1869.91" y2="1751.09" stroke="#2f2f2f" stroke-width="1.4"/>
<circle cx="1869.91" cy="1655.53" r="2.6" fill="#2f2f2f"/>
<circle cx="1869.91" cy="1696.32" r="2.6" fill="#2f2f2f"/>
<circle cx="1869.91" cy="1718.61" r="2.6" fill="#2f2f2f"/>
<circle cx="1869.91" cy="1730.32" r="2.6" fill="#2f2f2f"/>
<circle cx="1869.91" cy="1732.96" r="2.6" fill="#2f2f2f"/>
<circle cx="1869.91" cy="1735.98" r="2.6" fill="#2f2f2f"/>
<circle cx="1869.91" cy="1744.29" r="2.6" fill="#2f2f2f"/>
<circle cx="1653.85" cy="1788.86" r="2.6" fill="#2f2f2f"/>
<rect x="1643.28" y="1902.94" width="21.91" height="18.13" fill="#fff" stroke="#2a2a2a" stroke-width="1.3"/>
<line x1="1643.28" y1="1913.52" x2="1665.19" y2="1913.52" stroke="#2a2a2a" stroke-width="2.8"/>
<rect x="1858.96" y="1910.49" width="21.91" height="16.24" fill="#fff" stroke="#2a2a2a" stroke-width="1.3"/>
<line x1="1858.96" y1="1918.43" x2="1880.87" y2="1918.43" stroke="#2a2a2a" stroke-width="2.8"/>
<text x="1652.72" y="2002.66" font-size="32" text-anchor="middle">Human</text>
<text x="1657.06" y="2031.1" font-size="32" text-anchor="middle">Extracranial</text>
<text x="1657.63" y="2059.55" font-size="32" text-anchor="middle">SCLC lesions</text>
<text x="1883.14" y="2002.66" font-size="32" text-anchor="middle">Human</text>
<text x="1884.27" y="2031.1" font-size="32" text-anchor="middle">Brain-metastatic</text>
<text x="1883.32" y="2059.55" font-size="32" text-anchor="middle">SCLC lesions</text>
<text x="2.8" y="2249.9" font-size="37" font-weight="bold">n</text>
<text x="254.7" y="2273.3" font-size="36" text-anchor="middle">Vehicle</text>
<text x="694.2" y="2273.3" font-size="36" text-anchor="middle">LEV</text>
<rect x="23.5" y="2281.2" width="41.7" height="412.5" fill="#000"/>
<text x="58.3" y="2563.7" font-size="33.2" font-weight="bold" fill="#47b85c" transform="rotate(-90 58.3 2563.7)" class="dj" textLength="63" lengthAdjust="spacingAndGlyphs">GFP</text>
<text x="58.3" y="2487" font-size="33.2" font-weight="bold" fill="#4a8cf2" transform="rotate(-90 58.3 2487)" class="dj" textLength="76.1" lengthAdjust="spacingAndGlyphs">DAPI</text>
<g transform="translate(72.3 2281.2)" clip-path="url(#c1)">
<rect width="412.5" height="412.5" fill="#0a0a80"/>
<rect width="412.5" height="412.5" filter="url(#fbn)"/>
<g filter="url(#blur12)" opacity="0.6"><polygon points="412.83,-3.03 412.83,39.35 369.85,63.56 364.1,110.47 352,171.31 345.94,232.14 321.73,292.68 267.25,335.35 242.74,383.78 188.26,417.68 66.89,417.68 48.43,353.51 30.27,292.68 -5.45,238.2 -5.45,141.04 109.26,80.21 200.36,49.64 260.9,19.37 351.69,3.03" fill="#1d6a86"/></g>
<g filter="url(#blur12)" opacity="0.55"><polygon points="306.3,78.69 351.69,108.96 348.67,172.52 342.62,233.05 318.4,290.56 263.92,332.93 239.71,381.36 188.26,417.68 97.46,417.68 85.35,372.28 121.67,326.88 185.23,281.48 230.63,227 260.9,160.41 285.11,115.01" fill="#2fae6a"/><polygon points="0,160.41 55.08,148.31 97.46,190.68 85.35,251.21 109.56,296.61 97.46,357.14 61.14,342.01 30.87,281.48 0,236.08" fill="#2a9a70"/><polygon points="64.16,281.48 139.83,251.21 200.36,281.48 170.1,357.14 139.83,414.65 85.35,414.65 58.11,357.14 49.03,311.74" fill="#2fae6a"/></g>
<g filter="url(#fg1)">
<polygon points="412.83,-3.03 412.83,39.35 369.85,63.56 364.1,110.47 352,171.31 345.94,232.14 321.73,292.68 267.25,335.35 242.74,383.78 188.26,417.68 66.89,417.68 48.43,353.51 30.27,292.68 -5.45,238.2 -5.45,141.04 109.26,80.21 200.36,49.64 260.9,19.37 351.69,3.03" fill="#fff" fill-opacity="0.52"/>
<polygon points="306.3,78.69 351.69,108.96 348.67,172.52 342.62,233.05 318.4,290.56 263.92,332.93 239.71,381.36 188.26,417.68 97.46,417.68 85.35,372.28 121.67,326.88 185.23,281.48 230.63,227 260.9,160.41 285.11,115.01" fill="#fff" fill-opacity="0.85"/>
<polygon points="0,160.41 55.08,148.31 97.46,190.68 85.35,251.21 109.56,296.61 97.46,357.14 61.14,342.01 30.87,281.48 0,236.08" fill="#fff" fill-opacity="0.55"/>
<polygon points="85.35,136.2 200.36,93.83 291.16,78.69 291.16,160.41 230.63,236.08 170.1,296.61 97.46,281.48 73.24,220.94" fill="#fff" fill-opacity="0.55"/>
<polygon points="64.16,281.48 139.83,251.21 200.36,281.48 170.1,357.14 139.83,414.65 85.35,414.65 58.11,357.14 49.03,311.74" fill="#fff" fill-opacity="0.7"/>
<line x1="260.9" y1="39.35" x2="412.83" y2="6.05" stroke="#fff" stroke-opacity="0.3" stroke-width="9.08"/>
<line x1="306.3" y1="63.56" x2="412.83" y2="39.35" stroke="#fff" stroke-opacity="0.3" stroke-width="7.87"/>
<line x1="200.36" y1="27.24" x2="321.43" y2="9.08" stroke="#fff" stroke-opacity="0.2" stroke-width="4.24"/>
<line x1="139.83" y1="78.69" x2="230.63" y2="48.43" stroke="#fff" stroke-opacity="0.15" stroke-width="4.24"/>
</g>
<circle cx="87.77" cy="369.25" r="13.92" fill="#02021c" filter="url(#blur2)"/>
<circle cx="115.62" cy="211.86" r="3.63" fill="#02021c" filter="url(#blur2)"/>
<circle cx="76.27" cy="311.74" r="4.24" fill="#02021c" filter="url(#blur2)"/>
<circle cx="259.38" cy="322.34" r="3.63" fill="#02021c" filter="url(#blur2)"/>
<polygon points="412.5,412.6 412.5,373.5 405.8,378.6 391.4,384.8 274.2,384.8 265.9,382.8 259.8,387.9 269,395.1 267,402.3 257.7,410.5 257.7,412.6" fill="#000"/>
</g>
<g transform="translate(492.2 2281.2)" clip-path="url(#c1)">
<rect width="412.5" height="412.5" fill="#0c0b82"/>
<rect width="412.5" height="412.5" filter="url(#fbn)" opacity="0.5"/>
<ellipse cx="217.21" cy="229.74" rx="140" ry="160" fill="#1a24b0" filter="url(#blur25)" opacity="0.4"/>
<g filter="url(#blur12)" opacity="0.8"><polygon points="197.88,115.68 256.08,114.17 295.9,139.74 317.34,169.81 314.28,214.93 289.77,245 268.33,284.1 237.7,320.19 194.81,335.23 161.12,330.72 144.27,299.14 153.46,254.02 164.18,199.89 179.5,154.78" fill="#2c9a9a"/></g>
<g filter="url(#blur12)" opacity="0.7"><polygon points="200.5,229.74 239.49,218.6 256.2,252.02 233.92,291.01 200.5,302.14 181.01,279.87 183.79,246.45" fill="#5cf0a0"/></g>
<g filter="url(#fg2)">
<polygon points="197.88,115.68 256.08,114.17 295.9,139.74 317.34,169.81 314.28,214.93 289.77,245 268.33,284.1 237.7,320.19 194.81,335.23 161.12,330.72 144.27,299.14 153.46,254.02 164.18,199.89 179.5,154.78" fill="#fff" fill-opacity="0.52"/>
<polygon points="200.5,229.74 239.49,218.6 256.2,252.02 233.92,291.01 200.5,302.14 181.01,279.87 183.79,246.45" fill="#fff" fill-opacity="0.45"/>
<polygon points="211.64,151.77 261.77,151.77 284.04,185.19 267.34,218.6 228.35,218.6 206.07,190.75" fill="#fff" fill-opacity="0.18"/>
<circle cx="122.53" cy="335.56" r="7.13" fill="#fff" fill-opacity="0.6"/>
<circle cx="178.22" cy="338.35" r="8.02" fill="#fff" fill-opacity="0.35"/>
<circle cx="119.74" cy="360.62" r="3.56" fill="#fff" fill-opacity="0.4"/>
<circle cx="239.49" cy="98.86" r="4.46" fill="#fff" fill-opacity="0.3"/>
<circle cx="194.93" cy="93.29" r="6.24" fill="#fff" fill-opacity="0.25"/>
<circle cx="311.89" cy="201.89" r="5.35" fill="#fff" fill-opacity="0.3"/>
<circle cx="144.81" cy="224.17" r="4.46" fill="#fff" fill-opacity="0.25"/>
<circle cx="178.22" cy="374.55" r="4.46" fill="#fff" fill-opacity="0.3"/>
<circle cx="211.64" cy="368.98" r="3.56" fill="#fff" fill-opacity="0.3"/>
<circle cx="128.1" cy="285.44" r="4.46" fill="#fff" fill-opacity="0.3"/>
</g>
<path d="M13.92 101.64 C15.78 103.5 21.81 108.14 25.06 112.78 C28.31 117.42 30.17 124.39 33.42 129.49 C36.67 134.6 40.38 139.24 44.56 143.41 C48.73 147.59 56.16 152.7 58.48 154.55" fill="none" stroke="#050540" stroke-width="3.5" stroke-linecap="round" filter="url(#blur2)" opacity="0.8"/>
<ellipse cx="122.53" cy="336.12" rx="3.9" ry="2.51" fill="#4fe88a" fill-opacity="0.9" filter="url(#blur1)"/>
<ellipse cx="181.01" cy="338.35" rx="6.13" ry="3.34" fill="#4fe88a" fill-opacity="0.45" filter="url(#blur1)"/>
<ellipse cx="119.74" cy="361.18" rx="2.51" ry="1.67" fill="#4fe88a" fill-opacity="0.7" filter="url(#blur1)"/>
<ellipse cx="239.49" cy="98.3" rx="2.51" ry="2.23" fill="#4fe88a" fill-opacity="0.4" filter="url(#blur1)"/>
<ellipse cx="196.32" cy="93.29" rx="4.46" ry="1.95" fill="#4fe88a" fill-opacity="0.35" filter="url(#blur1)"/>
<ellipse cx="313.28" cy="201.89" rx="2.23" ry="3.34" fill="#4fe88a" fill-opacity="0.4" filter="url(#blur1)"/>
<ellipse cx="144.81" cy="224.73" rx="2.23" ry="2.78" fill="#4fe88a" fill-opacity="0.35" filter="url(#blur1)"/>
<ellipse cx="178.22" cy="374.55" rx="2.78" ry="2.23" fill="#4fe88a" fill-opacity="0.4" filter="url(#blur1)"/>
<ellipse cx="211.64" cy="367.59" rx="1.67" ry="3.34" fill="#4fe88a" fill-opacity="0.4" filter="url(#blur1)"/>
<ellipse cx="128.1" cy="286.83" rx="2.78" ry="2.51" fill="#4fe88a" fill-opacity="0.4" filter="url(#blur1)"/>
<ellipse cx="303.54" cy="151.77" rx="3.9" ry="2.23" fill="#4fe88a" fill-opacity="0.35" filter="url(#blur1)"/>
<ellipse cx="86.33" cy="238.1" rx="1.39" ry="2.51" fill="#4fe88a" fill-opacity="0.3" filter="url(#blur1)"/>
<ellipse cx="158.73" cy="171.26" rx="2.23" ry="2.23" fill="#4fe88a" fill-opacity="0.3" filter="url(#blur1)"/>
<ellipse cx="270.12" cy="257.59" rx="2.51" ry="2.23" fill="#4fe88a" fill-opacity="0.4" filter="url(#blur1)"/>
<ellipse cx="233.92" cy="391.26" rx="1.95" ry="2.78" fill="#4fe88a" fill-opacity="0.25" filter="url(#blur1)"/>
</g>
<rect x="346" y="2651" width="130.8" height="14.3" fill="#fff"/>
<text x="371.2" y="2686.1" font-size="21.2" font-weight="bold" fill="#fff" class="dj" textLength="80.2" lengthAdjust="spacingAndGlyphs">200 µm</text>
<rect x="765.3" y="2651" width="132" height="14.3" fill="#fff"/>
<text x="790.8" y="2686.1" font-size="21.2" font-weight="bold" fill="#fff" class="dj" textLength="80.2" lengthAdjust="spacingAndGlyphs">200 µm</text>
<text x="950.5" y="2248.8" font-size="37" font-weight="bold">o</text>
<text x="1227.5" y="2309.2" font-size="35.5" text-anchor="middle">16T SCLC</text>
<rect x="1135.3" y="2518.6" width="84" height="147.2" fill="#fff" stroke="#000" stroke-width="2.6"/>
<rect x="1266.4" y="2597.3" width="84.1" height="68.5" fill="#fff" stroke="#000" stroke-width="2.6"/>
<line x1="1089.5" y1="2356.3" x2="1089.5" y2="2667.1" stroke="#000" stroke-width="2.6"/>
<line x1="1076.6" y1="2665.8" x2="1396.9" y2="2665.8" stroke="#000" stroke-width="2.6"/>
<line x1="1076" y1="2357.6" x2="1089.5" y2="2357.6" stroke="#000" stroke-width="2.6"/>
<line x1="1076" y1="2460.7" x2="1089.5" y2="2460.7" stroke="#000" stroke-width="2.6"/>
<line x1="1076" y1="2563.4" x2="1089.5" y2="2563.4" stroke="#000" stroke-width="2.6"/>
<line x1="1076" y1="2665.8" x2="1089.5" y2="2665.8" stroke="#000" stroke-width="2.6"/>
<line x1="1176.9" y1="2665.8" x2="1176.9" y2="2678.8" stroke="#000" stroke-width="2.6"/>
<line x1="1308.8" y1="2665.8" x2="1308.8" y2="2678.8" stroke="#000" stroke-width="2.6"/>
<text x="1070.8" y="2367.4" font-size="27.5" text-anchor="end">1.5</text>
<text x="1070.8" y="2470.5" font-size="27.5" text-anchor="end">1.0</text>
<text x="1070.8" y="2573.2" font-size="27.5" text-anchor="end">0.5</text>
<text x="1070.8" y="2675.6" font-size="27.5" text-anchor="end">0.0</text>
<line x1="1176.9" y1="2487.1" x2="1176.9" y2="2548.1" stroke="#4d4d4d" stroke-width="2.6"/>
<line x1="1154.05" y1="2487.1" x2="1199.75" y2="2487.1" stroke="#4d4d4d" stroke-width="2.6" stroke-linecap="round"/>
<line x1="1154.05" y1="2548.1" x2="1199.75" y2="2548.1" stroke="#4d4d4d" stroke-width="2.6" stroke-linecap="round"/>
<line x1="1308.8" y1="2581.4" x2="1308.8" y2="2607.5" stroke="#4d4d4d" stroke-width="2.6"/>
<line x1="1286.3" y1="2581.4" x2="1331.3" y2="2581.4" stroke="#4d4d4d" stroke-width="2.6" stroke-linecap="round"/>
<line x1="1286.3" y1="2607.5" x2="1331.3" y2="2607.5" stroke="#4d4d4d" stroke-width="2.6" stroke-linecap="round"/>
<rect x="1169.85" y="2392.25" width="15.5" height="15.5" fill="#4d4d4d" fill-opacity="0.85"/>
<rect x="1169.85" y="2439.75" width="15.5" height="15.5" fill="#4d4d4d" fill-opacity="0.85"/>
<rect x="1169.85" y="2553.25" width="15.5" height="15.5" fill="#4d4d4d" fill-opacity="0.85"/>
<rect x="1133.25" y="2565.85" width="15.5" height="15.5" fill="#4d4d4d" fill-opacity="0.85"/>
<rect x="1204.45" y="2545.45" width="15.5" height="15.5" fill="#4d4d4d" fill-opacity="0.85"/>
<rect x="1204.45" y="2561.45" width="15.5" height="15.5" fill="#4d4d4d" fill-opacity="0.85"/>
<rect x="1301.05" y="2538.65" width="15.5" height="15.5" fill="#4d4d4d" fill-opacity="0.85"/>
<rect x="1335.95" y="2558.05" width="15.5" height="15.5" fill="#4d4d4d" fill-opacity="0.85"/>
<rect x="1301.05" y="2571.55" width="15.5" height="15.5" fill="#4d4d4d" fill-opacity="0.85"/>
<rect x="1264.75" y="2592.95" width="15.5" height="15.5" fill="#4d4d4d" fill-opacity="0.85"/>
<rect x="1335.95" y="2596.35" width="15.5" height="15.5" fill="#4d4d4d" fill-opacity="0.85"/>
<rect x="1301.05" y="2603.75" width="15.5" height="15.5" fill="#4d4d4d" fill-opacity="0.85"/>
<rect x="1301.05" y="2647.15" width="15.5" height="15.5" fill="#4d4d4d" fill-opacity="0.85"/>
<path d="M1176.9 2382 L1176.9 2362.7 L1308.8 2362.7 L1308.8 2529.5" fill="none" stroke="#000" stroke-width="2.6" stroke-linejoin="miter"/>
<text x="1232.02" y="2351.39" font-size="25.5" class="dj">✱</text>
<text x="1023.3" y="2678.8" font-size="33.5" transform="rotate(-90 1023.3 2678.8)" textLength="313.3" lengthAdjust="spacingAndGlyphs">Mean tumor area [mm</text>
<text x="1001.5" y="2364.3" font-size="20" transform="rotate(-90 1001.5 2364.3)">2</text>
<text x="1023.3" y="2355.6" font-size="33.5" transform="rotate(-90 1023.3 2355.6)" textLength="8.5" lengthAdjust="spacingAndGlyphs">]</text>
<text x="1181" y="2712" font-size="35.7" text-anchor="middle">Vehicle</text>
<text x="1311.5" y="2712" font-size="35.7" text-anchor="middle">LEV</text>
<text x="1493.2" y="2248.8" font-size="37" font-weight="bold">p</text>
<text x="1780.6" y="2309.2" font-size="35.5" text-anchor="middle">H446 SCLC</text>
<rect x="1694.8" y="2484.7" width="84.8" height="180.2" fill="#fff" stroke="#000" stroke-width="2.6"/>
<rect x="1828.1" y="2549.8" width="84.7" height="115.1" fill="#fff" stroke="#000" stroke-width="2.6"/>
<line x1="1648.5" y1="2351.2" x2="1648.5" y2="2666.2" stroke="#000" stroke-width="2.6"/>
<line x1="1635.3" y1="2664.9" x2="1959.3" y2="2664.9" stroke="#000" stroke-width="2.6"/>
<line x1="1635" y1="2352.5" x2="1648.5" y2="2352.5" stroke="#000" stroke-width="2.6"/>
<line x1="1635" y1="2430.6" x2="1648.5" y2="2430.6" stroke="#000" stroke-width="2.6"/>
<line x1="1635" y1="2508.6" x2="1648.5" y2="2508.6" stroke="#000" stroke-width="2.6"/>
<line x1="1635" y1="2586.8" x2="1648.5" y2="2586.8" stroke="#000" stroke-width="2.6"/>
<line x1="1635" y1="2664.9" x2="1648.5" y2="2664.9" stroke="#000" stroke-width="2.6"/>
<line x1="1737.2" y1="2664.9" x2="1737.2" y2="2677.9" stroke="#000" stroke-width="2.6"/>
<line x1="1870.4" y1="2664.9" x2="1870.4" y2="2677.9" stroke="#000" stroke-width="2.6"/>
<text x="1626.6" y="2362.3" font-size="27.5" text-anchor="end">20</text>
<text x="1626.6" y="2440.4" font-size="27.5" text-anchor="end">15</text>
<text x="1626.6" y="2518.4" font-size="27.5" text-anchor="end">10</text>
<text x="1626.6" y="2596.6" font-size="27.5" text-anchor="end">5</text>
<text x="1626.6" y="2674.7" font-size="27.5" text-anchor="end">0</text>
<line x1="1737.2" y1="2455.6" x2="1737.2" y2="2511.5" stroke="#4d4d4d" stroke-width="2.6"/>
<line x1="1714.2" y1="2455.6" x2="1760.2" y2="2455.6" stroke="#4d4d4d" stroke-width="2.6" stroke-linecap="round"/>
<line x1="1714.2" y1="2511.5" x2="1760.2" y2="2511.5" stroke="#4d4d4d" stroke-width="2.6" stroke-linecap="round"/>
<line x1="1870.4" y1="2535.6" x2="1870.4" y2="2560" stroke="#4d4d4d" stroke-width="2.6"/>
<line x1="1847.5" y1="2535.6" x2="1893.3" y2="2535.6" stroke="#4d4d4d" stroke-width="2.6" stroke-linecap="round"/>
<line x1="1847.5" y1="2560" x2="1893.3" y2="2560" stroke="#4d4d4d" stroke-width="2.6" stroke-linecap="round"/>
<rect x="1729.45" y="2421.75" width="15.5" height="15.5" fill="#4d4d4d" fill-opacity="0.85"/>
<rect x="1729.45" y="2492.25" width="15.5" height="15.5" fill="#4d4d4d" fill-opacity="0.85"/>
<rect x="1729.45" y="2514.25" width="15.5" height="15.5" fill="#4d4d4d" fill-opacity="0.85"/>
<rect x="1862.65" y="2494.65" width="15.5" height="15.5" fill="#4d4d4d" fill-opacity="0.85"/>
<rect x="1826.05" y="2542.05" width="15.5" height="15.5" fill="#4d4d4d" fill-opacity="0.85"/>
<rect x="1862.65" y="2544.75" width="15.5" height="15.5" fill="#4d4d4d" fill-opacity="0.85"/>
<rect x="1898.95" y="2555.65" width="15.5" height="15.5" fill="#4d4d4d" fill-opacity="0.85"/>
<rect x="1826.05" y="2566.45" width="15.5" height="15.5" fill="#4d4d4d" fill-opacity="0.85"/>
<path d="M1737.2 2411.5 L1737.2 2392.2 L1870.4 2392.2 L1870.4 2484.7" fill="none" stroke="#000" stroke-width="2.6" stroke-linejoin="miter"/>
<text x="1792.62" y="2379.19" font-size="25.5" class="dj">✱</text>
<text x="1586.3" y="2672.1" font-size="33.5" transform="rotate(-90 1586.3 2672.1)" textLength="312.3" lengthAdjust="spacingAndGlyphs">Mean tumor area [mm</text>
<text x="1564.5" y="2359.3" font-size="20" transform="rotate(-90 1564.5 2359.3)">2</text>
<text x="1586.3" y="2349.5" font-size="33.5" transform="rotate(-90 1586.3 2349.5)" textLength="8.5" lengthAdjust="spacingAndGlyphs">]</text>
<text x="1756.7" y="2712" font-size="35.7" text-anchor="middle">Vehicle</text>
<text x="1873.6" y="2712" font-size="35.7" text-anchor="middle">LEV</text>
</svg>
</body>
</html>
